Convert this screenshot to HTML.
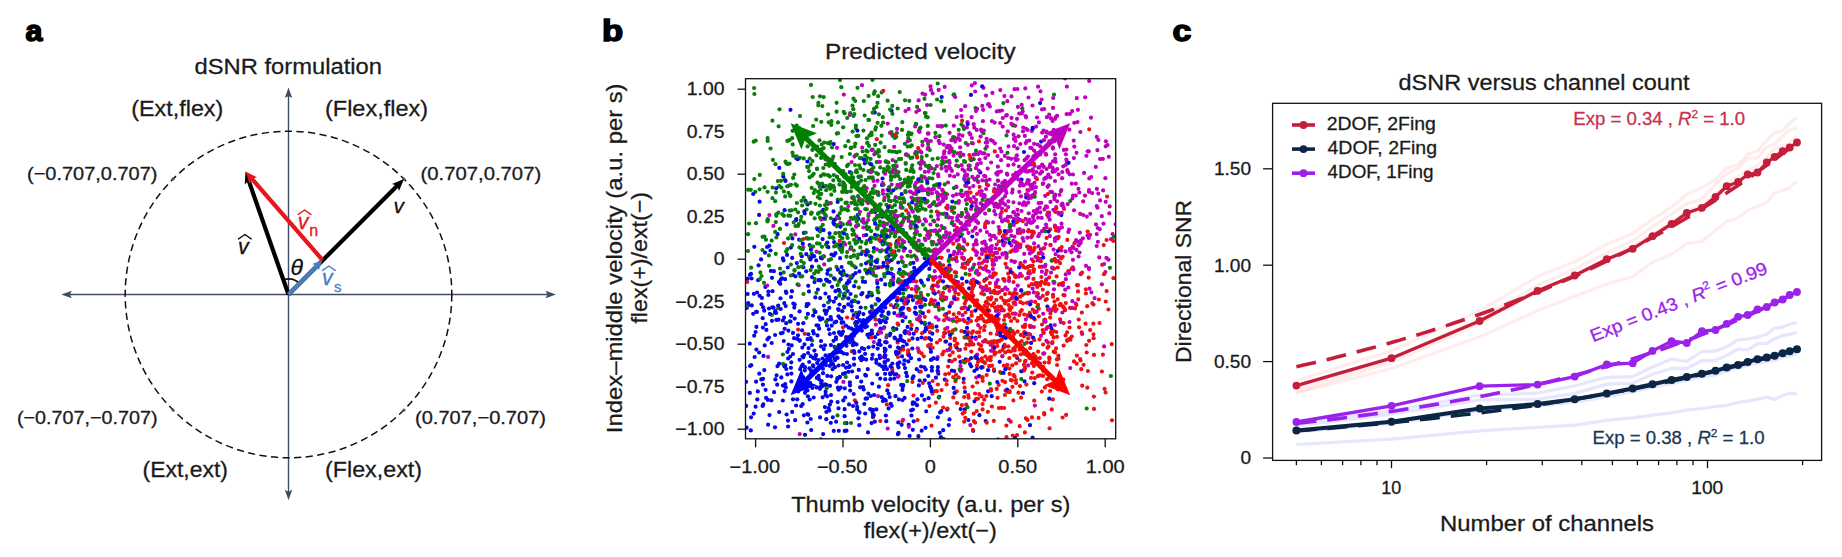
<!DOCTYPE html>
<html lang="en"><head><meta charset="utf-8"><title>dSNR figure</title>
<style>html,body{margin:0;padding:0;background:#fff}body{width:1842px;height:557px;overflow:hidden}svg{display:block}text[color]{fill:currentColor;stroke:currentColor;stroke-width:.28px}</style>
</head><body>
<svg width="1842" height="557" viewBox="0 0 1842 557" font-family='"Liberation Sans", sans-serif'>
<rect width="1842" height="557" fill="#fff"/>
<g id="panel-a">
<text x="25.6" y="41.0" font-size="29.3" fill="#000" textLength="16.9" lengthAdjust="spacingAndGlyphs" font-weight="bold" stroke="#000" stroke-width="1.5">a</text>
<text x="288.3" y="73.8" font-size="22.5" text-anchor="middle" color="#1a1a1a" textLength="187.5" lengthAdjust="spacingAndGlyphs">dSNR formulation</text>
<g stroke="#3f4e63" stroke-width="1.4" fill="#3f4e63">
<line x1="66" y1="294.5" x2="551" y2="294.5"/>
<line x1="288.5" y1="92" x2="288.5" y2="496"/>
</g>
<polygon fill="#3f4e63" points="61.30,294.50 71.80,290.80 69.90,294.50 71.80,298.20"/>
<polygon fill="#3f4e63" points="556.00,294.50 545.50,298.20 547.40,294.50 545.50,290.80"/>
<polygon fill="#3f4e63" points="288.50,87.50 292.20,98.00 288.50,96.10 284.80,98.00"/>
<polygon fill="#3f4e63" points="288.50,500.30 284.80,489.80 288.50,491.70 292.20,489.80"/>
<circle cx="288.5" cy="294.5" r="163.3" fill="none" stroke="#111" stroke-width="1.5" stroke-dasharray="7.2 4.4"/>
<circle cx="173.0" cy="179.0" r="1.6" fill="#555"/>
<circle cx="173.0" cy="410.0" r="1.6" fill="#555"/>
<circle cx="404.0" cy="179.0" r="1.6" fill="#555"/>
<circle cx="404.0" cy="410.0" r="1.6" fill="#555"/>
<path d="M283.3,279.9 A15.5,15.5 0 0 1 299.5,283.5" fill="none" stroke="#111" stroke-width="1.8"/>
<line x1="288.5" y1="294.5" x2="397.92" y2="185.08" stroke="#000" stroke-width="4.2"/>
<polygon fill="#000" points="403.97,179.03 399.02,191.05 397.25,185.75 391.95,183.98"/>
<line x1="288.5" y1="294.5" x2="248.32" y2="179.57" stroke="#000" stroke-width="4.2"/>
<polygon fill="#000" points="245.50,171.50 254.18,181.18 248.64,180.47 244.74,184.48"/>
<line x1="322.5" y1="260.0" x2="251.11" y2="177.95" stroke="#e8141e" stroke-width="4.2"/>
<polygon fill="#e8141e" points="245.50,171.50 257.15,177.27 251.74,178.67 249.60,183.84"/>
<line x1="288.5" y1="294.5" x2="317.45" y2="265.13" stroke="#4a7ebb" stroke-width="4.2"/>
<polygon fill="#4a7ebb" points="322.50,260.00 318.76,270.35 316.88,265.70 312.20,263.89"/>
<text x="131.3" y="115.5" font-size="22.5" color="#1a1a1a" textLength="92" lengthAdjust="spacingAndGlyphs">(Ext,flex)</text>
<text x="325" y="115.5" font-size="22.5" color="#1a1a1a" textLength="103" lengthAdjust="spacingAndGlyphs">(Flex,flex)</text>
<text x="142.5" y="477" font-size="22.5" color="#1a1a1a" textLength="85.5" lengthAdjust="spacingAndGlyphs">(Ext,ext)</text>
<text x="325" y="477" font-size="22.5" color="#1a1a1a" textLength="97" lengthAdjust="spacingAndGlyphs">(Flex,ext)</text>
<text x="27" y="179.5" font-size="18.5" color="#1a1a1a" textLength="130.5" lengthAdjust="spacingAndGlyphs">(−0.707,0.707)</text>
<text x="420.5" y="179.5" font-size="18.5" color="#1a1a1a" textLength="120.7" lengthAdjust="spacingAndGlyphs">(0.707,0.707)</text>
<text x="17" y="424.3" font-size="18.5" color="#1a1a1a" textLength="140.5" lengthAdjust="spacingAndGlyphs">(−0.707,−0.707)</text>
<text x="415" y="424.3" font-size="18.5" color="#1a1a1a" textLength="131" lengthAdjust="spacingAndGlyphs">(0.707,−0.707)</text>
<text x="238" y="253.5" font-size="21.5" font-style="italic" color="#111">v</text>
<path d="M238.6,238.9 Q243.0,235.9 244.9,234.5 Q246.8,235.9 251.2,238.9" fill="none" stroke="#111" stroke-width="1.5" stroke-linejoin="round" stroke-linecap="round"/>
<text x="393.5" y="212.8" font-size="21" font-style="italic" color="#111">v</text>
<text x="297.7" y="229" font-size="21.5" font-style="italic" color="#e8141e">v</text>
<path d="M298.3,214.4 Q302.7,211.4 304.6,210.0 Q306.5,211.4 310.9,214.4" fill="none" stroke="#e8141e" stroke-width="1.5" stroke-linejoin="round" stroke-linecap="round"/>
<text x="309.3" y="236.2" font-size="16" color="#e8141e">n</text>
<text x="322" y="285" font-size="21.5" font-style="italic" color="#4a7ebb">v</text>
<path d="M322.6,270.4 Q327.0,267.4 328.9,266.0 Q330.8,267.4 335.2,270.4" fill="none" stroke="#4a7ebb" stroke-width="1.5" stroke-linejoin="round" stroke-linecap="round"/>
<text x="334.0" y="292.2" font-size="15" color="#4a7ebb">s</text>
<text x="290.5" y="275.3" font-size="23" font-style="italic" color="#111">θ</text>
</g>
<g id="panel-b">
<text x="602.0" y="41.0" font-size="29.3" fill="#000" textLength="21.2" lengthAdjust="spacingAndGlyphs" font-weight="bold" stroke="#000" stroke-width="1.5">b</text>
<text x="920.3" y="58.8" font-size="22.5" text-anchor="middle" color="#1a1a1a" textLength="190.5" lengthAdjust="spacingAndGlyphs">Predicted velocity</text>
<clipPath id="cb"><rect x="745.5" y="78.7" width="370.20000000000005" height="360.1"/></clipPath>
<g clip-path="url(#cb)">
<g fill="none" stroke-width="4.2" stroke-linecap="round">
<path stroke="#bf00bf" d="M1085.0 195.6h0"/>
<path stroke="#ee1111" d="M954.9 338.5h0"/>
<path stroke="#bf00bf" d="M919.9 299.6h0"/>
<path stroke="#ee1111" d="M1019.3 247.4h0"/>
<path stroke="#0a7d0a" d="M925.9 116.7h0"/>
<path stroke="#bf00bf" d="M933.3 242.1h0"/>
<path stroke="#0a7d0a" d="M907.8 186.6h0M939.3 236.1h0"/>
<path stroke="#0808e6" d="M890.0 346.4h0"/>
<path stroke="#0a7d0a" d="M828.0 204.1h0"/>
<path stroke="#0808e6" d="M843.2 322.3h0"/>
<path stroke="#0a7d0a" d="M969.8 306.5h0"/>
<path stroke="#bf00bf" d="M832.2 159.3h0"/>
<path stroke="#ee1111" d="M1016.7 242.6h0"/>
<path stroke="#0a7d0a" d="M867.3 142.9h0"/>
<path stroke="#bf00bf" d="M931.3 168.1h0"/>
<path stroke="#0a7d0a" d="M867.5 151.6h0"/>
<path stroke="#bf00bf" d="M1043.2 313.8h0"/>
<path stroke="#0a7d0a" d="M891.4 132.0h0M882.8 117.2h0"/>
<path stroke="#ee1111" d="M1040.1 283.1h0"/>
<path stroke="#0a7d0a" d="M849.9 154.0h0"/>
<path stroke="#bf00bf" d="M912.9 281.1h0"/>
<path stroke="#0a7d0a" d="M848.2 164.6h0"/>
<path stroke="#bf00bf" d="M960.1 147.3h0"/>
<path stroke="#0a7d0a" d="M870.4 177.5h0M927.8 125.9h0"/>
<path stroke="#0808e6" d="M750.8 430.4h0"/>
<path stroke="#0a7d0a" d="M877.7 235.6h0"/>
<path stroke="#ee1111" d="M962.1 257.7h0"/>
<path stroke="#bf00bf" d="M1006.9 173.7h0"/>
<path stroke="#0a7d0a" d="M1016.0 222.3h0"/>
<path stroke="#bf00bf" d="M982.1 131.4h0"/>
<path stroke="#0808e6" d="M826.3 419.2h0"/>
<path stroke="#0a7d0a" d="M819.2 212.6h0"/>
<path stroke="#0808e6" d="M841.0 351.8h0M857.4 322.7h0"/>
<path stroke="#ee1111" d="M1038.7 253.4h0"/>
<path stroke="#0a7d0a" d="M1024.9 293.5h0M876.6 162.1h0"/>
<path stroke="#ee1111" d="M1063.8 307.7h0"/>
<path stroke="#bf00bf" d="M873.9 342.1h0M1012.6 189.7h0"/>
<path stroke="#0a7d0a" d="M830.8 203.1h0"/>
<path stroke="#bf00bf" d="M973.3 279.7h0"/>
<path stroke="#0a7d0a" d="M867.1 273.5h0M910.7 263.2h0M932.4 327.5h0"/>
<path stroke="#0808e6" d="M769.4 245.7h0"/>
<path stroke="#bf00bf" d="M921.5 186.3h0"/>
<path stroke="#0a7d0a" d="M878.4 292.5h0"/>
<path stroke="#bf00bf" d="M939.0 240.3h0"/>
<path stroke="#0a7d0a" d="M843.7 173.6h0"/>
<path stroke="#bf00bf" d="M988.1 155.0h0"/>
<path stroke="#0808e6" d="M818.7 360.0h0"/>
<path stroke="#ee1111" d="M1032.6 265.8h0"/>
<path stroke="#bf00bf" d="M1014.0 146.2h0M1067.9 172.2h0"/>
<path stroke="#0a7d0a" d="M874.3 220.3h0"/>
<path stroke="#bf00bf" d="M1055.2 154.3h0"/>
<path stroke="#ee1111" d="M937.0 342.5h0"/>
<path stroke="#bf00bf" d="M976.1 240.4h0"/>
<path stroke="#0808e6" d="M884.8 351.6h0"/>
<path stroke="#0a7d0a" d="M838.0 133.2h0"/>
<path stroke="#0808e6" d="M782.9 385.6h0"/>
<path stroke="#bf00bf" d="M922.2 190.5h0"/>
<path stroke="#ee1111" d="M1065.6 335.4h0"/>
<path stroke="#0808e6" d="M765.7 324.2h0M919.6 316.9h0M873.1 414.5h0"/>
<path stroke="#ee1111" d="M979.3 332.0h0"/>
<path stroke="#bf00bf" d="M1014.8 302.4h0"/>
<path stroke="#ee1111" d="M943.0 191.1h0"/>
<path stroke="#0a7d0a" d="M775.8 253.8h0M803.7 158.4h0M964.0 129.1h0"/>
<path stroke="#0808e6" d="M892.4 363.5h0M949.5 239.1h0"/>
<path stroke="#ee1111" d="M938.7 292.1h0"/>
<path stroke="#bf00bf" d="M1082.2 334.0h0"/>
<path stroke="#ee1111" d="M1044.1 413.0h0"/>
<path stroke="#0a7d0a" d="M847.0 178.1h0"/>
<path stroke="#bf00bf" d="M895.7 197.2h0"/>
<path stroke="#0a7d0a" d="M939.3 136.3h0"/>
<path stroke="#ee1111" d="M1011.9 380.4h0"/>
<path stroke="#0a7d0a" d="M830.1 269.1h0"/>
<path stroke="#bf00bf" d="M939.7 230.3h0"/>
<path stroke="#0808e6" d="M867.1 398.4h0M888.6 393.5h0M865.2 374.9h0"/>
<path stroke="#ee1111" d="M1006.4 258.0h0"/>
<path stroke="#0808e6" d="M846.8 283.7h0"/>
<path stroke="#ee1111" d="M954.7 340.4h0"/>
<path stroke="#0a7d0a" d="M899.0 159.0h0"/>
<path stroke="#ee1111" d="M941.6 390.1h0"/>
<path stroke="#0a7d0a" d="M869.7 256.1h0"/>
<path stroke="#ee1111" d="M1003.2 279.0h0"/>
<path stroke="#bf00bf" d="M969.4 133.0h0"/>
<path stroke="#0a7d0a" d="M916.6 249.2h0"/>
<path stroke="#ee1111" d="M977.2 382.5h0"/>
<path stroke="#0808e6" d="M938.3 373.7h0"/>
<path stroke="#bf00bf" d="M803.2 247.3h0"/>
<path stroke="#0808e6" d="M834.4 224.5h0"/>
<path stroke="#bf00bf" d="M949.4 290.8h0"/>
<path stroke="#0808e6" d="M966.1 336.7h0"/>
<path stroke="#0a7d0a" d="M778.1 308.2h0"/>
<path stroke="#0808e6" d="M829.8 365.8h0"/>
<path stroke="#bf00bf" d="M1070.3 368.1h0M1046.7 177.6h0"/>
<path stroke="#0a7d0a" d="M845.1 229.7h0"/>
<path stroke="#0808e6" d="M824.9 407.1h0"/>
<path stroke="#0a7d0a" d="M868.9 177.7h0"/>
<path stroke="#bf00bf" d="M1015.8 160.2h0M1105.7 146.3h0"/>
<path stroke="#0808e6" d="M775.4 379.4h0"/>
<path stroke="#0a7d0a" d="M908.9 204.4h0"/>
<path stroke="#bf00bf" d="M1057.8 238.5h0"/>
<path stroke="#0808e6" d="M885.3 307.6h0"/>
<path stroke="#0a7d0a" d="M840.3 246.5h0"/>
<path stroke="#bf00bf" d="M1066.9 161.8h0M941.1 295.5h0"/>
<path stroke="#0808e6" d="M887.3 390.4h0"/>
<path stroke="#ee1111" d="M1050.2 317.6h0"/>
<path stroke="#bf00bf" d="M952.8 208.5h0"/>
<path stroke="#ee1111" d="M898.6 376.0h0"/>
<path stroke="#bf00bf" d="M1025.2 171.2h0"/>
<path stroke="#0a7d0a" d="M927.4 183.4h0M887.0 244.0h0"/>
<path stroke="#bf00bf" d="M1052.1 343.2h0"/>
<path stroke="#ee1111" d="M1067.3 239.9h0"/>
<path stroke="#0a7d0a" d="M965.6 263.3h0"/>
<path stroke="#0808e6" d="M805.0 434.8h0M775.3 311.0h0"/>
<path stroke="#0a7d0a" d="M896.0 232.1h0"/>
<path stroke="#ee1111" d="M1044.2 320.1h0"/>
<path stroke="#bf00bf" d="M941.5 241.3h0"/>
<path stroke="#0a7d0a" d="M840.0 292.2h0"/>
<path stroke="#0808e6" d="M857.7 215.1h0"/>
<path stroke="#ee1111" d="M1014.6 376.5h0"/>
<path stroke="#0808e6" d="M765.0 252.7h0"/>
<path stroke="#0a7d0a" d="M919.6 128.9h0M775.9 192.6h0"/>
<path stroke="#0808e6" d="M906.8 284.3h0"/>
<path stroke="#ee1111" d="M1086.3 345.0h0"/>
<path stroke="#0808e6" d="M1024.5 381.3h0M919.4 371.5h0"/>
<path stroke="#0a7d0a" d="M898.7 250.6h0"/>
<path stroke="#0808e6" d="M884.5 306.4h0"/>
<path stroke="#0a7d0a" d="M764.4 236.6h0"/>
<path stroke="#bf00bf" d="M1069.1 229.5h0"/>
<path stroke="#ee1111" d="M1038.0 304.9h0"/>
<path stroke="#bf00bf" d="M830.4 203.0h0M1058.8 256.3h0"/>
<path stroke="#0808e6" d="M837.7 216.3h0"/>
<path stroke="#bf00bf" d="M1046.1 154.7h0M958.9 245.1h0"/>
<path stroke="#0808e6" d="M905.0 368.1h0"/>
<path stroke="#0a7d0a" d="M809.1 238.6h0M901.6 281.3h0"/>
<path stroke="#ee1111" d="M1031.3 251.1h0M1010.1 328.8h0"/>
<path stroke="#0a7d0a" d="M866.8 209.3h0"/>
<path stroke="#0808e6" d="M867.0 270.8h0"/>
<path stroke="#bf00bf" d="M1038.8 297.8h0M1038.0 294.1h0"/>
<path stroke="#ee1111" d="M975.8 357.6h0M969.4 155.0h0"/>
<path stroke="#0808e6" d="M1034.2 383.2h0"/>
<path stroke="#0a7d0a" d="M871.1 192.4h0"/>
<path stroke="#ee1111" d="M1103.7 245.1h0"/>
<path stroke="#bf00bf" d="M938.7 89.9h0"/>
<path stroke="#0808e6" d="M813.0 365.3h0"/>
<path stroke="#0a7d0a" d="M859.0 214.2h0M910.8 227.9h0"/>
<path stroke="#ee1111" d="M1065.1 309.9h0"/>
<path stroke="#0a7d0a" d="M825.7 164.5h0"/>
<path stroke="#ee1111" d="M989.6 366.1h0"/>
<path stroke="#bf00bf" d="M995.5 214.5h0"/>
<path stroke="#ee1111" d="M997.6 397.8h0"/>
<path stroke="#bf00bf" d="M1083.3 215.0h0"/>
<path stroke="#0808e6" d="M888.5 272.6h0M884.5 362.2h0M908.0 301.2h0"/>
<path stroke="#ee1111" d="M957.3 343.5h0"/>
<path stroke="#bf00bf" d="M878.7 161.8h0"/>
<path stroke="#ee1111" d="M1056.6 276.4h0"/>
<path stroke="#0808e6" d="M878.9 386.7h0"/>
<path stroke="#0a7d0a" d="M942.2 126.2h0"/>
<path stroke="#ee1111" d="M1021.8 310.0h0"/>
<path stroke="#bf00bf" d="M1054.5 141.1h0"/>
<path stroke="#0a7d0a" d="M816.1 271.1h0"/>
<path stroke="#bf00bf" d="M1038.6 167.7h0"/>
<path stroke="#0a7d0a" d="M770.5 148.5h0"/>
<path stroke="#ee1111" d="M1035.3 363.0h0"/>
<path stroke="#bf00bf" d="M877.2 215.8h0"/>
<path stroke="#0a7d0a" d="M852.3 229.7h0"/>
<path stroke="#0808e6" d="M831.0 395.0h0"/>
<path stroke="#0a7d0a" d="M755.3 191.8h0"/>
<path stroke="#bf00bf" d="M1038.6 203.1h0"/>
<path stroke="#0a7d0a" d="M915.6 234.2h0"/>
<path stroke="#bf00bf" d="M944.4 151.3h0"/>
<path stroke="#0808e6" d="M885.8 322.2h0"/>
<path stroke="#ee1111" d="M1090.2 330.1h0"/>
<path stroke="#0a7d0a" d="M872.6 178.1h0"/>
<path stroke="#ee1111" d="M950.3 338.0h0"/>
<path stroke="#bf00bf" d="M932.7 277.4h0"/>
<path stroke="#0a7d0a" d="M855.0 165.0h0"/>
<path stroke="#bf00bf" d="M1045.5 244.1h0"/>
<path stroke="#ee1111" d="M957.4 233.6h0"/>
<path stroke="#bf00bf" d="M1085.2 97.3h0"/>
<path stroke="#ee1111" d="M1025.5 360.8h0"/>
<path stroke="#bf00bf" d="M949.9 319.6h0"/>
<path stroke="#0a7d0a" d="M856.7 221.8h0M846.6 256.7h0"/>
<path stroke="#0808e6" d="M802.1 330.3h0"/>
<path stroke="#bf00bf" d="M1068.4 231.9h0"/>
<path stroke="#0808e6" d="M831.1 319.5h0"/>
<path stroke="#0a7d0a" d="M861.5 241.8h0"/>
<path stroke="#0808e6" d="M857.2 406.9h0"/>
<path stroke="#ee1111" d="M965.4 348.7h0M1049.2 277.4h0"/>
<path stroke="#bf00bf" d="M939.7 143.2h0"/>
<path stroke="#ee1111" d="M951.9 210.8h0"/>
<path stroke="#bf00bf" d="M1032.7 171.0h0M928.3 194.4h0"/>
<path stroke="#0808e6" d="M785.9 291.5h0"/>
<path stroke="#bf00bf" d="M1025.6 218.9h0"/>
<path stroke="#0a7d0a" d="M821.1 157.9h0M1008.5 239.2h0"/>
<path stroke="#0808e6" d="M792.9 275.1h0"/>
<path stroke="#ee1111" d="M913.5 395.5h0"/>
<path stroke="#0808e6" d="M849.9 342.3h0"/>
<path stroke="#bf00bf" d="M1002.4 253.7h0"/>
<path stroke="#0808e6" d="M865.9 254.8h0"/>
<path stroke="#ee1111" d="M1027.6 419.9h0M1052.2 260.3h0M964.2 397.0h0"/>
<path stroke="#0a7d0a" d="M827.2 281.2h0"/>
<path stroke="#ee1111" d="M949.8 355.3h0"/>
<path stroke="#0808e6" d="M869.1 337.3h0"/>
<path stroke="#ee1111" d="M920.1 320.5h0"/>
<path stroke="#0808e6" d="M946.2 314.0h0"/>
<path stroke="#0a7d0a" d="M850.9 247.1h0"/>
<path stroke="#0808e6" d="M780.7 273.7h0"/>
<path stroke="#bf00bf" d="M1041.2 202.8h0"/>
<path stroke="#0808e6" d="M861.4 253.9h0"/>
<path stroke="#0a7d0a" d="M853.5 98.7h0"/>
<path stroke="#ee1111" d="M1064.0 209.0h0"/>
<path stroke="#0808e6" d="M841.4 318.8h0"/>
<path stroke="#bf00bf" d="M958.3 239.7h0"/>
<path stroke="#ee1111" d="M1010.9 332.0h0"/>
<path stroke="#0a7d0a" d="M920.6 205.5h0M912.3 157.6h0"/>
<path stroke="#ee1111" d="M1000.8 331.4h0"/>
<path stroke="#bf00bf" d="M885.1 223.6h0M1011.3 235.8h0M1035.9 187.2h0"/>
<path stroke="#0808e6" d="M823.8 349.1h0"/>
<path stroke="#0a7d0a" d="M886.9 170.3h0"/>
<path stroke="#0808e6" d="M896.9 241.3h0"/>
<path stroke="#0a7d0a" d="M932.5 159.0h0M969.7 165.7h0"/>
<path stroke="#bf00bf" d="M1016.9 155.3h0"/>
<path stroke="#0a7d0a" d="M790.9 275.5h0"/>
<path stroke="#bf00bf" d="M1002.6 236.8h0M974.2 264.5h0"/>
<path stroke="#ee1111" d="M994.2 290.6h0"/>
<path stroke="#bf00bf" d="M1054.8 325.0h0"/>
<path stroke="#ee1111" d="M985.4 356.6h0"/>
<path stroke="#0808e6" d="M968.5 318.8h0"/>
<path stroke="#bf00bf" d="M935.5 277.1h0"/>
<path stroke="#ee1111" d="M1002.8 289.8h0"/>
<path stroke="#0808e6" d="M924.8 380.3h0M888.6 408.4h0"/>
<path stroke="#bf00bf" d="M1070.2 250.5h0"/>
<path stroke="#0a7d0a" d="M950.5 168.5h0"/>
<path stroke="#0808e6" d="M827.0 325.4h0M946.5 214.1h0"/>
<path stroke="#bf00bf" d="M944.6 276.2h0M1105.4 272.0h0"/>
<path stroke="#0808e6" d="M887.1 273.2h0"/>
<path stroke="#bf00bf" d="M1105.9 141.3h0"/>
<path stroke="#0a7d0a" d="M901.0 215.5h0"/>
<path stroke="#0808e6" d="M841.6 322.7h0"/>
<path stroke="#bf00bf" d="M938.7 140.9h0"/>
<path stroke="#0808e6" d="M822.3 318.7h0"/>
<path stroke="#ee1111" d="M1059.5 248.9h0"/>
<path stroke="#0a7d0a" d="M829.6 237.2h0"/>
<path stroke="#bf00bf" d="M930.5 264.8h0M1068.3 287.5h0"/>
<path stroke="#ee1111" d="M936.9 211.7h0"/>
<path stroke="#0a7d0a" d="M776.3 214.3h0"/>
<path stroke="#0808e6" d="M831.7 325.7h0"/>
<path stroke="#0a7d0a" d="M997.5 204.8h0M983.7 362.0h0"/>
<path stroke="#bf00bf" d="M883.2 240.5h0"/>
<path stroke="#0808e6" d="M1053.3 268.6h0"/>
<path stroke="#bf00bf" d="M953.6 280.4h0M941.4 226.0h0"/>
<path stroke="#0808e6" d="M898.5 367.3h0"/>
<path stroke="#0a7d0a" d="M789.1 185.5h0M916.7 155.5h0"/>
<path stroke="#0808e6" d="M822.9 368.7h0"/>
<path stroke="#ee1111" d="M1105.6 392.5h0M1051.6 310.3h0M1080.6 360.5h0"/>
<path stroke="#bf00bf" d="M1086.4 155.8h0"/>
<path stroke="#0a7d0a" d="M920.3 311.8h0"/>
<path stroke="#bf00bf" d="M1046.3 279.4h0"/>
<path stroke="#ee1111" d="M962.7 413.6h0"/>
<path stroke="#0a7d0a" d="M868.3 261.6h0"/>
<path stroke="#ee1111" d="M999.1 325.5h0"/>
<path stroke="#0808e6" d="M831.2 363.6h0M925.9 264.8h0"/>
<path stroke="#0a7d0a" d="M874.7 91.3h0"/>
<path stroke="#ee1111" d="M1055.0 305.7h0"/>
<path stroke="#0a7d0a" d="M837.6 285.1h0"/>
<path stroke="#bf00bf" d="M949.1 166.4h0"/>
<path stroke="#ee1111" d="M1027.4 190.1h0"/>
<path stroke="#0808e6" d="M797.2 338.8h0M877.8 334.0h0"/>
<path stroke="#0a7d0a" d="M954.0 225.2h0"/>
<path stroke="#bf00bf" d="M994.2 204.4h0"/>
<path stroke="#ee1111" d="M915.4 242.8h0"/>
<path stroke="#0808e6" d="M859.4 312.4h0"/>
<path stroke="#0a7d0a" d="M910.2 182.9h0"/>
<path stroke="#bf00bf" d="M918.7 350.9h0"/>
<path stroke="#0a7d0a" d="M785.2 196.4h0M831.3 194.7h0"/>
<path stroke="#bf00bf" d="M1032.9 233.6h0"/>
<path stroke="#ee1111" d="M1020.5 311.7h0"/>
<path stroke="#0808e6" d="M871.2 273.1h0"/>
<path stroke="#0a7d0a" d="M790.3 196.1h0"/>
<path stroke="#0808e6" d="M887.1 369.1h0"/>
<path stroke="#bf00bf" d="M1001.1 160.2h0"/>
<path stroke="#ee1111" d="M975.1 301.5h0"/>
<path stroke="#0808e6" d="M950.1 344.5h0"/>
<path stroke="#0a7d0a" d="M899.6 237.8h0"/>
<path stroke="#bf00bf" d="M1015.2 125.8h0"/>
<path stroke="#0808e6" d="M878.5 300.6h0M883.5 262.9h0"/>
<path stroke="#bf00bf" d="M1055.0 241.0h0"/>
<path stroke="#ee1111" d="M1007.3 391.8h0"/>
<path stroke="#0808e6" d="M786.2 323.2h0"/>
<path stroke="#0a7d0a" d="M784.6 179.6h0"/>
<path stroke="#0808e6" d="M781.3 377.4h0"/>
<path stroke="#bf00bf" d="M980.6 136.6h0"/>
<path stroke="#0a7d0a" d="M843.2 242.7h0M796.8 125.7h0M874.0 108.9h0"/>
<path stroke="#bf00bf" d="M966.3 185.6h0M997.5 156.1h0"/>
<path stroke="#0808e6" d="M838.8 430.8h0"/>
<path stroke="#bf00bf" d="M1015.4 248.6h0M1050.6 245.1h0M955.7 284.5h0"/>
<path stroke="#ee1111" d="M1015.9 380.1h0"/>
<path stroke="#0a7d0a" d="M833.3 156.7h0"/>
<path stroke="#ee1111" d="M1087.7 231.5h0"/>
<path stroke="#0808e6" d="M833.8 255.4h0"/>
<path stroke="#ee1111" d="M1033.4 269.8h0"/>
<path stroke="#bf00bf" d="M944.7 287.7h0M1045.8 177.7h0"/>
<path stroke="#0a7d0a" d="M850.9 262.5h0"/>
<path stroke="#bf00bf" d="M1049.1 212.5h0M1057.5 228.0h0"/>
<path stroke="#0808e6" d="M871.9 358.7h0"/>
<path stroke="#ee1111" d="M1005.5 390.6h0M987.9 256.5h0"/>
<path stroke="#bf00bf" d="M1001.5 151.5h0"/>
<path stroke="#0808e6" d="M857.2 409.6h0"/>
<path stroke="#ee1111" d="M982.6 409.4h0"/>
<path stroke="#0808e6" d="M901.1 349.4h0"/>
<path stroke="#0a7d0a" d="M916.2 257.4h0"/>
<path stroke="#0808e6" d="M875.1 337.2h0"/>
<path stroke="#0a7d0a" d="M884.6 147.1h0"/>
<path stroke="#bf00bf" d="M952.4 221.6h0"/>
<path stroke="#ee1111" d="M1047.5 347.8h0"/>
<path stroke="#0a7d0a" d="M970.4 169.7h0"/>
<path stroke="#0808e6" d="M846.5 345.8h0"/>
<path stroke="#ee1111" d="M1034.7 312.2h0"/>
<path stroke="#0808e6" d="M834.6 322.4h0"/>
<path stroke="#bf00bf" d="M989.5 179.5h0"/>
<path stroke="#0a7d0a" d="M905.3 191.1h0"/>
<path stroke="#ee1111" d="M997.8 331.0h0"/>
<path stroke="#bf00bf" d="M946.4 234.6h0M966.0 217.3h0"/>
<path stroke="#ee1111" d="M1017.4 321.0h0M1060.1 319.3h0"/>
<path stroke="#bf00bf" d="M1048.7 185.3h0M1047.9 186.3h0"/>
<path stroke="#0808e6" d="M817.2 363.1h0"/>
<path stroke="#bf00bf" d="M928.3 188.9h0"/>
<path stroke="#0808e6" d="M798.1 323.8h0"/>
<path stroke="#bf00bf" d="M883.1 193.8h0"/>
<path stroke="#ee1111" d="M1024.9 327.0h0"/>
<path stroke="#0808e6" d="M879.2 320.2h0"/>
<path stroke="#bf00bf" d="M944.7 86.9h0"/>
<path stroke="#0a7d0a" d="M897.7 281.8h0"/>
<path stroke="#bf00bf" d="M996.8 111.4h0"/>
<path stroke="#0a7d0a" d="M921.5 202.0h0"/>
<path stroke="#0808e6" d="M751.8 305.4h0M759.6 201.7h0M746.1 381.8h0"/>
<path stroke="#ee1111" d="M1040.9 366.6h0"/>
<path stroke="#bf00bf" d="M1047.7 292.9h0"/>
<path stroke="#0808e6" d="M814.4 350.6h0"/>
<path stroke="#bf00bf" d="M958.0 138.3h0"/>
<path stroke="#0808e6" d="M929.1 338.1h0"/>
<path stroke="#bf00bf" d="M954.1 138.0h0M956.7 240.7h0M994.8 317.0h0M1044.4 321.5h0"/>
<path stroke="#ee1111" d="M999.3 233.3h0M1047.0 294.0h0"/>
<path stroke="#0808e6" d="M928.8 345.4h0M876.3 362.8h0"/>
<path stroke="#bf00bf" d="M1026.4 158.4h0"/>
<path stroke="#ee1111" d="M944.6 315.0h0"/>
<path stroke="#0808e6" d="M828.9 329.3h0"/>
<path stroke="#bf00bf" d="M936.7 192.4h0"/>
<path stroke="#0808e6" d="M885.9 415.5h0"/>
<path stroke="#0a7d0a" d="M888.2 162.4h0"/>
<path stroke="#0808e6" d="M871.9 295.3h0"/>
<path stroke="#0a7d0a" d="M839.4 184.6h0"/>
<path stroke="#bf00bf" d="M1030.8 186.6h0M1057.2 132.4h0"/>
<path stroke="#ee1111" d="M963.2 308.0h0M1020.4 244.5h0"/>
<path stroke="#0808e6" d="M896.4 329.0h0M795.2 420.2h0M833.8 301.7h0"/>
<path stroke="#bf00bf" d="M1040.8 249.3h0"/>
<path stroke="#0808e6" d="M912.8 429.8h0M931.9 370.7h0"/>
<path stroke="#0a7d0a" d="M854.1 239.9h0M944.0 110.7h0M869.9 255.9h0M853.6 255.7h0"/>
<path stroke="#ee1111" d="M1005.1 382.1h0"/>
<path stroke="#0808e6" d="M1015.7 297.8h0"/>
<path stroke="#bf00bf" d="M873.6 180.9h0"/>
<path stroke="#0a7d0a" d="M887.2 194.7h0"/>
<path stroke="#ee1111" d="M1010.5 251.8h0"/>
<path stroke="#bf00bf" d="M885.2 173.7h0"/>
<path stroke="#0a7d0a" d="M869.4 135.6h0"/>
<path stroke="#0808e6" d="M886.6 342.3h0"/>
<path stroke="#ee1111" d="M924.8 338.7h0"/>
<path stroke="#0a7d0a" d="M803.9 263.1h0M836.9 176.7h0"/>
<path stroke="#ee1111" d="M1014.4 333.4h0"/>
<path stroke="#0808e6" d="M796.8 263.1h0"/>
<path stroke="#bf00bf" d="M1080.6 243.1h0M1045.5 264.9h0"/>
<path stroke="#0a7d0a" d="M868.4 216.1h0"/>
<path stroke="#bf00bf" d="M1031.8 130.9h0"/>
<path stroke="#0a7d0a" d="M840.3 249.7h0"/>
<path stroke="#0808e6" d="M829.8 300.6h0M852.1 310.7h0"/>
<path stroke="#bf00bf" d="M1061.3 250.4h0"/>
<path stroke="#ee1111" d="M886.8 404.4h0"/>
<path stroke="#0808e6" d="M808.6 348.2h0M886.8 318.4h0"/>
<path stroke="#bf00bf" d="M1061.4 190.1h0"/>
<path stroke="#0808e6" d="M845.2 397.5h0"/>
<path stroke="#0a7d0a" d="M889.3 236.6h0"/>
<path stroke="#ee1111" d="M996.3 325.6h0"/>
<path stroke="#0a7d0a" d="M826.6 208.5h0M907.2 381.2h0"/>
<path stroke="#bf00bf" d="M965.2 106.2h0"/>
<path stroke="#0a7d0a" d="M986.1 180.9h0"/>
<path stroke="#bf00bf" d="M1022.7 238.2h0"/>
<path stroke="#0808e6" d="M846.9 275.5h0"/>
<path stroke="#bf00bf" d="M893.8 212.0h0"/>
<path stroke="#ee1111" d="M899.6 352.1h0"/>
<path stroke="#0a7d0a" d="M919.1 200.3h0"/>
<path stroke="#0808e6" d="M855.6 273.1h0"/>
<path stroke="#ee1111" d="M980.0 267.4h0M985.2 312.7h0"/>
<path stroke="#0a7d0a" d="M943.0 308.8h0M931.2 211.3h0"/>
<path stroke="#bf00bf" d="M893.8 226.5h0"/>
<path stroke="#0a7d0a" d="M941.2 101.3h0"/>
<path stroke="#0808e6" d="M884.1 327.3h0"/>
<path stroke="#ee1111" d="M937.7 304.9h0"/>
<path stroke="#0808e6" d="M908.8 354.4h0"/>
<path stroke="#0a7d0a" d="M853.5 115.9h0"/>
<path stroke="#ee1111" d="M971.7 292.2h0"/>
<path stroke="#0808e6" d="M826.9 310.9h0M881.5 315.7h0"/>
<path stroke="#0a7d0a" d="M889.8 254.5h0"/>
<path stroke="#bf00bf" d="M878.0 396.1h0"/>
<path stroke="#0a7d0a" d="M854.2 255.4h0M968.4 179.1h0"/>
<path stroke="#bf00bf" d="M923.8 162.8h0"/>
<path stroke="#0808e6" d="M881.0 241.4h0"/>
<path stroke="#bf00bf" d="M996.3 173.5h0"/>
<path stroke="#ee1111" d="M1034.2 284.5h0"/>
<path stroke="#bf00bf" d="M1000.2 190.7h0"/>
<path stroke="#0808e6" d="M753.7 413.6h0"/>
<path stroke="#bf00bf" d="M1012.7 124.7h0"/>
<path stroke="#0808e6" d="M759.2 352.5h0"/>
<path stroke="#ee1111" d="M992.0 365.7h0"/>
<path stroke="#0808e6" d="M940.9 437.2h0"/>
<path stroke="#bf00bf" d="M1052.1 192.1h0"/>
<path stroke="#ee1111" d="M976.2 398.9h0M948.1 366.6h0M958.7 377.4h0"/>
<path stroke="#bf00bf" d="M991.9 121.1h0M1028.2 273.2h0"/>
<path stroke="#ee1111" d="M1054.5 301.6h0"/>
<path stroke="#0a7d0a" d="M866.0 191.4h0"/>
<path stroke="#0808e6" d="M964.8 409.4h0M885.1 373.8h0"/>
<path stroke="#bf00bf" d="M942.8 197.4h0"/>
<path stroke="#0a7d0a" d="M873.8 193.1h0"/>
<path stroke="#bf00bf" d="M967.7 196.5h0M1023.3 230.5h0"/>
<path stroke="#ee1111" d="M1009.4 308.9h0"/>
<path stroke="#0a7d0a" d="M949.5 276.2h0"/>
<path stroke="#bf00bf" d="M975.5 281.1h0"/>
<path stroke="#ee1111" d="M989.4 255.0h0M982.5 287.5h0"/>
<path stroke="#0a7d0a" d="M878.3 192.3h0"/>
<path stroke="#0808e6" d="M794.7 304.4h0"/>
<path stroke="#0a7d0a" d="M866.8 250.1h0"/>
<path stroke="#0808e6" d="M968.0 262.3h0M886.9 260.1h0"/>
<path stroke="#ee1111" d="M984.7 268.7h0M993.2 346.8h0"/>
<path stroke="#0a7d0a" d="M811.7 253.6h0"/>
<path stroke="#bf00bf" d="M1015.3 289.4h0M881.9 250.4h0M893.4 274.8h0M1105.7 201.8h0"/>
<path stroke="#0808e6" d="M1032.7 128.7h0"/>
<path stroke="#ee1111" d="M1001.2 331.7h0"/>
<path stroke="#0808e6" d="M814.8 311.9h0"/>
<path stroke="#bf00bf" d="M1111.1 239.2h0"/>
<path stroke="#0808e6" d="M773.5 307.7h0"/>
<path stroke="#ee1111" d="M1065.8 303.1h0M871.3 337.4h0"/>
<path stroke="#0a7d0a" d="M898.5 172.1h0"/>
<path stroke="#ee1111" d="M964.8 303.5h0"/>
<path stroke="#bf00bf" d="M1027.1 194.2h0"/>
<path stroke="#0a7d0a" d="M884.5 276.6h0"/>
<path stroke="#ee1111" d="M920.8 371.6h0"/>
<path stroke="#bf00bf" d="M986.5 257.7h0M1032.6 222.2h0M962.5 169.4h0M973.8 244.9h0M972.6 231.0h0M1007.3 101.2h0"/>
<path stroke="#ee1111" d="M847.1 317.5h0"/>
<path stroke="#0808e6" d="M868.3 393.6h0M873.0 409.9h0"/>
<path stroke="#ee1111" d="M953.3 377.2h0"/>
<path stroke="#0a7d0a" d="M895.3 234.8h0M955.6 329.3h0"/>
<path stroke="#bf00bf" d="M982.9 268.4h0"/>
<path stroke="#0a7d0a" d="M909.9 140.3h0M841.5 210.1h0M847.0 166.1h0"/>
<path stroke="#bf00bf" d="M995.5 248.5h0"/>
<path stroke="#0a7d0a" d="M847.1 252.0h0"/>
<path stroke="#bf00bf" d="M991.8 236.2h0"/>
<path stroke="#ee1111" d="M1077.9 285.2h0M908.2 352.2h0"/>
<path stroke="#0808e6" d="M1039.8 363.5h0"/>
<path stroke="#0a7d0a" d="M819.8 186.5h0"/>
<path stroke="#ee1111" d="M1026.2 278.6h0"/>
<path stroke="#0a7d0a" d="M936.4 205.3h0"/>
<path stroke="#ee1111" d="M972.8 285.9h0"/>
<path stroke="#0808e6" d="M757.8 391.4h0"/>
<path stroke="#0a7d0a" d="M905.9 265.9h0"/>
<path stroke="#0808e6" d="M807.6 204.4h0"/>
<path stroke="#bf00bf" d="M1051.0 272.6h0M1065.7 274.4h0"/>
<path stroke="#0a7d0a" d="M916.1 193.9h0"/>
<path stroke="#bf00bf" d="M873.2 273.2h0"/>
<path stroke="#ee1111" d="M1020.6 345.7h0M986.1 266.3h0"/>
<path stroke="#0808e6" d="M790.9 367.8h0"/>
<path stroke="#bf00bf" d="M970.3 134.6h0"/>
<path stroke="#0808e6" d="M873.8 415.1h0"/>
<path stroke="#0a7d0a" d="M890.7 214.6h0"/>
<path stroke="#0808e6" d="M830.7 360.4h0"/>
<path stroke="#ee1111" d="M1017.7 331.6h0"/>
<path stroke="#bf00bf" d="M934.3 221.4h0"/>
<path stroke="#0a7d0a" d="M788.4 215.7h0"/>
<path stroke="#0808e6" d="M890.1 373.4h0"/>
<path stroke="#0a7d0a" d="M793.1 177.9h0M984.0 294.3h0"/>
<path stroke="#ee1111" d="M1081.3 369.2h0"/>
<path stroke="#bf00bf" d="M980.3 230.7h0"/>
<path stroke="#ee1111" d="M999.3 249.2h0"/>
<path stroke="#0808e6" d="M875.1 212.1h0"/>
<path stroke="#0a7d0a" d="M904.5 182.8h0M969.4 260.9h0M915.3 228.6h0M880.6 142.7h0M767.5 220.3h0"/>
<path stroke="#0808e6" d="M802.5 356.5h0"/>
<path stroke="#0a7d0a" d="M987.7 200.1h0"/>
<path stroke="#0808e6" d="M794.1 338.2h0"/>
<path stroke="#bf00bf" d="M1037.6 260.5h0"/>
<path stroke="#ee1111" d="M945.2 374.3h0M1006.2 368.2h0"/>
<path stroke="#0808e6" d="M780.7 279.8h0M769.5 415.1h0"/>
<path stroke="#ee1111" d="M949.4 287.1h0"/>
<path stroke="#0808e6" d="M748.3 305.2h0"/>
<path stroke="#bf00bf" d="M997.1 252.9h0M994.6 253.2h0M985.8 314.5h0M1038.4 246.3h0M915.5 216.5h0M1025.9 319.4h0"/>
<path stroke="#ee1111" d="M967.7 199.0h0"/>
<path stroke="#0808e6" d="M858.2 302.3h0"/>
<path stroke="#ee1111" d="M890.9 305.0h0"/>
<path stroke="#bf00bf" d="M798.7 285.2h0"/>
<path stroke="#0808e6" d="M891.6 110.7h0"/>
<path stroke="#ee1111" d="M843.0 327.3h0"/>
<path stroke="#0808e6" d="M767.1 247.0h0"/>
<path stroke="#0a7d0a" d="M913.6 171.9h0M851.0 423.0h0"/>
<path stroke="#bf00bf" d="M1014.9 261.5h0"/>
<path stroke="#0a7d0a" d="M939.0 309.8h0"/>
<path stroke="#bf00bf" d="M1008.8 419.8h0"/>
<path stroke="#0808e6" d="M837.2 352.4h0M860.0 358.1h0M839.8 377.3h0M782.9 320.5h0M764.3 370.1h0M812.0 266.7h0"/>
<path stroke="#bf00bf" d="M1029.5 302.4h0"/>
<path stroke="#0808e6" d="M790.9 247.6h0"/>
<path stroke="#bf00bf" d="M975.2 91.5h0M1037.3 227.0h0"/>
<path stroke="#0a7d0a" d="M910.9 134.1h0"/>
<path stroke="#0808e6" d="M813.2 366.6h0M793.0 332.9h0M972.3 236.5h0M754.2 335.7h0"/>
<path stroke="#0a7d0a" d="M799.4 247.3h0M841.7 157.1h0M844.0 242.9h0"/>
<path stroke="#ee1111" d="M1034.9 311.6h0"/>
<path stroke="#bf00bf" d="M1017.5 209.8h0"/>
<path stroke="#ee1111" d="M937.9 384.5h0"/>
<path stroke="#0a7d0a" d="M830.5 163.5h0"/>
<path stroke="#bf00bf" d="M947.3 271.1h0"/>
<path stroke="#0a7d0a" d="M900.0 187.5h0"/>
<path stroke="#bf00bf" d="M937.2 232.3h0"/>
<path stroke="#0808e6" d="M793.3 303.6h0"/>
<path stroke="#0a7d0a" d="M779.2 186.2h0"/>
<path stroke="#bf00bf" d="M985.8 142.5h0M1076.8 98.2h0"/>
<path stroke="#0a7d0a" d="M920.5 127.5h0"/>
<path stroke="#ee1111" d="M1065.0 310.1h0"/>
<path stroke="#bf00bf" d="M927.9 133.7h0"/>
<path stroke="#ee1111" d="M1050.1 391.0h0"/>
<path stroke="#0a7d0a" d="M906.2 169.9h0"/>
<path stroke="#ee1111" d="M957.0 403.0h0"/>
<path stroke="#0a7d0a" d="M817.0 243.4h0"/>
<path stroke="#0808e6" d="M879.5 340.7h0"/>
<path stroke="#bf00bf" d="M1003.1 203.2h0"/>
<path stroke="#0808e6" d="M751.0 273.9h0"/>
<path stroke="#0a7d0a" d="M985.5 148.7h0"/>
<path stroke="#0808e6" d="M801.8 256.2h0"/>
<path stroke="#bf00bf" d="M1027.4 237.7h0"/>
<path stroke="#0808e6" d="M880.3 322.5h0"/>
<path stroke="#bf00bf" d="M930.8 141.0h0M986.9 232.0h0"/>
<path stroke="#0a7d0a" d="M962.4 248.2h0"/>
<path stroke="#bf00bf" d="M990.7 292.4h0"/>
<path stroke="#0a7d0a" d="M876.0 276.0h0"/>
<path stroke="#0808e6" d="M777.5 366.2h0M859.0 412.6h0"/>
<path stroke="#0a7d0a" d="M887.6 210.3h0"/>
<path stroke="#0808e6" d="M894.5 251.6h0M827.0 280.1h0M756.9 311.9h0"/>
<path stroke="#bf00bf" d="M946.3 170.8h0"/>
<path stroke="#0808e6" d="M911.2 329.0h0M973.2 430.8h0"/>
<path stroke="#ee1111" d="M1004.6 344.8h0"/>
<path stroke="#bf00bf" d="M998.2 180.8h0"/>
<path stroke="#0808e6" d="M772.2 307.3h0"/>
<path stroke="#ee1111" d="M998.7 384.9h0"/>
<path stroke="#0808e6" d="M937.8 417.3h0"/>
<path stroke="#bf00bf" d="M978.0 176.3h0"/>
<path stroke="#ee1111" d="M921.6 353.4h0"/>
<path stroke="#0a7d0a" d="M965.8 143.1h0"/>
<path stroke="#ee1111" d="M945.1 329.0h0"/>
<path stroke="#0808e6" d="M778.2 305.5h0"/>
<path stroke="#0a7d0a" d="M930.8 230.9h0"/>
<path stroke="#bf00bf" d="M1062.3 172.0h0M986.2 201.3h0M1041.6 171.4h0M994.2 211.1h0"/>
<path stroke="#0808e6" d="M834.0 333.0h0"/>
<path stroke="#bf00bf" d="M990.6 247.0h0"/>
<path stroke="#ee1111" d="M1021.1 397.6h0"/>
<path stroke="#bf00bf" d="M1019.7 229.1h0"/>
<path stroke="#0808e6" d="M843.1 365.0h0"/>
<path stroke="#ee1111" d="M1019.7 342.7h0"/>
<path stroke="#0a7d0a" d="M828.1 114.3h0"/>
<path stroke="#0808e6" d="M930.1 262.7h0M975.6 337.6h0"/>
<path stroke="#0a7d0a" d="M815.5 203.8h0"/>
<path stroke="#0808e6" d="M865.2 413.5h0"/>
<path stroke="#ee1111" d="M996.7 388.9h0"/>
<path stroke="#0808e6" d="M921.8 282.6h0"/>
<path stroke="#bf00bf" d="M999.5 257.5h0"/>
<path stroke="#0a7d0a" d="M952.1 151.6h0"/>
<path stroke="#bf00bf" d="M921.8 160.4h0"/>
<path stroke="#0a7d0a" d="M872.1 197.7h0"/>
<path stroke="#bf00bf" d="M947.0 194.3h0"/>
<path stroke="#0a7d0a" d="M915.4 225.5h0"/>
<path stroke="#bf00bf" d="M1029.9 273.6h0"/>
<path stroke="#0a7d0a" d="M854.9 323.3h0M798.7 224.1h0M818.0 191.8h0M860.9 176.4h0"/>
<path stroke="#bf00bf" d="M1021.2 290.2h0M1078.5 188.8h0"/>
<path stroke="#ee1111" d="M988.2 304.0h0M922.9 250.2h0"/>
<path stroke="#0a7d0a" d="M845.5 174.4h0"/>
<path stroke="#0808e6" d="M1015.0 275.7h0"/>
<path stroke="#0a7d0a" d="M885.7 161.7h0M1086.7 408.5h0"/>
<path stroke="#bf00bf" d="M1000.2 123.1h0"/>
<path stroke="#0808e6" d="M1008.8 331.1h0"/>
<path stroke="#bf00bf" d="M1033.5 156.3h0"/>
<path stroke="#0a7d0a" d="M879.8 204.5h0"/>
<path stroke="#0808e6" d="M987.2 289.8h0M757.1 292.5h0"/>
<path stroke="#0a7d0a" d="M895.0 231.6h0"/>
<path stroke="#ee1111" d="M993.8 420.9h0"/>
<path stroke="#0808e6" d="M770.5 250.5h0"/>
<path stroke="#0a7d0a" d="M914.3 237.8h0M937.8 196.6h0M847.4 209.7h0M954.2 207.7h0M867.6 318.8h0M858.2 254.6h0"/>
<path stroke="#bf00bf" d="M916.1 313.8h0"/>
<path stroke="#0808e6" d="M776.1 312.9h0"/>
<path stroke="#bf00bf" d="M917.1 198.5h0"/>
<path stroke="#0a7d0a" d="M963.0 229.6h0M884.1 169.1h0"/>
<path stroke="#bf00bf" d="M916.2 286.7h0"/>
<path stroke="#0808e6" d="M801.5 366.4h0"/>
<path stroke="#bf00bf" d="M975.9 221.2h0"/>
<path stroke="#0808e6" d="M899.7 269.7h0M897.9 241.2h0"/>
<path stroke="#bf00bf" d="M939.4 203.4h0"/>
<path stroke="#ee1111" d="M1035.4 356.4h0"/>
<path stroke="#0a7d0a" d="M1004.8 324.4h0"/>
<path stroke="#bf00bf" d="M1075.7 303.7h0M1061.9 227.3h0"/>
<path stroke="#0a7d0a" d="M944.8 271.4h0"/>
<path stroke="#0808e6" d="M805.5 389.1h0M783.3 176.4h0"/>
<path stroke="#ee1111" d="M1038.8 316.3h0M945.3 341.7h0M968.6 260.4h0"/>
<path stroke="#0808e6" d="M898.1 347.5h0"/>
<path stroke="#0a7d0a" d="M905.0 100.3h0"/>
<path stroke="#0808e6" d="M861.2 381.6h0"/>
<path stroke="#0a7d0a" d="M835.4 219.4h0"/>
<path stroke="#bf00bf" d="M1000.5 217.3h0"/>
<path stroke="#ee1111" d="M987.5 359.7h0"/>
<path stroke="#0808e6" d="M930.5 348.5h0"/>
<path stroke="#0a7d0a" d="M837.5 415.4h0"/>
<path stroke="#bf00bf" d="M1089.5 288.7h0"/>
<path stroke="#0a7d0a" d="M767.6 191.8h0"/>
<path stroke="#bf00bf" d="M936.5 285.3h0"/>
<path stroke="#ee1111" d="M1020.4 302.2h0"/>
<path stroke="#0a7d0a" d="M835.7 246.0h0M816.5 155.3h0"/>
<path stroke="#ee1111" d="M964.2 421.7h0M986.8 278.7h0"/>
<path stroke="#0a7d0a" d="M887.2 269.0h0M881.6 92.4h0"/>
<path stroke="#bf00bf" d="M1028.0 156.5h0"/>
<path stroke="#0808e6" d="M866.8 272.0h0"/>
<path stroke="#ee1111" d="M870.3 268.5h0"/>
<path stroke="#0a7d0a" d="M842.8 298.5h0"/>
<path stroke="#0808e6" d="M872.6 354.8h0"/>
<path stroke="#0a7d0a" d="M910.2 264.0h0M937.1 99.5h0"/>
<path stroke="#0808e6" d="M855.6 267.5h0"/>
<path stroke="#bf00bf" d="M887.7 428.6h0"/>
<path stroke="#ee1111" d="M897.6 342.4h0"/>
<path stroke="#bf00bf" d="M880.8 310.6h0M1013.5 202.3h0M971.6 117.2h0M1025.3 88.4h0"/>
<path stroke="#0a7d0a" d="M1012.8 125.5h0"/>
<path stroke="#ee1111" d="M1006.0 210.4h0"/>
<path stroke="#bf00bf" d="M1029.1 292.9h0"/>
<path stroke="#0a7d0a" d="M771.7 240.6h0"/>
<path stroke="#ee1111" d="M978.7 344.0h0"/>
<path stroke="#0808e6" d="M882.5 178.5h0M912.9 300.1h0"/>
<path stroke="#ee1111" d="M1038.6 417.9h0M1047.1 379.2h0"/>
<path stroke="#0808e6" d="M844.3 293.8h0"/>
<path stroke="#bf00bf" d="M1013.7 241.0h0"/>
<path stroke="#0a7d0a" d="M820.0 96.3h0"/>
<path stroke="#bf00bf" d="M1020.0 185.7h0M1022.7 204.8h0M848.3 206.1h0"/>
<path stroke="#0a7d0a" d="M839.1 281.7h0"/>
<path stroke="#0808e6" d="M753.9 293.8h0M882.4 216.8h0"/>
<path stroke="#0a7d0a" d="M932.4 244.4h0"/>
<path stroke="#0808e6" d="M822.6 397.3h0M829.6 233.3h0"/>
<path stroke="#ee1111" d="M1038.7 308.7h0M989.2 366.2h0"/>
<path stroke="#0a7d0a" d="M854.8 217.3h0"/>
<path stroke="#0808e6" d="M769.0 337.6h0"/>
<path stroke="#0a7d0a" d="M875.5 152.4h0"/>
<path stroke="#0808e6" d="M933.5 292.5h0"/>
<path stroke="#bf00bf" d="M1015.2 275.7h0"/>
<path stroke="#0808e6" d="M780.9 333.3h0"/>
<path stroke="#ee1111" d="M1007.3 364.9h0"/>
<path stroke="#bf00bf" d="M1025.4 169.9h0M1069.9 248.9h0"/>
<path stroke="#0808e6" d="M1032.6 437.7h0"/>
<path stroke="#bf00bf" d="M934.7 271.2h0"/>
<path stroke="#0a7d0a" d="M937.7 83.5h0"/>
<path stroke="#bf00bf" d="M953.5 95.0h0"/>
<path stroke="#ee1111" d="M1016.4 246.6h0M1030.4 266.1h0"/>
<path stroke="#bf00bf" d="M984.1 175.8h0M935.6 277.7h0M975.7 227.7h0"/>
<path stroke="#0a7d0a" d="M872.1 238.0h0M887.4 230.4h0"/>
<path stroke="#bf00bf" d="M1040.0 173.7h0"/>
<path stroke="#0a7d0a" d="M1054.3 196.2h0"/>
<path stroke="#bf00bf" d="M1019.1 171.9h0"/>
<path stroke="#0a7d0a" d="M917.7 210.9h0"/>
<path stroke="#bf00bf" d="M949.6 233.3h0"/>
<path stroke="#0a7d0a" d="M1051.7 260.7h0"/>
<path stroke="#0808e6" d="M1057.8 251.0h0"/>
<path stroke="#0a7d0a" d="M862.6 151.5h0"/>
<path stroke="#bf00bf" d="M995.9 203.5h0"/>
<path stroke="#0a7d0a" d="M894.5 165.5h0"/>
<path stroke="#bf00bf" d="M976.2 220.5h0"/>
<path stroke="#0808e6" d="M791.1 297.0h0"/>
<path stroke="#0a7d0a" d="M848.3 141.2h0"/>
<path stroke="#bf00bf" d="M897.9 216.1h0M938.0 286.3h0"/>
<path stroke="#0a7d0a" d="M872.8 189.1h0"/>
<path stroke="#bf00bf" d="M961.1 216.2h0"/>
<path stroke="#0808e6" d="M983.0 205.3h0"/>
<path stroke="#ee1111" d="M1024.2 314.5h0"/>
<path stroke="#0a7d0a" d="M943.2 162.3h0M759.8 174.9h0M795.5 226.0h0"/>
<path stroke="#bf00bf" d="M938.1 219.1h0"/>
<path stroke="#ee1111" d="M951.1 303.4h0"/>
<path stroke="#bf00bf" d="M912.9 211.7h0M840.6 222.8h0"/>
<path stroke="#ee1111" d="M970.6 282.9h0"/>
<path stroke="#bf00bf" d="M1082.9 238.3h0M799.7 434.1h0"/>
<path stroke="#0808e6" d="M955.4 392.3h0"/>
<path stroke="#bf00bf" d="M1029.9 170.8h0"/>
<path stroke="#0a7d0a" d="M854.2 266.3h0"/>
<path stroke="#bf00bf" d="M1028.1 365.4h0M1060.9 191.2h0M1094.6 298.2h0"/>
<path stroke="#0808e6" d="M848.8 280.6h0"/>
<path stroke="#bf00bf" d="M1038.1 217.7h0"/>
<path stroke="#0808e6" d="M825.9 313.8h0"/>
<path stroke="#ee1111" d="M921.3 295.7h0"/>
<path stroke="#0808e6" d="M886.3 421.2h0"/>
<path stroke="#0a7d0a" d="M969.0 217.1h0"/>
<path stroke="#ee1111" d="M1032.2 372.6h0"/>
<path stroke="#0a7d0a" d="M896.2 188.2h0"/>
<path stroke="#bf00bf" d="M975.8 338.9h0M887.5 189.8h0"/>
<path stroke="#0a7d0a" d="M909.8 321.9h0"/>
<path stroke="#0808e6" d="M892.9 284.4h0"/>
<path stroke="#0a7d0a" d="M897.7 108.5h0"/>
<path stroke="#0808e6" d="M877.3 374.3h0M960.5 361.9h0M887.9 360.0h0"/>
<path stroke="#ee1111" d="M956.7 230.5h0"/>
<path stroke="#0808e6" d="M803.3 377.4h0M865.1 353.8h0"/>
<path stroke="#ee1111" d="M1086.7 352.5h0"/>
<path stroke="#bf00bf" d="M1015.0 137.8h0"/>
<path stroke="#ee1111" d="M1049.3 357.6h0"/>
<path stroke="#0a7d0a" d="M853.4 230.5h0"/>
<path stroke="#ee1111" d="M982.8 318.9h0"/>
<path stroke="#0808e6" d="M861.8 330.7h0"/>
<path stroke="#ee1111" d="M990.6 333.5h0"/>
<path stroke="#0a7d0a" d="M890.9 176.1h0"/>
<path stroke="#ee1111" d="M1046.7 299.2h0"/>
<path stroke="#bf00bf" d="M1037.0 117.5h0"/>
<path stroke="#ee1111" d="M976.6 320.6h0"/>
<path stroke="#bf00bf" d="M997.5 293.2h0"/>
<path stroke="#0a7d0a" d="M821.0 269.3h0"/>
<path stroke="#ee1111" d="M1004.0 320.0h0"/>
<path stroke="#0808e6" d="M985.7 421.0h0"/>
<path stroke="#bf00bf" d="M944.5 161.9h0M1034.6 166.0h0M1042.0 171.8h0M892.4 170.5h0"/>
<path stroke="#0a7d0a" d="M835.4 233.2h0M783.7 272.4h0"/>
<path stroke="#0808e6" d="M780.5 298.3h0"/>
<path stroke="#0a7d0a" d="M831.2 160.3h0"/>
<path stroke="#ee1111" d="M1032.7 309.5h0M1053.1 296.8h0"/>
<path stroke="#bf00bf" d="M1002.1 220.5h0"/>
<path stroke="#0a7d0a" d="M837.7 199.6h0M865.2 269.8h0M921.1 178.4h0"/>
<path stroke="#0808e6" d="M755.6 406.7h0M900.5 309.5h0"/>
<path stroke="#0a7d0a" d="M902.2 243.7h0"/>
<path stroke="#bf00bf" d="M938.3 204.7h0"/>
<path stroke="#0808e6" d="M873.5 314.0h0"/>
<path stroke="#ee1111" d="M969.0 344.8h0"/>
<path stroke="#0a7d0a" d="M810.4 202.9h0"/>
<path stroke="#0808e6" d="M849.1 404.4h0"/>
<path stroke="#bf00bf" d="M949.9 150.2h0M956.2 272.6h0"/>
<path stroke="#0808e6" d="M890.8 226.4h0M926.2 411.3h0"/>
<path stroke="#0a7d0a" d="M900.3 312.9h0"/>
<path stroke="#0808e6" d="M809.7 245.1h0"/>
<path stroke="#ee1111" d="M972.8 287.3h0"/>
<path stroke="#0808e6" d="M912.6 338.3h0M812.5 256.0h0"/>
<path stroke="#0a7d0a" d="M876.6 217.8h0M837.6 244.3h0"/>
<path stroke="#0808e6" d="M893.7 252.3h0"/>
<path stroke="#bf00bf" d="M964.3 241.6h0M892.9 172.4h0"/>
<path stroke="#0a7d0a" d="M843.1 182.3h0"/>
<path stroke="#0808e6" d="M754.3 246.8h0"/>
<path stroke="#0a7d0a" d="M922.5 245.1h0"/>
<path stroke="#ee1111" d="M1024.9 432.4h0M961.5 369.5h0M1017.2 299.0h0M919.5 320.5h0"/>
<path stroke="#0a7d0a" d="M831.0 259.2h0"/>
<path stroke="#ee1111" d="M940.0 280.6h0"/>
<path stroke="#0808e6" d="M807.5 390.4h0M934.9 293.6h0"/>
<path stroke="#bf00bf" d="M958.4 220.6h0"/>
<path stroke="#0808e6" d="M841.1 335.0h0"/>
<path stroke="#bf00bf" d="M937.8 193.7h0M1044.3 178.9h0"/>
<path stroke="#0808e6" d="M829.5 281.8h0"/>
<path stroke="#0a7d0a" d="M859.2 165.3h0"/>
<path stroke="#0808e6" d="M944.8 333.2h0"/>
<path stroke="#bf00bf" d="M1065.9 279.2h0"/>
<path stroke="#ee1111" d="M1040.4 285.1h0"/>
<path stroke="#bf00bf" d="M836.9 217.8h0"/>
<path stroke="#0808e6" d="M931.0 351.8h0"/>
<path stroke="#ee1111" d="M1070.1 307.9h0"/>
<path stroke="#0a7d0a" d="M862.4 204.1h0"/>
<path stroke="#bf00bf" d="M967.5 122.1h0"/>
<path stroke="#0a7d0a" d="M811.0 84.9h0M899.6 151.5h0M778.6 126.3h0M875.9 127.3h0"/>
<path stroke="#0808e6" d="M947.0 286.5h0"/>
<path stroke="#bf00bf" d="M1040.3 212.3h0M1064.6 295.3h0"/>
<path stroke="#0808e6" d="M924.9 324.1h0"/>
<path stroke="#ee1111" d="M1016.1 363.4h0"/>
<path stroke="#bf00bf" d="M975.0 228.5h0M962.5 135.7h0"/>
<path stroke="#0808e6" d="M825.6 355.4h0"/>
<path stroke="#bf00bf" d="M975.5 154.1h0"/>
<path stroke="#0808e6" d="M882.9 320.6h0"/>
<path stroke="#ee1111" d="M933.1 285.4h0M917.6 420.1h0"/>
<path stroke="#0808e6" d="M944.8 379.6h0"/>
<path stroke="#0a7d0a" d="M934.1 185.6h0M946.3 217.0h0"/>
<path stroke="#ee1111" d="M976.7 411.2h0M922.8 382.9h0"/>
<path stroke="#0a7d0a" d="M838.5 170.4h0"/>
<path stroke="#bf00bf" d="M845.2 244.4h0M875.0 208.2h0"/>
<path stroke="#0a7d0a" d="M1006.8 253.5h0M751.1 267.7h0"/>
<path stroke="#0808e6" d="M858.3 218.7h0"/>
<path stroke="#ee1111" d="M1013.0 337.3h0M982.7 367.2h0"/>
<path stroke="#bf00bf" d="M998.0 191.4h0"/>
<path stroke="#ee1111" d="M964.5 412.2h0"/>
<path stroke="#0a7d0a" d="M847.9 210.5h0"/>
<path stroke="#bf00bf" d="M980.9 163.0h0"/>
<path stroke="#0a7d0a" d="M798.0 226.0h0"/>
<path stroke="#ee1111" d="M1055.0 260.3h0"/>
<path stroke="#0a7d0a" d="M861.2 180.5h0"/>
<path stroke="#0808e6" d="M807.9 396.3h0"/>
<path stroke="#bf00bf" d="M1036.2 172.0h0"/>
<path stroke="#ee1111" d="M925.8 338.2h0"/>
<path stroke="#0808e6" d="M799.6 359.8h0"/>
<path stroke="#bf00bf" d="M983.5 87.9h0M1055.6 254.2h0"/>
<path stroke="#0a7d0a" d="M864.6 115.5h0M927.3 201.4h0"/>
<path stroke="#bf00bf" d="M1041.1 252.9h0"/>
<path stroke="#0808e6" d="M949.5 419.4h0"/>
<path stroke="#0a7d0a" d="M882.4 231.2h0M924.8 238.7h0"/>
<path stroke="#0808e6" d="M974.4 371.0h0M830.8 422.8h0"/>
<path stroke="#0a7d0a" d="M841.0 199.5h0"/>
<path stroke="#0808e6" d="M846.5 423.2h0M866.2 359.6h0"/>
<path stroke="#ee1111" d="M970.9 321.2h0"/>
<path stroke="#bf00bf" d="M925.4 240.1h0"/>
<path stroke="#ee1111" d="M1033.9 327.0h0"/>
<path stroke="#bf00bf" d="M970.3 425.1h0"/>
<path stroke="#ee1111" d="M1054.8 258.8h0"/>
<path stroke="#0808e6" d="M885.2 379.2h0"/>
<path stroke="#0a7d0a" d="M789.7 210.6h0"/>
<path stroke="#ee1111" d="M962.9 361.0h0"/>
<path stroke="#0a7d0a" d="M806.3 317.8h0"/>
<path stroke="#0808e6" d="M955.5 259.0h0"/>
<path stroke="#0a7d0a" d="M928.7 249.3h0"/>
<path stroke="#ee1111" d="M1013.8 334.0h0"/>
<path stroke="#bf00bf" d="M930.2 189.8h0M1038.9 122.4h0"/>
<path stroke="#0808e6" d="M914.6 402.9h0M808.1 353.0h0M884.8 357.5h0"/>
<path stroke="#bf00bf" d="M1054.7 196.5h0"/>
<path stroke="#0808e6" d="M802.8 243.7h0"/>
<path stroke="#bf00bf" d="M1011.3 123.8h0"/>
<path stroke="#0808e6" d="M951.9 370.6h0M836.3 321.7h0"/>
<path stroke="#bf00bf" d="M1001.9 110.5h0"/>
<path stroke="#ee1111" d="M982.5 242.5h0"/>
<path stroke="#bf00bf" d="M960.9 223.2h0"/>
<path stroke="#ee1111" d="M1093.6 338.2h0"/>
<path stroke="#bf00bf" d="M977.0 164.9h0"/>
<path stroke="#0808e6" d="M893.3 277.7h0"/>
<path stroke="#ee1111" d="M942.4 354.3h0"/>
<path stroke="#0a7d0a" d="M853.1 300.6h0"/>
<path stroke="#bf00bf" d="M920.7 179.1h0"/>
<path stroke="#ee1111" d="M986.3 396.0h0"/>
<path stroke="#bf00bf" d="M1002.8 118.0h0"/>
<path stroke="#0a7d0a" d="M892.6 135.8h0"/>
<path stroke="#bf00bf" d="M1025.8 205.0h0"/>
<path stroke="#0a7d0a" d="M834.7 163.8h0M884.4 225.5h0M788.5 192.8h0"/>
<path stroke="#0808e6" d="M838.8 289.9h0"/>
<path stroke="#ee1111" d="M977.0 365.4h0"/>
<path stroke="#0808e6" d="M899.5 362.4h0"/>
<path stroke="#0a7d0a" d="M767.7 140.9h0"/>
<path stroke="#0808e6" d="M879.6 355.5h0"/>
<path stroke="#bf00bf" d="M1008.2 207.1h0"/>
<path stroke="#0a7d0a" d="M905.0 281.2h0"/>
<path stroke="#bf00bf" d="M989.7 234.9h0"/>
<path stroke="#0a7d0a" d="M853.3 109.2h0"/>
<path stroke="#bf00bf" d="M1002.0 186.9h0M1011.5 245.5h0"/>
<path stroke="#0808e6" d="M765.4 286.9h0"/>
<path stroke="#bf00bf" d="M1046.0 224.5h0"/>
<path stroke="#0808e6" d="M905.3 331.0h0"/>
<path stroke="#0a7d0a" d="M891.4 177.4h0"/>
<path stroke="#ee1111" d="M924.8 316.8h0"/>
<path stroke="#0808e6" d="M814.5 282.1h0M1005.8 337.9h0M873.9 248.1h0"/>
<path stroke="#ee1111" d="M927.5 327.4h0"/>
<path stroke="#bf00bf" d="M1041.6 151.1h0M995.1 184.5h0"/>
<path stroke="#0808e6" d="M834.6 358.5h0"/>
<path stroke="#0a7d0a" d="M809.8 158.5h0"/>
<path stroke="#0808e6" d="M980.3 172.4h0"/>
<path stroke="#bf00bf" d="M816.5 251.7h0M1008.5 146.3h0"/>
<path stroke="#0a7d0a" d="M973.7 159.2h0"/>
<path stroke="#0808e6" d="M974.4 300.5h0"/>
<path stroke="#ee1111" d="M1025.8 350.4h0"/>
<path stroke="#bf00bf" d="M986.6 180.3h0"/>
<path stroke="#0a7d0a" d="M830.8 218.3h0M875.5 304.3h0"/>
<path stroke="#bf00bf" d="M1015.3 304.3h0"/>
<path stroke="#0a7d0a" d="M933.3 220.5h0"/>
<path stroke="#0808e6" d="M907.6 326.9h0"/>
<path stroke="#0a7d0a" d="M975.8 209.9h0M895.9 243.8h0"/>
<path stroke="#ee1111" d="M1018.5 392.7h0"/>
<path stroke="#0808e6" d="M1007.1 389.5h0"/>
<path stroke="#0a7d0a" d="M857.3 188.8h0"/>
<path stroke="#ee1111" d="M1017.1 435.0h0"/>
<path stroke="#0808e6" d="M898.2 262.5h0M833.5 340.8h0M868.0 432.4h0"/>
<path stroke="#0a7d0a" d="M861.6 202.9h0"/>
<path stroke="#0808e6" d="M957.3 283.8h0M853.9 342.9h0"/>
<path stroke="#0a7d0a" d="M877.6 228.8h0"/>
<path stroke="#0808e6" d="M1005.4 369.2h0"/>
<path stroke="#0a7d0a" d="M1054.3 282.2h0"/>
<path stroke="#ee1111" d="M975.1 422.6h0"/>
<path stroke="#bf00bf" d="M1039.9 298.2h0"/>
<path stroke="#0808e6" d="M864.8 163.3h0"/>
<path stroke="#bf00bf" d="M1045.9 136.7h0"/>
<path stroke="#0a7d0a" d="M836.5 266.9h0"/>
<path stroke="#0808e6" d="M863.5 358.9h0"/>
<path stroke="#bf00bf" d="M898.1 243.6h0M1007.4 289.5h0"/>
<path stroke="#0a7d0a" d="M927.9 192.9h0M837.7 225.2h0"/>
<path stroke="#bf00bf" d="M997.4 174.7h0"/>
<path stroke="#ee1111" d="M1034.8 319.5h0M1078.0 291.4h0M1045.6 300.0h0"/>
<path stroke="#0a7d0a" d="M999.1 186.4h0"/>
<path stroke="#0808e6" d="M847.6 291.0h0"/>
<path stroke="#0a7d0a" d="M855.8 128.1h0"/>
<path stroke="#bf00bf" d="M995.8 238.1h0M1034.5 182.8h0M1002.2 221.5h0"/>
<path stroke="#0a7d0a" d="M853.9 181.7h0"/>
<path stroke="#ee1111" d="M1027.5 292.8h0"/>
<path stroke="#0a7d0a" d="M876.1 210.9h0"/>
<path stroke="#bf00bf" d="M917.0 231.9h0"/>
<path stroke="#ee1111" d="M975.5 281.6h0"/>
<path stroke="#0808e6" d="M867.4 334.8h0M905.5 317.3h0"/>
<path stroke="#bf00bf" d="M979.5 159.6h0"/>
<path stroke="#0808e6" d="M803.3 323.2h0"/>
<path stroke="#bf00bf" d="M1102.8 158.9h0"/>
<path stroke="#0a7d0a" d="M888.5 196.9h0M886.4 204.8h0"/>
<path stroke="#0808e6" d="M924.4 367.3h0"/>
<path stroke="#0a7d0a" d="M892.4 134.3h0"/>
<path stroke="#ee1111" d="M923.8 356.3h0"/>
<path stroke="#0a7d0a" d="M792.5 152.7h0M844.9 423.2h0"/>
<path stroke="#0808e6" d="M937.9 367.2h0M872.2 333.4h0"/>
<path stroke="#0a7d0a" d="M960.1 248.0h0"/>
<path stroke="#bf00bf" d="M1035.9 213.6h0M1054.9 238.5h0M941.6 168.4h0"/>
<path stroke="#0a7d0a" d="M787.3 186.3h0"/>
<path stroke="#0808e6" d="M791.4 373.6h0"/>
<path stroke="#0a7d0a" d="M840.0 80.1h0"/>
<path stroke="#ee1111" d="M1088.7 277.7h0M1054.3 307.1h0"/>
<path stroke="#bf00bf" d="M868.7 214.1h0"/>
<path stroke="#ee1111" d="M1034.0 269.3h0"/>
<path stroke="#bf00bf" d="M958.7 202.8h0M1029.0 180.5h0"/>
<path stroke="#0808e6" d="M920.2 306.5h0"/>
<path stroke="#ee1111" d="M1028.6 248.9h0"/>
<path stroke="#0808e6" d="M854.4 352.9h0M902.8 387.1h0M785.3 365.3h0M783.8 341.0h0M843.0 373.9h0M791.3 362.3h0"/>
<path stroke="#ee1111" d="M1013.6 302.5h0M1019.7 426.2h0"/>
<path stroke="#0a7d0a" d="M828.7 164.0h0"/>
<path stroke="#0808e6" d="M921.1 366.5h0"/>
<path stroke="#bf00bf" d="M908.3 274.4h0"/>
<path stroke="#0a7d0a" d="M806.6 209.5h0"/>
<path stroke="#0808e6" d="M889.5 335.5h0"/>
<path stroke="#bf00bf" d="M887.3 223.8h0"/>
<path stroke="#0808e6" d="M930.1 386.4h0M787.8 267.5h0"/>
<path stroke="#0a7d0a" d="M890.1 109.6h0M868.4 171.2h0M1024.5 343.9h0"/>
<path stroke="#ee1111" d="M798.1 329.6h0"/>
<path stroke="#bf00bf" d="M1052.9 147.4h0"/>
<path stroke="#ee1111" d="M990.5 299.4h0"/>
<path stroke="#bf00bf" d="M910.6 181.9h0"/>
<path stroke="#ee1111" d="M982.6 404.1h0"/>
<path stroke="#bf00bf" d="M942.2 273.2h0M1049.3 141.3h0"/>
<path stroke="#ee1111" d="M953.7 314.3h0M1009.1 277.9h0"/>
<path stroke="#0a7d0a" d="M865.2 209.1h0"/>
<path stroke="#0808e6" d="M994.1 370.8h0M899.7 293.3h0"/>
<path stroke="#ee1111" d="M1011.5 307.3h0"/>
<path stroke="#0808e6" d="M991.7 396.2h0"/>
<path stroke="#bf00bf" d="M918.6 100.4h0"/>
<path stroke="#0a7d0a" d="M898.1 229.3h0"/>
<path stroke="#bf00bf" d="M963.1 319.8h0"/>
<path stroke="#0808e6" d="M758.2 280.2h0"/>
<path stroke="#0a7d0a" d="M885.6 238.2h0"/>
<path stroke="#0808e6" d="M896.1 351.9h0M819.1 328.7h0"/>
<path stroke="#0a7d0a" d="M883.2 222.5h0"/>
<path stroke="#bf00bf" d="M1014.4 236.7h0"/>
<path stroke="#0808e6" d="M793.0 399.3h0"/>
<path stroke="#0a7d0a" d="M907.9 180.6h0"/>
<path stroke="#ee1111" d="M983.4 288.2h0"/>
<path stroke="#bf00bf" d="M977.0 252.6h0"/>
<path stroke="#ee1111" d="M1047.9 342.3h0"/>
<path stroke="#0808e6" d="M1043.2 257.6h0"/>
<path stroke="#0a7d0a" d="M828.7 122.3h0M887.6 166.5h0"/>
<path stroke="#bf00bf" d="M969.1 225.0h0"/>
<path stroke="#0a7d0a" d="M945.8 125.6h0"/>
<path stroke="#ee1111" d="M934.0 304.4h0"/>
<path stroke="#bf00bf" d="M999.0 186.1h0M976.7 129.9h0"/>
<path stroke="#ee1111" d="M968.3 192.4h0"/>
<path stroke="#0808e6" d="M905.2 333.1h0"/>
<path stroke="#0a7d0a" d="M929.2 178.2h0"/>
<path stroke="#ee1111" d="M965.1 267.9h0"/>
<path stroke="#bf00bf" d="M1031.1 197.7h0"/>
<path stroke="#0808e6" d="M947.2 409.6h0"/>
<path stroke="#0a7d0a" d="M838.0 122.4h0M875.0 266.8h0"/>
<path stroke="#bf00bf" d="M960.1 194.0h0"/>
<path stroke="#0808e6" d="M844.9 288.5h0"/>
<path stroke="#ee1111" d="M965.8 301.0h0M1060.3 283.9h0M1093.5 334.3h0"/>
<path stroke="#bf00bf" d="M944.5 213.6h0"/>
<path stroke="#ee1111" d="M918.8 351.9h0"/>
<path stroke="#bf00bf" d="M909.9 191.5h0"/>
<path stroke="#0808e6" d="M1061.3 215.1h0"/>
<path stroke="#bf00bf" d="M949.6 132.8h0"/>
<path stroke="#0808e6" d="M792.4 238.4h0M843.5 353.4h0"/>
<path stroke="#ee1111" d="M1044.3 353.3h0"/>
<path stroke="#bf00bf" d="M1047.6 186.8h0"/>
<path stroke="#ee1111" d="M1089.2 129.3h0M1050.4 244.9h0"/>
<path stroke="#0a7d0a" d="M828.0 175.2h0M873.4 167.4h0M953.8 138.6h0"/>
<path stroke="#bf00bf" d="M1046.4 340.8h0M945.6 166.9h0"/>
<path stroke="#0a7d0a" d="M762.6 236.8h0"/>
<path stroke="#0808e6" d="M831.5 254.5h0M776.4 319.9h0"/>
<path stroke="#bf00bf" d="M990.4 239.8h0"/>
<path stroke="#0a7d0a" d="M898.3 176.0h0"/>
<path stroke="#bf00bf" d="M1030.2 249.5h0"/>
<path stroke="#ee1111" d="M971.7 283.8h0"/>
<path stroke="#0808e6" d="M882.0 366.3h0"/>
<path stroke="#0a7d0a" d="M845.3 146.2h0"/>
<path stroke="#bf00bf" d="M947.4 208.7h0M956.7 117.0h0M859.4 198.6h0M1054.9 171.3h0"/>
<path stroke="#0a7d0a" d="M840.3 272.3h0"/>
<path stroke="#bf00bf" d="M970.0 269.9h0M1032.2 251.8h0"/>
<path stroke="#0a7d0a" d="M762.5 250.0h0M937.1 225.4h0"/>
<path stroke="#ee1111" d="M991.3 315.8h0"/>
<path stroke="#0a7d0a" d="M890.1 172.2h0"/>
<path stroke="#ee1111" d="M1053.7 337.4h0"/>
<path stroke="#0808e6" d="M912.6 378.4h0"/>
<path stroke="#bf00bf" d="M1021.0 196.3h0"/>
<path stroke="#0808e6" d="M1041.1 141.6h0M796.3 219.1h0"/>
<path stroke="#ee1111" d="M1029.8 325.8h0"/>
<path stroke="#bf00bf" d="M865.9 251.6h0M1056.2 207.2h0"/>
<path stroke="#ee1111" d="M981.4 293.4h0"/>
<path stroke="#bf00bf" d="M1100.0 159.0h0"/>
<path stroke="#0808e6" d="M852.9 345.2h0"/>
<path stroke="#bf00bf" d="M986.6 138.8h0M919.0 110.2h0"/>
<path stroke="#0808e6" d="M807.4 161.5h0"/>
<path stroke="#bf00bf" d="M1055.0 225.6h0"/>
<path stroke="#ee1111" d="M1042.0 324.5h0M899.2 340.5h0"/>
<path stroke="#bf00bf" d="M877.7 226.2h0"/>
<path stroke="#ee1111" d="M964.4 361.4h0"/>
<path stroke="#bf00bf" d="M959.0 250.8h0M966.1 192.7h0"/>
<path stroke="#ee1111" d="M1012.7 331.0h0"/>
<path stroke="#0808e6" d="M816.0 355.4h0"/>
<path stroke="#0a7d0a" d="M964.0 161.1h0"/>
<path stroke="#0808e6" d="M901.6 424.8h0M834.6 346.9h0"/>
<path stroke="#bf00bf" d="M985.3 176.3h0"/>
<path stroke="#ee1111" d="M931.4 299.7h0"/>
<path stroke="#bf00bf" d="M1000.9 171.5h0"/>
<path stroke="#0808e6" d="M803.3 357.3h0"/>
<path stroke="#0a7d0a" d="M918.0 202.7h0"/>
<path stroke="#ee1111" d="M872.9 417.3h0M1028.6 266.5h0"/>
<path stroke="#0a7d0a" d="M886.0 250.3h0M845.4 202.9h0M857.5 209.0h0M754.3 179.1h0"/>
<path stroke="#0808e6" d="M886.7 252.0h0M802.3 347.6h0M832.6 369.2h0"/>
<path stroke="#bf00bf" d="M1047.2 214.8h0"/>
<path stroke="#ee1111" d="M994.0 369.3h0M1017.0 298.9h0"/>
<path stroke="#0808e6" d="M820.2 298.1h0M782.8 400.5h0"/>
<path stroke="#0a7d0a" d="M790.9 264.6h0"/>
<path stroke="#bf00bf" d="M963.7 239.4h0"/>
<path stroke="#ee1111" d="M1027.2 267.5h0"/>
<path stroke="#0a7d0a" d="M872.4 309.4h0"/>
<path stroke="#bf00bf" d="M1021.7 183.2h0"/>
<path stroke="#0a7d0a" d="M826.2 190.2h0"/>
<path stroke="#0808e6" d="M820.0 280.2h0M900.0 339.9h0"/>
<path stroke="#ee1111" d="M1014.3 355.5h0"/>
<path stroke="#0808e6" d="M811.3 374.4h0M912.7 223.1h0"/>
<path stroke="#ee1111" d="M881.7 267.1h0"/>
<path stroke="#0a7d0a" d="M1109.9 267.8h0"/>
<path stroke="#bf00bf" d="M1031.8 259.3h0M877.6 194.2h0M856.2 226.7h0M1017.4 89.0h0"/>
<path stroke="#0808e6" d="M762.7 318.2h0"/>
<path stroke="#0a7d0a" d="M891.0 180.0h0"/>
<path stroke="#ee1111" d="M1050.9 332.5h0"/>
<path stroke="#0808e6" d="M891.9 368.0h0"/>
<path stroke="#bf00bf" d="M1060.8 322.1h0"/>
<path stroke="#0808e6" d="M838.6 346.9h0M836.7 357.3h0"/>
<path stroke="#bf00bf" d="M1091.4 292.3h0M1100.1 200.4h0"/>
<path stroke="#0808e6" d="M746.6 427.7h0M782.9 258.3h0M859.4 271.4h0"/>
<path stroke="#0a7d0a" d="M845.8 191.8h0M809.6 177.3h0"/>
<path stroke="#bf00bf" d="M1019.3 113.6h0"/>
<path stroke="#0a7d0a" d="M855.8 296.3h0"/>
<path stroke="#ee1111" d="M1013.8 375.2h0"/>
<path stroke="#0808e6" d="M798.0 335.3h0M892.8 282.5h0M1017.2 358.0h0"/>
<path stroke="#0a7d0a" d="M781.4 187.6h0"/>
<path stroke="#bf00bf" d="M914.8 185.2h0M860.0 211.8h0"/>
<path stroke="#0808e6" d="M836.3 381.8h0"/>
<path stroke="#ee1111" d="M1087.9 371.0h0"/>
<path stroke="#bf00bf" d="M937.7 357.2h0M1006.5 315.4h0"/>
<path stroke="#0a7d0a" d="M839.4 180.7h0M893.2 166.1h0"/>
<path stroke="#ee1111" d="M990.5 360.3h0"/>
<path stroke="#bf00bf" d="M1039.9 258.9h0"/>
<path stroke="#0a7d0a" d="M944.7 184.4h0"/>
<path stroke="#ee1111" d="M975.1 393.5h0"/>
<path stroke="#bf00bf" d="M927.1 105.0h0"/>
<path stroke="#0808e6" d="M859.5 412.4h0"/>
<path stroke="#0a7d0a" d="M807.2 166.9h0"/>
<path stroke="#ee1111" d="M1048.9 362.4h0"/>
<path stroke="#bf00bf" d="M824.2 264.4h0"/>
<path stroke="#0808e6" d="M966.4 182.4h0M796.0 220.2h0"/>
<path stroke="#bf00bf" d="M990.8 344.9h0"/>
<path stroke="#ee1111" d="M928.1 345.9h0"/>
<path stroke="#0808e6" d="M988.1 370.2h0"/>
<path stroke="#bf00bf" d="M994.7 206.7h0"/>
<path stroke="#0808e6" d="M815.5 358.8h0"/>
<path stroke="#0a7d0a" d="M1022.3 108.3h0"/>
<path stroke="#bf00bf" d="M977.6 164.0h0"/>
<path stroke="#ee1111" d="M1053.7 331.0h0"/>
<path stroke="#0a7d0a" d="M847.3 191.8h0M927.4 201.1h0M891.0 193.0h0"/>
<path stroke="#bf00bf" d="M1075.8 195.6h0"/>
<path stroke="#0808e6" d="M801.2 406.1h0"/>
<path stroke="#ee1111" d="M1020.9 334.9h0"/>
<path stroke="#bf00bf" d="M1010.2 226.4h0M915.9 204.7h0M925.9 263.1h0M889.2 188.7h0M991.9 246.0h0"/>
<path stroke="#ee1111" d="M979.3 273.8h0"/>
<path stroke="#0a7d0a" d="M829.8 176.4h0"/>
<path stroke="#0808e6" d="M858.6 176.8h0M1047.4 306.5h0M812.4 388.0h0M937.1 359.0h0M965.7 359.4h0"/>
<path stroke="#bf00bf" d="M1035.8 177.7h0"/>
<path stroke="#ee1111" d="M1038.0 362.3h0"/>
<path stroke="#0a7d0a" d="M853.1 177.4h0"/>
<path stroke="#bf00bf" d="M924.8 113.0h0"/>
<path stroke="#ee1111" d="M1048.1 309.2h0"/>
<path stroke="#0808e6" d="M894.5 337.6h0M988.1 391.3h0M825.6 391.7h0"/>
<path stroke="#bf00bf" d="M928.6 167.8h0"/>
<path stroke="#ee1111" d="M875.4 319.5h0"/>
<path stroke="#0808e6" d="M871.0 312.7h0"/>
<path stroke="#bf00bf" d="M1002.5 199.1h0"/>
<path stroke="#0808e6" d="M826.4 411.9h0"/>
<path stroke="#ee1111" d="M964.4 337.6h0M947.1 268.2h0"/>
<path stroke="#bf00bf" d="M1031.1 237.3h0"/>
<path stroke="#0a7d0a" d="M869.9 171.7h0"/>
<path stroke="#ee1111" d="M1058.9 284.7h0"/>
<path stroke="#0a7d0a" d="M880.6 251.4h0"/>
<path stroke="#0808e6" d="M929.4 323.6h0M824.6 310.7h0"/>
<path stroke="#ee1111" d="M1027.8 316.0h0"/>
<path stroke="#0a7d0a" d="M850.2 113.1h0"/>
<path stroke="#ee1111" d="M944.5 332.9h0"/>
<path stroke="#bf00bf" d="M1015.2 158.3h0"/>
<path stroke="#ee1111" d="M991.9 406.5h0"/>
<path stroke="#0808e6" d="M827.2 396.3h0"/>
<path stroke="#bf00bf" d="M1096.7 206.1h0"/>
<path stroke="#0808e6" d="M780.7 309.0h0"/>
<path stroke="#bf00bf" d="M1008.2 165.3h0"/>
<path stroke="#0808e6" d="M896.4 374.3h0"/>
<path stroke="#0a7d0a" d="M876.2 191.6h0"/>
<path stroke="#ee1111" d="M1024.3 332.2h0"/>
<path stroke="#0a7d0a" d="M796.5 157.8h0"/>
<path stroke="#0808e6" d="M902.5 400.1h0"/>
<path stroke="#0a7d0a" d="M866.7 201.2h0"/>
<path stroke="#0808e6" d="M744.5 367.2h0"/>
<path stroke="#0a7d0a" d="M825.1 218.8h0M848.0 341.8h0"/>
<path stroke="#ee1111" d="M989.9 283.1h0"/>
<path stroke="#bf00bf" d="M1045.2 195.8h0M1052.5 120.9h0"/>
<path stroke="#0808e6" d="M873.1 416.5h0"/>
<path stroke="#0a7d0a" d="M965.6 273.9h0M819.6 243.7h0"/>
<path stroke="#ee1111" d="M954.9 272.2h0"/>
<path stroke="#bf00bf" d="M956.3 186.5h0"/>
<path stroke="#0808e6" d="M909.4 333.6h0"/>
<path stroke="#0a7d0a" d="M875.2 144.9h0M790.3 195.3h0"/>
<path stroke="#0808e6" d="M838.8 345.0h0"/>
<path stroke="#ee1111" d="M1078.7 319.5h0"/>
<path stroke="#0a7d0a" d="M861.2 264.8h0"/>
<path stroke="#bf00bf" d="M1086.8 216.6h0M983.3 194.8h0"/>
<path stroke="#0808e6" d="M945.0 269.4h0M900.6 335.9h0"/>
<path stroke="#ee1111" d="M970.5 192.6h0"/>
<path stroke="#0808e6" d="M981.2 367.6h0M799.6 340.7h0"/>
<path stroke="#bf00bf" d="M951.3 140.2h0M868.2 220.0h0"/>
<path stroke="#0808e6" d="M840.6 279.2h0"/>
<path stroke="#0a7d0a" d="M755.7 140.7h0"/>
<path stroke="#ee1111" d="M1020.2 296.7h0"/>
<path stroke="#bf00bf" d="M1033.9 232.7h0M886.3 337.4h0"/>
<path stroke="#ee1111" d="M1076.9 355.6h0"/>
<path stroke="#bf00bf" d="M1043.8 166.9h0M922.5 145.3h0"/>
<path stroke="#0808e6" d="M780.3 283.8h0"/>
<path stroke="#bf00bf" d="M1030.3 147.8h0M1097.9 241.8h0"/>
<path stroke="#0a7d0a" d="M878.4 150.1h0"/>
<path stroke="#0808e6" d="M885.6 349.8h0"/>
<path stroke="#0a7d0a" d="M999.4 204.7h0"/>
<path stroke="#0808e6" d="M787.4 374.4h0"/>
<path stroke="#bf00bf" d="M1006.1 115.7h0"/>
<path stroke="#ee1111" d="M943.7 351.6h0"/>
<path stroke="#0a7d0a" d="M851.5 173.2h0M912.9 177.6h0"/>
<path stroke="#ee1111" d="M933.4 279.9h0"/>
<path stroke="#0808e6" d="M838.7 389.7h0"/>
<path stroke="#bf00bf" d="M986.0 95.6h0"/>
<path stroke="#ee1111" d="M784.0 243.0h0"/>
<path stroke="#bf00bf" d="M966.4 174.5h0"/>
<path stroke="#ee1111" d="M1052.5 342.0h0"/>
<path stroke="#bf00bf" d="M1004.9 180.8h0M1066.9 86.6h0"/>
<path stroke="#0a7d0a" d="M884.8 241.9h0"/>
<path stroke="#bf00bf" d="M953.8 125.7h0"/>
<path stroke="#0a7d0a" d="M839.7 213.3h0"/>
<path stroke="#ee1111" d="M1059.8 305.2h0"/>
<path stroke="#0a7d0a" d="M819.5 140.4h0"/>
<path stroke="#0808e6" d="M888.5 312.7h0M850.2 390.6h0"/>
<path stroke="#ee1111" d="M1023.3 266.9h0"/>
<path stroke="#0808e6" d="M916.2 270.5h0"/>
<path stroke="#ee1111" d="M965.5 361.7h0"/>
<path stroke="#bf00bf" d="M1025.5 116.0h0"/>
<path stroke="#ee1111" d="M898.5 240.0h0"/>
<path stroke="#bf00bf" d="M1041.9 271.7h0M1028.5 97.5h0M939.3 243.3h0"/>
<path stroke="#ee1111" d="M988.7 342.5h0M975.3 357.7h0"/>
<path stroke="#0808e6" d="M921.5 337.5h0M954.2 371.0h0M863.0 387.2h0"/>
<path stroke="#0a7d0a" d="M869.5 163.3h0"/>
<path stroke="#bf00bf" d="M904.3 241.9h0"/>
<path stroke="#ee1111" d="M1048.3 309.9h0M1000.1 372.1h0"/>
<path stroke="#bf00bf" d="M1101.9 284.3h0"/>
<path stroke="#0808e6" d="M917.0 405.2h0"/>
<path stroke="#bf00bf" d="M926.0 221.2h0M894.4 231.8h0"/>
<path stroke="#0808e6" d="M885.4 355.5h0"/>
<path stroke="#0a7d0a" d="M872.7 149.5h0"/>
<path stroke="#bf00bf" d="M842.0 249.5h0"/>
<path stroke="#0a7d0a" d="M843.2 171.4h0"/>
<path stroke="#0808e6" d="M916.5 207.9h0"/>
<path stroke="#0a7d0a" d="M812.1 340.6h0"/>
<path stroke="#0808e6" d="M862.0 348.2h0M969.1 288.4h0M817.5 335.4h0"/>
<path stroke="#bf00bf" d="M947.8 145.9h0"/>
<path stroke="#ee1111" d="M1037.4 257.4h0"/>
<path stroke="#0a7d0a" d="M939.5 257.5h0"/>
<path stroke="#bf00bf" d="M1086.0 265.8h0"/>
<path stroke="#0808e6" d="M867.2 296.8h0"/>
<path stroke="#ee1111" d="M984.5 321.3h0"/>
<path stroke="#bf00bf" d="M1053.5 170.1h0M988.1 185.3h0M955.1 141.6h0"/>
<path stroke="#0808e6" d="M916.9 328.9h0"/>
<path stroke="#bf00bf" d="M951.6 148.7h0"/>
<path stroke="#0808e6" d="M943.6 439.0h0"/>
<path stroke="#0a7d0a" d="M872.5 171.3h0"/>
<path stroke="#bf00bf" d="M1034.1 243.4h0M904.2 202.2h0M928.7 171.6h0"/>
<path stroke="#0a7d0a" d="M844.7 296.8h0"/>
<path stroke="#0808e6" d="M821.1 386.8h0"/>
<path stroke="#0a7d0a" d="M842.9 224.3h0"/>
<path stroke="#0808e6" d="M913.8 333.7h0"/>
<path stroke="#ee1111" d="M1028.1 293.6h0"/>
<path stroke="#0a7d0a" d="M842.1 191.8h0M783.2 173.8h0"/>
<path stroke="#bf00bf" d="M1040.5 91.3h0M965.4 175.1h0"/>
<path stroke="#ee1111" d="M986.4 255.4h0"/>
<path stroke="#0a7d0a" d="M814.1 310.1h0"/>
<path stroke="#bf00bf" d="M960.7 223.3h0M896.8 166.2h0"/>
<path stroke="#0a7d0a" d="M900.1 226.3h0"/>
<path stroke="#0808e6" d="M904.5 360.3h0"/>
<path stroke="#bf00bf" d="M1067.7 204.2h0"/>
<path stroke="#0a7d0a" d="M817.8 236.0h0M925.6 113.1h0"/>
<path stroke="#bf00bf" d="M910.9 222.4h0M1039.8 207.5h0"/>
<path stroke="#0808e6" d="M818.6 280.2h0"/>
<path stroke="#bf00bf" d="M926.5 179.2h0"/>
<path stroke="#0808e6" d="M883.8 369.1h0"/>
<path stroke="#0a7d0a" d="M822.0 246.8h0"/>
<path stroke="#0808e6" d="M839.7 376.8h0"/>
<path stroke="#ee1111" d="M1069.5 338.8h0"/>
<path stroke="#0a7d0a" d="M869.0 145.9h0M959.6 369.3h0"/>
<path stroke="#ee1111" d="M1028.2 338.4h0"/>
<path stroke="#bf00bf" d="M994.6 122.6h0"/>
<path stroke="#ee1111" d="M977.8 307.8h0"/>
<path stroke="#bf00bf" d="M911.5 197.5h0"/>
<path stroke="#0a7d0a" d="M813.1 246.6h0M889.8 283.7h0"/>
<path stroke="#bf00bf" d="M1066.6 114.1h0"/>
<path stroke="#ee1111" d="M1055.1 352.4h0"/>
<path stroke="#bf00bf" d="M997.9 166.7h0"/>
<path stroke="#0a7d0a" d="M852.6 131.6h0"/>
<path stroke="#bf00bf" d="M1096.8 136.9h0"/>
<path stroke="#0a7d0a" d="M821.3 121.8h0"/>
<path stroke="#ee1111" d="M957.1 227.9h0"/>
<path stroke="#bf00bf" d="M940.1 276.9h0"/>
<path stroke="#0a7d0a" d="M807.3 238.6h0"/>
<path stroke="#bf00bf" d="M1007.8 216.8h0M1075.8 183.7h0"/>
<path stroke="#0808e6" d="M821.1 383.1h0"/>
<path stroke="#0a7d0a" d="M989.8 383.7h0M810.7 270.1h0M903.4 198.4h0"/>
<path stroke="#bf00bf" d="M1058.0 261.1h0M1089.0 190.0h0"/>
<path stroke="#ee1111" d="M1063.1 282.8h0"/>
<path stroke="#bf00bf" d="M1048.3 174.7h0"/>
<path stroke="#0808e6" d="M1068.5 162.8h0"/>
<path stroke="#ee1111" d="M1012.7 250.4h0M1022.6 265.6h0"/>
<path stroke="#bf00bf" d="M992.8 141.1h0M969.6 188.0h0"/>
<path stroke="#0a7d0a" d="M863.4 170.0h0M904.0 218.3h0"/>
<path stroke="#0808e6" d="M749.9 274.9h0"/>
<path stroke="#bf00bf" d="M991.2 251.8h0M983.9 207.8h0"/>
<path stroke="#0a7d0a" d="M764.0 282.8h0"/>
<path stroke="#bf00bf" d="M955.2 97.1h0"/>
<path stroke="#0a7d0a" d="M821.2 193.9h0M836.6 102.8h0"/>
<path stroke="#0808e6" d="M746.7 307.9h0M870.0 312.1h0"/>
<path stroke="#ee1111" d="M1025.2 324.6h0"/>
<path stroke="#bf00bf" d="M977.2 354.6h0"/>
<path stroke="#ee1111" d="M1024.6 353.9h0M1031.9 363.2h0"/>
<path stroke="#0a7d0a" d="M827.2 246.6h0"/>
<path stroke="#bf00bf" d="M903.4 316.2h0"/>
<path stroke="#ee1111" d="M985.3 340.1h0"/>
<path stroke="#0808e6" d="M831.1 376.3h0"/>
<path stroke="#0a7d0a" d="M871.7 269.5h0M899.0 197.9h0"/>
<path stroke="#bf00bf" d="M1033.8 211.0h0M1017.8 230.1h0M965.1 297.0h0M976.2 214.1h0"/>
<path stroke="#0808e6" d="M859.3 351.4h0"/>
<path stroke="#0a7d0a" d="M812.7 97.0h0"/>
<path stroke="#0808e6" d="M865.0 327.3h0"/>
<path stroke="#0a7d0a" d="M1006.5 135.4h0"/>
<path stroke="#bf00bf" d="M1002.8 254.4h0M1092.1 193.1h0"/>
<path stroke="#0a7d0a" d="M878.0 174.1h0"/>
<path stroke="#bf00bf" d="M953.0 195.8h0"/>
<path stroke="#ee1111" d="M916.6 288.8h0"/>
<path stroke="#0808e6" d="M913.5 376.3h0"/>
<path stroke="#bf00bf" d="M1003.6 245.4h0"/>
<path stroke="#ee1111" d="M979.0 283.2h0"/>
<path stroke="#bf00bf" d="M1062.5 204.0h0"/>
<path stroke="#0808e6" d="M778.9 282.1h0M939.3 396.8h0"/>
<path stroke="#0a7d0a" d="M842.4 232.4h0"/>
<path stroke="#ee1111" d="M1058.5 358.7h0M978.0 398.7h0"/>
<path stroke="#0808e6" d="M753.2 194.0h0"/>
<path stroke="#ee1111" d="M955.4 381.2h0"/>
<path stroke="#0808e6" d="M881.8 397.2h0"/>
<path stroke="#bf00bf" d="M1057.1 115.9h0"/>
<path stroke="#ee1111" d="M1093.5 304.6h0"/>
<path stroke="#0a7d0a" d="M954.1 94.3h0"/>
<path stroke="#ee1111" d="M1066.1 414.9h0"/>
<path stroke="#0a7d0a" d="M892.2 151.6h0"/>
<path stroke="#0808e6" d="M916.0 313.7h0"/>
<path stroke="#bf00bf" d="M1107.5 145.0h0"/>
<path stroke="#0808e6" d="M997.3 382.0h0"/>
<path stroke="#bf00bf" d="M1115.6 224.3h0M978.1 154.1h0"/>
<path stroke="#0a7d0a" d="M898.3 324.8h0"/>
<path stroke="#0808e6" d="M805.4 200.9h0"/>
<path stroke="#bf00bf" d="M935.7 249.3h0"/>
<path stroke="#0a7d0a" d="M886.9 335.4h0"/>
<path stroke="#bf00bf" d="M1029.4 219.7h0"/>
<path stroke="#ee1111" d="M1004.9 316.1h0"/>
<path stroke="#0808e6" d="M904.2 341.5h0"/>
<path stroke="#ee1111" d="M1016.1 383.0h0"/>
<path stroke="#bf00bf" d="M1101.8 216.2h0M922.5 93.6h0M1009.0 280.9h0M1027.6 171.6h0"/>
<path stroke="#0a7d0a" d="M907.7 146.6h0M852.5 105.6h0"/>
<path stroke="#bf00bf" d="M963.2 126.4h0"/>
<path stroke="#ee1111" d="M1015.6 313.8h0M1005.3 352.4h0"/>
<path stroke="#bf00bf" d="M938.3 176.3h0M1049.7 219.7h0M980.8 286.8h0"/>
<path stroke="#ee1111" d="M998.9 241.4h0"/>
<path stroke="#bf00bf" d="M917.1 302.9h0"/>
<path stroke="#ee1111" d="M1039.9 358.1h0"/>
<path stroke="#0808e6" d="M917.5 297.0h0"/>
<path stroke="#ee1111" d="M958.6 294.1h0M1033.5 354.0h0"/>
<path stroke="#bf00bf" d="M876.9 249.3h0"/>
<path stroke="#0a7d0a" d="M913.0 199.6h0"/>
<path stroke="#0808e6" d="M877.7 348.6h0M925.5 427.8h0M888.6 190.3h0M921.9 395.4h0"/>
<path stroke="#bf00bf" d="M1031.3 197.4h0"/>
<path stroke="#0a7d0a" d="M895.8 161.7h0"/>
<path stroke="#0808e6" d="M838.2 290.1h0M817.9 289.5h0"/>
<path stroke="#0a7d0a" d="M922.9 224.7h0"/>
<path stroke="#ee1111" d="M1010.3 269.4h0"/>
<path stroke="#0a7d0a" d="M975.8 272.8h0"/>
<path stroke="#ee1111" d="M1063.6 345.6h0"/>
<path stroke="#0808e6" d="M890.6 366.2h0"/>
<path stroke="#bf00bf" d="M1035.5 256.8h0M939.6 263.0h0"/>
<path stroke="#0a7d0a" d="M835.1 279.4h0"/>
<path stroke="#ee1111" d="M1004.9 395.0h0"/>
<path stroke="#0808e6" d="M808.5 304.1h0"/>
<path stroke="#ee1111" d="M908.2 350.3h0"/>
<path stroke="#0a7d0a" d="M858.3 135.8h0"/>
<path stroke="#ee1111" d="M1020.4 275.4h0"/>
<path stroke="#0a7d0a" d="M964.0 297.4h0"/>
<path stroke="#0808e6" d="M912.3 348.5h0"/>
<path stroke="#0a7d0a" d="M846.7 234.8h0"/>
<path stroke="#bf00bf" d="M992.7 261.2h0"/>
<path stroke="#ee1111" d="M997.0 334.2h0"/>
<path stroke="#bf00bf" d="M1044.4 209.4h0M978.3 208.9h0"/>
<path stroke="#0808e6" d="M846.9 354.0h0"/>
<path stroke="#0a7d0a" d="M900.4 246.5h0"/>
<path stroke="#ee1111" d="M929.1 233.1h0"/>
<path stroke="#bf00bf" d="M1034.1 150.6h0"/>
<path stroke="#ee1111" d="M1008.2 273.7h0"/>
<path stroke="#0808e6" d="M844.6 416.2h0"/>
<path stroke="#bf00bf" d="M941.5 298.6h0"/>
<path stroke="#0a7d0a" d="M894.8 205.2h0"/>
<path stroke="#bf00bf" d="M962.1 247.5h0M856.5 236.4h0"/>
<path stroke="#0808e6" d="M903.0 346.5h0"/>
<path stroke="#ee1111" d="M993.1 347.8h0M961.9 405.1h0"/>
<path stroke="#bf00bf" d="M1010.7 216.8h0"/>
<path stroke="#ee1111" d="M1042.7 330.0h0"/>
<path stroke="#0a7d0a" d="M800.0 157.8h0M871.6 134.9h0"/>
<path stroke="#bf00bf" d="M1062.8 285.2h0"/>
<path stroke="#ee1111" d="M916.2 331.0h0"/>
<path stroke="#bf00bf" d="M1049.3 309.3h0"/>
<path stroke="#0a7d0a" d="M853.8 250.5h0M771.9 315.0h0"/>
<path stroke="#bf00bf" d="M961.9 214.8h0"/>
<path stroke="#ee1111" d="M1029.2 271.1h0"/>
<path stroke="#bf00bf" d="M1005.2 204.7h0"/>
<path stroke="#0808e6" d="M763.1 378.8h0M766.1 397.9h0M791.1 315.9h0"/>
<path stroke="#0a7d0a" d="M823.8 213.0h0M949.5 258.4h0"/>
<path stroke="#bf00bf" d="M1028.5 183.6h0"/>
<path stroke="#0808e6" d="M898.0 353.2h0"/>
<path stroke="#ee1111" d="M1055.2 211.8h0M967.4 244.3h0"/>
<path stroke="#0808e6" d="M854.3 301.0h0"/>
<path stroke="#bf00bf" d="M850.3 278.0h0"/>
<path stroke="#ee1111" d="M1008.3 351.2h0"/>
<path stroke="#0a7d0a" d="M812.5 161.0h0M879.9 225.0h0"/>
<path stroke="#0808e6" d="M935.8 258.4h0M799.1 239.7h0"/>
<path stroke="#ee1111" d="M908.1 354.3h0"/>
<path stroke="#bf00bf" d="M881.1 332.7h0"/>
<path stroke="#0808e6" d="M821.1 346.4h0"/>
<path stroke="#ee1111" d="M1030.2 326.9h0"/>
<path stroke="#bf00bf" d="M1004.4 96.0h0"/>
<path stroke="#0808e6" d="M844.3 306.8h0"/>
<path stroke="#0a7d0a" d="M887.7 256.8h0M903.2 293.6h0"/>
<path stroke="#bf00bf" d="M1037.6 144.5h0"/>
<path stroke="#0a7d0a" d="M879.4 206.2h0"/>
<path stroke="#0808e6" d="M924.6 331.4h0"/>
<path stroke="#bf00bf" d="M961.5 116.1h0"/>
<path stroke="#ee1111" d="M1041.7 281.9h0"/>
<path stroke="#0a7d0a" d="M865.6 180.0h0"/>
<path stroke="#ee1111" d="M989.6 357.5h0M1026.2 333.3h0"/>
<path stroke="#0a7d0a" d="M816.2 119.6h0M889.3 151.2h0"/>
<path stroke="#ee1111" d="M1008.0 221.1h0"/>
<path stroke="#0808e6" d="M1003.6 346.9h0M888.5 313.8h0M844.8 388.3h0M902.6 298.6h0M833.8 430.9h0"/>
<path stroke="#bf00bf" d="M1045.7 274.1h0"/>
<path stroke="#0808e6" d="M895.5 396.2h0"/>
<path stroke="#bf00bf" d="M914.6 244.5h0"/>
<path stroke="#ee1111" d="M968.0 332.1h0"/>
<path stroke="#0808e6" d="M825.6 394.9h0"/>
<path stroke="#bf00bf" d="M1031.2 301.7h0"/>
<path stroke="#0808e6" d="M943.2 430.2h0M880.2 378.6h0M853.8 335.8h0"/>
<path stroke="#bf00bf" d="M915.9 124.3h0"/>
<path stroke="#0a7d0a" d="M823.9 284.9h0M891.3 254.4h0"/>
<path stroke="#0808e6" d="M925.8 328.1h0"/>
<path stroke="#bf00bf" d="M1004.6 280.8h0"/>
<path stroke="#0a7d0a" d="M929.4 165.9h0M830.5 142.2h0M921.6 176.1h0"/>
<path stroke="#bf00bf" d="M1074.3 146.6h0"/>
<path stroke="#0a7d0a" d="M896.1 218.9h0M922.7 189.4h0"/>
<path stroke="#bf00bf" d="M999.5 110.9h0"/>
<path stroke="#0808e6" d="M797.7 159.2h0M836.1 421.7h0M853.7 315.2h0"/>
<path stroke="#bf00bf" d="M1043.4 248.5h0"/>
<path stroke="#0808e6" d="M754.6 357.0h0"/>
<path stroke="#0a7d0a" d="M900.1 179.0h0"/>
<path stroke="#0808e6" d="M1000.4 332.5h0"/>
<path stroke="#0a7d0a" d="M903.2 247.4h0M855.7 219.0h0"/>
<path stroke="#bf00bf" d="M1046.6 169.0h0M1032.8 169.3h0"/>
<path stroke="#ee1111" d="M897.3 297.8h0"/>
<path stroke="#bf00bf" d="M1017.8 232.9h0M905.7 163.0h0"/>
<path stroke="#0808e6" d="M828.9 297.2h0M813.7 397.5h0"/>
<path stroke="#0a7d0a" d="M783.9 191.4h0"/>
<path stroke="#ee1111" d="M1040.8 261.2h0"/>
<path stroke="#0a7d0a" d="M818.9 266.7h0M871.6 149.8h0"/>
<path stroke="#0808e6" d="M849.4 281.7h0"/>
<path stroke="#bf00bf" d="M988.0 104.4h0"/>
<path stroke="#0a7d0a" d="M894.0 257.7h0M885.1 224.0h0M854.2 234.1h0M923.9 285.6h0"/>
<path stroke="#ee1111" d="M1048.5 346.4h0"/>
<path stroke="#0a7d0a" d="M885.4 215.1h0M859.9 158.2h0M760.4 272.4h0"/>
<path stroke="#0808e6" d="M964.3 178.7h0"/>
<path stroke="#bf00bf" d="M907.9 287.1h0"/>
<path stroke="#0808e6" d="M813.1 331.2h0M859.2 238.8h0"/>
<path stroke="#ee1111" d="M994.5 354.4h0"/>
<path stroke="#0808e6" d="M877.8 287.6h0"/>
<path stroke="#0a7d0a" d="M862.8 221.6h0"/>
<path stroke="#0808e6" d="M786.3 293.0h0"/>
<path stroke="#0a7d0a" d="M794.3 174.5h0"/>
<path stroke="#ee1111" d="M1043.5 333.0h0"/>
<path stroke="#0808e6" d="M850.0 385.3h0"/>
<path stroke="#0a7d0a" d="M844.9 209.2h0"/>
<path stroke="#0808e6" d="M759.1 214.9h0"/>
<path stroke="#0a7d0a" d="M925.1 248.9h0"/>
<path stroke="#0808e6" d="M823.5 218.5h0"/>
<path stroke="#bf00bf" d="M968.5 165.7h0"/>
<path stroke="#0a7d0a" d="M904.4 217.9h0"/>
<path stroke="#ee1111" d="M1094.0 408.9h0"/>
<path stroke="#bf00bf" d="M874.5 185.8h0"/>
<path stroke="#ee1111" d="M962.1 120.7h0"/>
<path stroke="#0a7d0a" d="M862.6 188.4h0"/>
<path stroke="#0808e6" d="M970.0 364.0h0"/>
<path stroke="#bf00bf" d="M956.2 165.5h0"/>
<path stroke="#0808e6" d="M861.2 357.5h0"/>
<path stroke="#ee1111" d="M972.6 386.5h0"/>
<path stroke="#bf00bf" d="M1112.6 234.0h0M949.7 162.8h0M1019.4 203.3h0M877.5 180.7h0"/>
<path stroke="#0a7d0a" d="M836.6 111.7h0"/>
<path stroke="#ee1111" d="M1034.7 378.1h0"/>
<path stroke="#0808e6" d="M864.0 222.7h0M879.0 299.9h0"/>
<path stroke="#0a7d0a" d="M1113.9 236.8h0"/>
<path stroke="#0808e6" d="M799.6 311.4h0"/>
<path stroke="#bf00bf" d="M982.9 121.2h0"/>
<path stroke="#0a7d0a" d="M1037.4 306.8h0"/>
<path stroke="#ee1111" d="M967.9 360.0h0"/>
<path stroke="#0a7d0a" d="M922.6 208.6h0"/>
<path stroke="#0808e6" d="M906.6 303.5h0"/>
<path stroke="#ee1111" d="M978.0 362.0h0"/>
<path stroke="#bf00bf" d="M967.8 144.8h0"/>
<path stroke="#ee1111" d="M1010.7 421.7h0"/>
<path stroke="#bf00bf" d="M918.6 198.7h0"/>
<path stroke="#ee1111" d="M1013.5 282.1h0M1009.2 336.8h0M971.7 315.7h0"/>
<path stroke="#0808e6" d="M878.1 344.2h0"/>
<path stroke="#ee1111" d="M1052.8 399.4h0"/>
<path stroke="#bf00bf" d="M990.9 140.0h0M902.9 262.3h0"/>
<path stroke="#0a7d0a" d="M810.7 164.4h0M826.7 201.6h0"/>
<path stroke="#bf00bf" d="M889.7 206.1h0M974.0 215.3h0M873.2 311.2h0"/>
<path stroke="#ee1111" d="M804.7 333.8h0"/>
<path stroke="#bf00bf" d="M1046.6 227.5h0M971.8 269.4h0M863.8 235.5h0M918.3 181.4h0"/>
<path stroke="#0a7d0a" d="M801.5 200.8h0M783.9 215.8h0"/>
<path stroke="#bf00bf" d="M978.1 222.9h0"/>
<path stroke="#ee1111" d="M1026.0 334.5h0"/>
<path stroke="#bf00bf" d="M1026.2 171.4h0"/>
<path stroke="#0a7d0a" d="M899.7 92.1h0"/>
<path stroke="#bf00bf" d="M1103.5 223.7h0M937.7 126.1h0"/>
<path stroke="#0a7d0a" d="M1070.2 201.1h0"/>
<path stroke="#bf00bf" d="M939.1 187.1h0M960.5 152.9h0"/>
<path stroke="#0808e6" d="M929.3 268.9h0M784.7 391.1h0M954.6 289.7h0"/>
<path stroke="#0a7d0a" d="M823.3 168.0h0M908.2 180.5h0"/>
<path stroke="#bf00bf" d="M944.6 228.2h0"/>
<path stroke="#ee1111" d="M1034.2 400.7h0M1060.1 263.2h0"/>
<path stroke="#0a7d0a" d="M942.8 163.3h0"/>
<path stroke="#ee1111" d="M1085.8 289.3h0M930.7 303.3h0"/>
<path stroke="#0808e6" d="M903.1 307.5h0"/>
<path stroke="#0a7d0a" d="M818.4 102.8h0M894.8 236.4h0"/>
<path stroke="#bf00bf" d="M863.2 219.1h0"/>
<path stroke="#0808e6" d="M879.3 344.2h0M750.1 366.0h0"/>
<path stroke="#bf00bf" d="M875.8 324.7h0"/>
<path stroke="#0808e6" d="M756.4 349.6h0"/>
<path stroke="#0a7d0a" d="M900.7 198.6h0"/>
<path stroke="#bf00bf" d="M795.3 234.4h0"/>
<path stroke="#ee1111" d="M990.9 389.0h0"/>
<path stroke="#bf00bf" d="M843.8 94.6h0M950.8 269.7h0M1014.0 138.9h0M983.3 196.8h0M1017.6 159.6h0M998.8 313.9h0"/>
<path stroke="#ee1111" d="M970.9 344.5h0"/>
<path stroke="#bf00bf" d="M997.6 172.3h0"/>
<path stroke="#ee1111" d="M954.3 296.4h0"/>
<path stroke="#bf00bf" d="M1005.8 238.4h0"/>
<path stroke="#ee1111" d="M906.2 210.4h0"/>
<path stroke="#0808e6" d="M933.4 260.0h0"/>
<path stroke="#bf00bf" d="M892.6 160.1h0"/>
<path stroke="#0a7d0a" d="M831.4 121.2h0"/>
<path stroke="#bf00bf" d="M987.1 261.2h0M1012.1 192.6h0"/>
<path stroke="#0a7d0a" d="M871.5 169.6h0M863.4 130.6h0M896.3 136.8h0"/>
<path stroke="#bf00bf" d="M879.3 239.3h0"/>
<path stroke="#0808e6" d="M851.4 328.6h0M837.6 402.1h0"/>
<path stroke="#bf00bf" d="M963.0 247.4h0"/>
<path stroke="#0a7d0a" d="M930.0 304.3h0"/>
<path stroke="#ee1111" d="M1006.4 425.6h0"/>
<path stroke="#0808e6" d="M860.1 387.3h0M810.6 338.2h0"/>
<path stroke="#bf00bf" d="M897.4 184.8h0"/>
<path stroke="#0808e6" d="M911.0 358.2h0"/>
<path stroke="#bf00bf" d="M866.6 188.2h0"/>
<path stroke="#0a7d0a" d="M890.2 248.1h0"/>
<path stroke="#bf00bf" d="M890.2 230.4h0"/>
<path stroke="#0a7d0a" d="M841.3 87.2h0"/>
<path stroke="#bf00bf" d="M944.7 196.3h0M977.0 233.9h0M991.1 162.5h0"/>
<path stroke="#ee1111" d="M984.6 326.2h0"/>
<path stroke="#0808e6" d="M786.3 369.0h0"/>
<path stroke="#0a7d0a" d="M791.0 235.2h0M922.3 141.8h0"/>
<path stroke="#bf00bf" d="M1014.2 175.2h0M1073.0 174.5h0M1073.7 140.6h0"/>
<path stroke="#ee1111" d="M971.2 258.7h0"/>
<path stroke="#bf00bf" d="M942.0 241.0h0"/>
<path stroke="#ee1111" d="M1039.5 375.4h0"/>
<path stroke="#0a7d0a" d="M887.5 262.7h0"/>
<path stroke="#0808e6" d="M852.1 371.5h0"/>
<path stroke="#bf00bf" d="M1077.5 122.1h0"/>
<path stroke="#ee1111" d="M1081.7 332.4h0M993.8 351.4h0"/>
<path stroke="#0808e6" d="M788.1 358.5h0"/>
<path stroke="#bf00bf" d="M1002.6 183.3h0"/>
<path stroke="#0808e6" d="M775.1 335.0h0M866.0 375.7h0"/>
<path stroke="#ee1111" d="M1062.8 306.3h0"/>
<path stroke="#0a7d0a" d="M855.9 171.8h0"/>
<path stroke="#bf00bf" d="M898.2 231.5h0"/>
<path stroke="#0808e6" d="M867.8 369.2h0M861.5 192.0h0"/>
<path stroke="#0a7d0a" d="M858.2 225.2h0"/>
<path stroke="#bf00bf" d="M980.7 203.3h0M1065.9 164.8h0M940.3 195.1h0"/>
<path stroke="#0a7d0a" d="M942.7 157.7h0M896.9 133.0h0"/>
<path stroke="#bf00bf" d="M841.3 247.8h0"/>
<path stroke="#0a7d0a" d="M879.4 216.4h0"/>
<path stroke="#0808e6" d="M997.8 292.7h0"/>
<path stroke="#0a7d0a" d="M871.3 259.1h0"/>
<path stroke="#ee1111" d="M1092.3 303.2h0M1033.6 271.7h0M1014.2 292.9h0"/>
<path stroke="#0808e6" d="M890.4 374.4h0"/>
<path stroke="#0a7d0a" d="M854.8 301.1h0M769.0 265.8h0M819.8 198.5h0"/>
<path stroke="#bf00bf" d="M930.4 224.5h0"/>
<path stroke="#0a7d0a" d="M829.2 165.8h0"/>
<path stroke="#0808e6" d="M859.3 425.2h0"/>
<path stroke="#ee1111" d="M1067.1 340.8h0"/>
<path stroke="#0a7d0a" d="M907.5 183.0h0"/>
<path stroke="#bf00bf" d="M1003.2 244.2h0"/>
<path stroke="#0808e6" d="M966.7 281.7h0"/>
<path stroke="#bf00bf" d="M981.1 129.7h0"/>
<path stroke="#0a7d0a" d="M833.3 180.3h0M801.4 248.6h0"/>
<path stroke="#0808e6" d="M821.0 341.0h0"/>
<path stroke="#0a7d0a" d="M884.1 200.5h0"/>
<path stroke="#ee1111" d="M943.2 407.5h0"/>
<path stroke="#0808e6" d="M977.1 282.2h0"/>
<path stroke="#bf00bf" d="M985.3 158.0h0"/>
<path stroke="#0a7d0a" d="M855.4 155.4h0"/>
<path stroke="#0808e6" d="M840.1 258.2h0M874.8 112.6h0"/>
<path stroke="#ee1111" d="M973.9 285.2h0"/>
<path stroke="#0a7d0a" d="M911.2 256.4h0"/>
<path stroke="#0808e6" d="M833.6 164.1h0"/>
<path stroke="#0a7d0a" d="M975.5 108.0h0M923.3 249.8h0"/>
<path stroke="#ee1111" d="M984.2 399.7h0"/>
<path stroke="#0a7d0a" d="M753.7 141.7h0M872.6 112.7h0M821.8 211.6h0"/>
<path stroke="#bf00bf" d="M966.5 222.2h0M1006.4 186.7h0"/>
<path stroke="#0808e6" d="M896.7 354.4h0M822.5 358.5h0"/>
<path stroke="#0a7d0a" d="M911.5 133.7h0"/>
<path stroke="#0808e6" d="M809.4 368.3h0"/>
<path stroke="#ee1111" d="M993.5 273.7h0"/>
<path stroke="#0808e6" d="M882.0 184.9h0M835.4 291.2h0"/>
<path stroke="#bf00bf" d="M985.1 227.4h0"/>
<path stroke="#0808e6" d="M852.4 339.8h0"/>
<path stroke="#bf00bf" d="M1105.4 178.2h0"/>
<path stroke="#ee1111" d="M1058.3 355.6h0"/>
<path stroke="#0808e6" d="M782.0 278.3h0M949.4 349.6h0"/>
<path stroke="#bf00bf" d="M928.5 133.4h0M1053.8 129.8h0M993.1 222.3h0"/>
<path stroke="#0a7d0a" d="M776.4 237.5h0"/>
<path stroke="#bf00bf" d="M958.9 201.0h0M1066.4 149.6h0"/>
<path stroke="#0808e6" d="M891.7 405.8h0"/>
<path stroke="#bf00bf" d="M917.2 297.1h0"/>
<path stroke="#0a7d0a" d="M775.4 164.2h0"/>
<path stroke="#bf00bf" d="M890.0 132.9h0"/>
<path stroke="#0808e6" d="M882.9 401.1h0M837.7 202.0h0"/>
<path stroke="#bf00bf" d="M918.0 247.4h0M978.2 182.0h0"/>
<path stroke="#0808e6" d="M898.6 432.9h0"/>
<path stroke="#bf00bf" d="M962.7 264.2h0M928.8 238.0h0"/>
<path stroke="#ee1111" d="M918.2 148.2h0"/>
<path stroke="#0808e6" d="M913.5 271.9h0"/>
<path stroke="#0a7d0a" d="M965.1 161.9h0M894.4 200.3h0"/>
<path stroke="#bf00bf" d="M976.1 199.9h0"/>
<path stroke="#0a7d0a" d="M743.6 260.8h0M915.1 153.7h0"/>
<path stroke="#ee1111" d="M963.6 382.5h0"/>
<path stroke="#bf00bf" d="M927.6 231.5h0"/>
<path stroke="#0a7d0a" d="M910.7 158.0h0"/>
<path stroke="#bf00bf" d="M1039.3 167.2h0M1014.5 89.2h0M917.1 319.2h0M924.9 171.9h0"/>
<path stroke="#0a7d0a" d="M908.9 132.7h0"/>
<path stroke="#0808e6" d="M756.2 311.8h0"/>
<path stroke="#0a7d0a" d="M816.9 228.3h0"/>
<path stroke="#ee1111" d="M996.3 299.8h0"/>
<path stroke="#bf00bf" d="M1014.4 262.1h0M951.4 207.7h0"/>
<path stroke="#ee1111" d="M908.5 332.8h0"/>
<path stroke="#0a7d0a" d="M819.6 252.7h0"/>
<path stroke="#0808e6" d="M919.1 359.5h0M791.7 345.4h0"/>
<path stroke="#bf00bf" d="M1034.1 143.8h0M882.9 190.4h0M1091.2 177.0h0"/>
<path stroke="#ee1111" d="M846.1 337.7h0M946.6 380.7h0M947.5 408.7h0"/>
<path stroke="#bf00bf" d="M1089.3 178.4h0M903.1 419.8h0M1042.9 183.9h0"/>
<path stroke="#0a7d0a" d="M833.8 175.0h0"/>
<path stroke="#bf00bf" d="M996.7 244.5h0M1042.0 109.4h0"/>
<path stroke="#0a7d0a" d="M988.9 257.5h0"/>
<path stroke="#bf00bf" d="M1084.1 172.9h0"/>
<path stroke="#0a7d0a" d="M817.0 168.5h0M852.4 218.8h0"/>
<path stroke="#ee1111" d="M986.3 286.1h0"/>
<path stroke="#0a7d0a" d="M813.1 126.0h0M962.1 214.1h0"/>
<path stroke="#0808e6" d="M808.3 334.3h0"/>
<path stroke="#0a7d0a" d="M928.5 166.8h0"/>
<path stroke="#ee1111" d="M938.5 307.2h0"/>
<path stroke="#bf00bf" d="M1050.2 164.4h0M931.0 89.9h0"/>
<path stroke="#0a7d0a" d="M891.1 211.9h0"/>
<path stroke="#0808e6" d="M785.5 180.9h0"/>
<path stroke="#0a7d0a" d="M865.2 155.7h0"/>
<path stroke="#ee1111" d="M959.2 356.6h0"/>
<path stroke="#0808e6" d="M964.6 331.9h0M828.4 247.2h0"/>
<path stroke="#bf00bf" d="M986.9 270.6h0"/>
<path stroke="#0a7d0a" d="M852.5 234.6h0M965.2 185.6h0"/>
<path stroke="#0808e6" d="M851.7 277.6h0"/>
<path stroke="#bf00bf" d="M1029.8 253.4h0"/>
<path stroke="#0808e6" d="M1051.4 328.5h0"/>
<path stroke="#ee1111" d="M956.8 391.3h0"/>
<path stroke="#0808e6" d="M888.3 256.4h0"/>
<path stroke="#bf00bf" d="M1026.2 224.3h0M971.1 208.9h0M1017.9 106.8h0"/>
<path stroke="#0a7d0a" d="M857.2 136.0h0"/>
<path stroke="#0808e6" d="M939.8 432.8h0"/>
<path stroke="#bf00bf" d="M1027.8 180.2h0"/>
<path stroke="#0808e6" d="M871.6 423.1h0"/>
<path stroke="#bf00bf" d="M1005.4 231.8h0"/>
<path stroke="#ee1111" d="M988.1 298.0h0"/>
<path stroke="#0808e6" d="M798.2 391.4h0"/>
<path stroke="#bf00bf" d="M954.1 289.0h0"/>
<path stroke="#ee1111" d="M993.8 273.3h0"/>
<path stroke="#bf00bf" d="M958.3 215.5h0"/>
<path stroke="#0808e6" d="M872.4 412.1h0M821.7 381.0h0"/>
<path stroke="#bf00bf" d="M1005.1 219.4h0"/>
<path stroke="#0a7d0a" d="M858.0 184.0h0M888.9 200.6h0"/>
<path stroke="#0808e6" d="M971.0 94.9h0"/>
<path stroke="#0a7d0a" d="M854.3 114.1h0"/>
<path stroke="#ee1111" d="M989.8 316.8h0"/>
<path stroke="#bf00bf" d="M995.9 283.9h0M945.2 237.6h0"/>
<path stroke="#0808e6" d="M772.0 320.8h0"/>
<path stroke="#0a7d0a" d="M895.6 255.2h0"/>
<path stroke="#0808e6" d="M893.6 297.2h0M767.4 339.3h0"/>
<path stroke="#ee1111" d="M1016.6 293.7h0"/>
<path stroke="#0808e6" d="M751.5 278.5h0"/>
<path stroke="#ee1111" d="M943.8 299.4h0M1013.6 179.6h0"/>
<path stroke="#0a7d0a" d="M823.3 230.0h0M906.2 233.3h0M855.6 281.7h0"/>
<path stroke="#0808e6" d="M771.7 343.0h0M929.1 383.3h0M829.4 355.0h0"/>
<path stroke="#0a7d0a" d="M793.2 155.8h0M919.1 163.0h0"/>
<path stroke="#0808e6" d="M829.3 307.8h0"/>
<path stroke="#bf00bf" d="M958.8 313.0h0"/>
<path stroke="#0808e6" d="M791.4 381.4h0"/>
<path stroke="#bf00bf" d="M981.0 195.1h0"/>
<path stroke="#0a7d0a" d="M850.7 148.2h0M818.9 184.0h0"/>
<path stroke="#bf00bf" d="M1062.1 178.2h0"/>
<path stroke="#0808e6" d="M834.1 242.1h0"/>
<path stroke="#bf00bf" d="M945.9 298.9h0"/>
<path stroke="#0808e6" d="M811.0 370.6h0"/>
<path stroke="#bf00bf" d="M948.0 182.5h0"/>
<path stroke="#ee1111" d="M989.8 321.2h0"/>
<path stroke="#0808e6" d="M921.7 430.7h0"/>
<path stroke="#bf00bf" d="M925.1 94.7h0"/>
<path stroke="#ee1111" d="M910.2 207.0h0"/>
<path stroke="#0a7d0a" d="M934.7 169.1h0M811.0 213.8h0M902.0 185.4h0"/>
<path stroke="#ee1111" d="M1003.4 329.4h0"/>
<path stroke="#0a7d0a" d="M861.9 220.9h0"/>
<path stroke="#0808e6" d="M923.2 298.7h0"/>
<path stroke="#0a7d0a" d="M880.3 167.4h0"/>
<path stroke="#ee1111" d="M972.3 289.0h0M1009.6 317.0h0"/>
<path stroke="#0a7d0a" d="M814.9 190.0h0M913.1 198.5h0"/>
<path stroke="#ee1111" d="M997.9 341.0h0"/>
<path stroke="#0a7d0a" d="M867.1 157.8h0"/>
<path stroke="#bf00bf" d="M1029.3 140.6h0"/>
<path stroke="#0a7d0a" d="M926.7 155.6h0M1001.1 373.1h0"/>
<path stroke="#0808e6" d="M762.9 384.7h0"/>
<path stroke="#0a7d0a" d="M905.3 273.4h0"/>
<path stroke="#bf00bf" d="M1028.6 195.9h0"/>
<path stroke="#0808e6" d="M1021.5 179.5h0"/>
<path stroke="#ee1111" d="M936.8 391.2h0"/>
<path stroke="#0a7d0a" d="M1110.9 376.0h0"/>
<path stroke="#bf00bf" d="M1054.0 289.3h0"/>
<path stroke="#0a7d0a" d="M833.5 238.0h0"/>
<path stroke="#ee1111" d="M967.6 323.0h0"/>
<path stroke="#0808e6" d="M745.1 306.8h0"/>
<path stroke="#0a7d0a" d="M820.8 176.1h0"/>
<path stroke="#ee1111" d="M930.8 326.7h0"/>
<path stroke="#0a7d0a" d="M866.3 160.9h0"/>
<path stroke="#bf00bf" d="M1049.8 236.1h0"/>
<path stroke="#0a7d0a" d="M796.8 185.7h0"/>
<path stroke="#0808e6" d="M847.3 283.2h0"/>
<path stroke="#0a7d0a" d="M855.6 243.6h0"/>
<path stroke="#0808e6" d="M810.9 249.7h0"/>
<path stroke="#bf00bf" d="M1005.3 252.9h0M908.5 332.1h0"/>
<path stroke="#0a7d0a" d="M897.0 152.3h0"/>
<path stroke="#bf00bf" d="M996.0 257.9h0M954.3 251.9h0"/>
<path stroke="#0808e6" d="M909.6 435.9h0"/>
<path stroke="#bf00bf" d="M837.0 147.8h0"/>
<path stroke="#ee1111" d="M1063.4 295.1h0"/>
<path stroke="#0a7d0a" d="M789.4 140.2h0"/>
<path stroke="#ee1111" d="M1024.6 333.0h0M1011.1 321.0h0"/>
<path stroke="#0a7d0a" d="M910.3 171.2h0M924.4 299.4h0"/>
<path stroke="#bf00bf" d="M998.0 207.3h0"/>
<path stroke="#0a7d0a" d="M852.4 179.2h0"/>
<path stroke="#ee1111" d="M943.0 292.9h0"/>
<path stroke="#bf00bf" d="M1072.4 301.2h0"/>
<path stroke="#ee1111" d="M911.7 325.0h0M907.7 298.2h0"/>
<path stroke="#bf00bf" d="M1089.0 268.1h0"/>
<path stroke="#ee1111" d="M1033.9 366.1h0"/>
<path stroke="#0808e6" d="M821.9 258.5h0"/>
<path stroke="#bf00bf" d="M972.5 202.6h0"/>
<path stroke="#0a7d0a" d="M860.3 247.4h0M958.3 166.3h0"/>
<path stroke="#bf00bf" d="M1080.7 274.2h0"/>
<path stroke="#0a7d0a" d="M913.7 247.1h0M901.1 223.4h0"/>
<path stroke="#bf00bf" d="M1032.0 184.6h0M947.4 327.8h0"/>
<path stroke="#ee1111" d="M912.4 382.0h0"/>
<path stroke="#0808e6" d="M982.2 249.3h0"/>
<path stroke="#0a7d0a" d="M806.2 202.7h0"/>
<path stroke="#bf00bf" d="M1011.5 117.9h0"/>
<path stroke="#0808e6" d="M850.5 294.0h0M746.2 405.9h0"/>
<path stroke="#0a7d0a" d="M856.5 136.1h0"/>
<path stroke="#ee1111" d="M1033.1 231.5h0"/>
<path stroke="#0808e6" d="M763.2 307.3h0"/>
<path stroke="#0a7d0a" d="M863.8 101.1h0"/>
<path stroke="#bf00bf" d="M1013.6 134.7h0"/>
<path stroke="#0a7d0a" d="M902.0 129.9h0M851.8 187.0h0"/>
<path stroke="#bf00bf" d="M1046.9 117.2h0"/>
<path stroke="#0808e6" d="M827.6 320.0h0"/>
<path stroke="#0a7d0a" d="M794.5 270.0h0"/>
<path stroke="#0808e6" d="M941.4 411.1h0"/>
<path stroke="#0a7d0a" d="M911.7 145.4h0"/>
<path stroke="#ee1111" d="M888.4 262.3h0"/>
<path stroke="#0808e6" d="M1014.9 437.6h0M810.1 382.8h0"/>
<path stroke="#ee1111" d="M1101.9 371.5h0"/>
<path stroke="#0a7d0a" d="M890.1 285.6h0M820.6 189.2h0"/>
<path stroke="#bf00bf" d="M1074.0 210.3h0"/>
<path stroke="#ee1111" d="M997.1 317.9h0"/>
<path stroke="#bf00bf" d="M951.9 170.9h0"/>
<path stroke="#0808e6" d="M916.7 369.2h0"/>
<path stroke="#ee1111" d="M922.1 333.2h0"/>
<path stroke="#0a7d0a" d="M942.6 245.6h0"/>
<path stroke="#0808e6" d="M841.6 267.0h0"/>
<path stroke="#0a7d0a" d="M905.1 217.7h0"/>
<path stroke="#bf00bf" d="M1072.9 259.8h0"/>
<path stroke="#0808e6" d="M846.3 337.0h0M796.4 158.3h0"/>
<path stroke="#0a7d0a" d="M851.3 202.8h0"/>
<path stroke="#0808e6" d="M788.9 348.9h0M768.3 295.0h0"/>
<path stroke="#0a7d0a" d="M936.6 244.5h0"/>
<path stroke="#0808e6" d="M770.9 270.9h0"/>
<path stroke="#bf00bf" d="M900.6 184.0h0"/>
<path stroke="#ee1111" d="M971.4 295.6h0"/>
<path stroke="#bf00bf" d="M1042.5 254.2h0"/>
<path stroke="#0a7d0a" d="M891.6 268.8h0"/>
<path stroke="#bf00bf" d="M993.1 263.8h0"/>
<path stroke="#0a7d0a" d="M1007.5 152.8h0M1010.2 330.1h0"/>
<path stroke="#bf00bf" d="M1080.4 132.0h0"/>
<path stroke="#0a7d0a" d="M930.2 235.1h0"/>
<path stroke="#bf00bf" d="M1083.2 201.4h0"/>
<path stroke="#0808e6" d="M1025.3 333.8h0"/>
<path stroke="#bf00bf" d="M1049.6 166.8h0M983.1 341.6h0"/>
<path stroke="#ee1111" d="M857.3 329.2h0"/>
<path stroke="#0a7d0a" d="M960.3 156.5h0M845.1 188.6h0"/>
<path stroke="#0808e6" d="M815.3 297.4h0"/>
<path stroke="#0a7d0a" d="M837.1 177.0h0"/>
<path stroke="#0808e6" d="M840.1 318.3h0"/>
<path stroke="#ee1111" d="M1024.3 369.4h0"/>
<path stroke="#0a7d0a" d="M855.2 101.0h0"/>
<path stroke="#bf00bf" d="M1053.6 249.6h0"/>
<path stroke="#0808e6" d="M965.0 392.0h0"/>
<path stroke="#bf00bf" d="M984.1 269.1h0"/>
<path stroke="#0a7d0a" d="M844.6 185.5h0"/>
<path stroke="#bf00bf" d="M1089.0 191.8h0"/>
<path stroke="#ee1111" d="M970.8 201.3h0"/>
<path stroke="#0808e6" d="M834.0 278.3h0"/>
<path stroke="#ee1111" d="M1032.2 235.7h0"/>
<path stroke="#bf00bf" d="M1042.0 231.2h0M990.0 276.3h0M947.6 205.5h0"/>
<path stroke="#0808e6" d="M827.9 270.3h0"/>
<path stroke="#0a7d0a" d="M780.0 228.9h0"/>
<path stroke="#ee1111" d="M932.6 381.0h0"/>
<path stroke="#0808e6" d="M866.9 326.4h0"/>
<path stroke="#bf00bf" d="M1072.4 198.5h0M971.8 85.4h0"/>
<path stroke="#0a7d0a" d="M931.7 241.9h0"/>
<path stroke="#0808e6" d="M769.9 313.8h0"/>
<path stroke="#bf00bf" d="M1076.1 240.2h0M1050.4 191.9h0"/>
<path stroke="#0a7d0a" d="M991.5 341.5h0"/>
<path stroke="#bf00bf" d="M1028.8 221.8h0"/>
<path stroke="#ee1111" d="M1005.5 263.8h0"/>
<path stroke="#bf00bf" d="M1044.2 228.7h0"/>
<path stroke="#ee1111" d="M1008.6 305.0h0"/>
<path stroke="#bf00bf" d="M953.6 155.6h0"/>
<path stroke="#0808e6" d="M816.6 387.4h0"/>
<path stroke="#bf00bf" d="M1087.7 151.3h0"/>
<path stroke="#0a7d0a" d="M910.3 146.3h0M780.0 268.5h0"/>
<path stroke="#bf00bf" d="M942.2 201.4h0"/>
<path stroke="#ee1111" d="M903.2 349.6h0"/>
<path stroke="#bf00bf" d="M1079.5 252.5h0"/>
<path stroke="#0a7d0a" d="M877.4 259.7h0M866.5 222.8h0"/>
<path stroke="#bf00bf" d="M1077.9 109.8h0M1007.4 183.0h0"/>
<path stroke="#0a7d0a" d="M856.0 183.7h0"/>
<path stroke="#0808e6" d="M761.5 304.3h0M882.8 311.3h0M856.5 344.4h0"/>
<path stroke="#bf00bf" d="M1008.3 201.3h0M917.0 286.9h0M1021.8 113.4h0M898.0 225.6h0M1040.2 154.5h0M997.8 180.6h0"/>
<path stroke="#ee1111" d="M1019.3 315.1h0"/>
<path stroke="#0808e6" d="M1026.2 197.4h0"/>
<path stroke="#0a7d0a" d="M951.9 207.3h0"/>
<path stroke="#0808e6" d="M953.7 387.9h0"/>
<path stroke="#bf00bf" d="M1020.5 263.0h0"/>
<path stroke="#ee1111" d="M962.3 284.2h0M1019.3 244.6h0"/>
<path stroke="#0a7d0a" d="M776.4 215.8h0"/>
<path stroke="#bf00bf" d="M1043.3 353.7h0M1017.0 245.6h0"/>
<path stroke="#0a7d0a" d="M748.0 251.0h0"/>
<path stroke="#ee1111" d="M1067.4 340.1h0"/>
<path stroke="#0a7d0a" d="M836.8 226.3h0M939.2 213.3h0"/>
<path stroke="#ee1111" d="M973.0 331.3h0"/>
<path stroke="#bf00bf" d="M957.9 153.4h0"/>
<path stroke="#0808e6" d="M775.0 427.3h0"/>
<path stroke="#bf00bf" d="M998.7 187.8h0"/>
<path stroke="#0808e6" d="M784.6 210.2h0"/>
<path stroke="#0a7d0a" d="M833.2 185.8h0"/>
<path stroke="#bf00bf" d="M978.8 263.7h0"/>
<path stroke="#0808e6" d="M897.9 434.2h0M913.4 262.8h0M1021.3 290.7h0M888.4 245.0h0"/>
<path stroke="#bf00bf" d="M1076.5 152.8h0M1043.6 130.7h0"/>
<path stroke="#ee1111" d="M1085.6 323.7h0M1038.1 351.6h0M1029.4 357.9h0"/>
<path stroke="#0808e6" d="M876.2 359.8h0M863.3 320.1h0M790.3 356.5h0M853.6 329.9h0"/>
<path stroke="#0a7d0a" d="M828.8 260.2h0M1053.4 281.8h0"/>
<path stroke="#ee1111" d="M973.3 344.4h0"/>
<path stroke="#bf00bf" d="M1026.6 183.4h0M967.3 175.1h0"/>
<path stroke="#0a7d0a" d="M775.8 222.1h0M905.7 289.6h0M861.0 321.5h0"/>
<path stroke="#0808e6" d="M999.6 230.5h0"/>
<path stroke="#bf00bf" d="M1065.2 289.7h0"/>
<path stroke="#0808e6" d="M838.5 316.3h0"/>
<path stroke="#bf00bf" d="M953.0 319.4h0"/>
<path stroke="#ee1111" d="M1021.9 276.0h0"/>
<path stroke="#0a7d0a" d="M914.7 233.5h0M888.4 244.0h0M858.0 196.2h0"/>
<path stroke="#0808e6" d="M915.3 307.7h0"/>
<path stroke="#bf00bf" d="M1041.6 99.5h0"/>
<path stroke="#ee1111" d="M987.2 307.9h0M879.5 240.2h0"/>
<path stroke="#bf00bf" d="M852.3 197.3h0"/>
<path stroke="#0a7d0a" d="M931.0 216.4h0"/>
<path stroke="#bf00bf" d="M849.7 115.0h0"/>
<path stroke="#ee1111" d="M1043.1 375.8h0"/>
<path stroke="#0808e6" d="M802.8 364.7h0"/>
<path stroke="#bf00bf" d="M938.1 174.3h0"/>
<path stroke="#0a7d0a" d="M862.5 277.8h0"/>
<path stroke="#0808e6" d="M885.0 399.9h0"/>
<path stroke="#0a7d0a" d="M791.6 210.3h0"/>
<path stroke="#bf00bf" d="M927.7 149.0h0M941.4 126.6h0"/>
<path stroke="#ee1111" d="M916.1 281.5h0"/>
<path stroke="#0808e6" d="M813.2 357.9h0M755.6 332.0h0"/>
<path stroke="#bf00bf" d="M1033.5 195.2h0"/>
<path stroke="#0808e6" d="M876.9 262.1h0"/>
<path stroke="#bf00bf" d="M998.9 172.1h0"/>
<path stroke="#0a7d0a" d="M948.7 260.9h0"/>
<path stroke="#0808e6" d="M912.9 409.6h0"/>
<path stroke="#ee1111" d="M997.1 293.0h0"/>
<path stroke="#bf00bf" d="M768.1 356.9h0"/>
<path stroke="#ee1111" d="M1031.2 317.2h0M1010.9 351.5h0"/>
<path stroke="#0808e6" d="M881.3 235.9h0M902.8 230.1h0"/>
<path stroke="#bf00bf" d="M1006.8 267.4h0"/>
<path stroke="#0808e6" d="M849.6 366.2h0"/>
<path stroke="#bf00bf" d="M887.7 123.6h0M948.5 217.2h0M1095.8 166.9h0M918.2 250.6h0"/>
<path stroke="#0a7d0a" d="M820.8 227.5h0"/>
<path stroke="#bf00bf" d="M959.5 236.8h0M1035.7 283.2h0"/>
<path stroke="#ee1111" d="M1053.7 351.7h0M1010.0 310.1h0"/>
<path stroke="#0a7d0a" d="M925.3 229.2h0M766.0 239.7h0M850.9 257.1h0"/>
<path stroke="#bf00bf" d="M988.8 104.2h0"/>
<path stroke="#ee1111" d="M1045.0 283.7h0"/>
<path stroke="#0808e6" d="M835.9 298.1h0M825.4 293.5h0M765.6 389.8h0"/>
<path stroke="#ee1111" d="M994.8 151.4h0M939.9 251.1h0"/>
<path stroke="#0808e6" d="M840.6 351.7h0"/>
<path stroke="#0a7d0a" d="M947.7 161.7h0"/>
<path stroke="#0808e6" d="M822.6 239.1h0"/>
<path stroke="#bf00bf" d="M856.0 226.0h0M1042.5 165.4h0M964.8 176.4h0M920.6 302.7h0M981.7 191.1h0"/>
<path stroke="#ee1111" d="M964.5 250.1h0"/>
<path stroke="#0a7d0a" d="M884.1 274.0h0"/>
<path stroke="#0808e6" d="M758.6 265.3h0"/>
<path stroke="#0a7d0a" d="M966.0 337.4h0"/>
<path stroke="#bf00bf" d="M1069.7 174.3h0M769.4 215.1h0"/>
<path stroke="#0a7d0a" d="M767.8 219.2h0"/>
<path stroke="#bf00bf" d="M946.7 147.5h0"/>
<path stroke="#0808e6" d="M909.9 281.4h0"/>
<path stroke="#ee1111" d="M1020.9 354.3h0"/>
<path stroke="#bf00bf" d="M1069.4 129.7h0M1046.5 131.7h0"/>
<path stroke="#ee1111" d="M995.8 273.6h0"/>
<path stroke="#0a7d0a" d="M806.6 238.2h0M933.6 173.0h0"/>
<path stroke="#ee1111" d="M995.9 286.7h0"/>
<path stroke="#0a7d0a" d="M800.5 276.4h0"/>
<path stroke="#0808e6" d="M845.2 373.1h0M960.9 236.0h0"/>
<path stroke="#0a7d0a" d="M935.3 306.2h0"/>
<path stroke="#0808e6" d="M968.4 420.0h0"/>
<path stroke="#0a7d0a" d="M847.4 224.0h0M921.7 157.1h0"/>
<path stroke="#ee1111" d="M1030.5 247.7h0"/>
<path stroke="#bf00bf" d="M1024.8 135.9h0"/>
<path stroke="#ee1111" d="M971.1 341.5h0"/>
<path stroke="#0a7d0a" d="M768.9 255.4h0"/>
<path stroke="#ee1111" d="M1002.4 380.8h0"/>
<path stroke="#0808e6" d="M751.2 365.2h0"/>
<path stroke="#0a7d0a" d="M856.7 241.3h0"/>
<path stroke="#bf00bf" d="M877.1 280.6h0"/>
<path stroke="#ee1111" d="M946.3 207.5h0"/>
<path stroke="#0808e6" d="M931.1 388.4h0"/>
<path stroke="#0a7d0a" d="M809.0 256.8h0M781.0 180.8h0M868.4 119.8h0"/>
<path stroke="#ee1111" d="M968.3 395.0h0"/>
<path stroke="#bf00bf" d="M901.0 299.4h0"/>
<path stroke="#0808e6" d="M880.7 345.0h0"/>
<path stroke="#0a7d0a" d="M928.1 143.9h0M812.2 238.5h0"/>
<path stroke="#ee1111" d="M1034.3 340.2h0"/>
<path stroke="#0808e6" d="M820.8 257.7h0"/>
<path stroke="#0a7d0a" d="M862.7 200.9h0"/>
<path stroke="#bf00bf" d="M899.3 282.8h0"/>
<path stroke="#ee1111" d="M979.2 318.7h0"/>
<path stroke="#0a7d0a" d="M836.1 347.7h0M877.5 290.1h0M870.1 171.3h0"/>
<path stroke="#bf00bf" d="M968.5 338.3h0"/>
<path stroke="#0808e6" d="M864.3 349.1h0M756.1 381.7h0M901.6 308.3h0"/>
<path stroke="#0a7d0a" d="M937.3 234.3h0M794.5 270.7h0"/>
<path stroke="#bf00bf" d="M1037.3 211.9h0"/>
<path stroke="#0808e6" d="M1032.7 127.8h0"/>
<path stroke="#0a7d0a" d="M831.1 187.1h0M880.6 215.4h0M955.9 202.7h0M909.3 100.8h0"/>
<path stroke="#0808e6" d="M920.8 280.6h0"/>
<path stroke="#ee1111" d="M982.0 349.9h0M949.0 373.6h0M911.8 289.0h0"/>
<path stroke="#bf00bf" d="M1008.1 158.0h0"/>
<path stroke="#ee1111" d="M986.6 301.5h0"/>
<path stroke="#0a7d0a" d="M939.4 136.0h0"/>
<path stroke="#bf00bf" d="M930.1 206.2h0"/>
<path stroke="#0a7d0a" d="M949.2 237.0h0"/>
<path stroke="#bf00bf" d="M874.4 154.3h0"/>
<path stroke="#0a7d0a" d="M842.1 250.5h0"/>
<path stroke="#ee1111" d="M1020.0 386.1h0"/>
<path stroke="#0a7d0a" d="M808.1 167.2h0"/>
<path stroke="#0808e6" d="M904.9 248.6h0"/>
<path stroke="#ee1111" d="M985.8 302.3h0"/>
<path stroke="#bf00bf" d="M1013.8 212.2h0"/>
<path stroke="#0a7d0a" d="M830.2 188.8h0"/>
<path stroke="#ee1111" d="M995.8 316.8h0"/>
<path stroke="#bf00bf" d="M962.3 196.2h0"/>
<path stroke="#0808e6" d="M979.4 415.2h0"/>
<path stroke="#bf00bf" d="M965.8 200.1h0"/>
<path stroke="#0808e6" d="M834.1 220.0h0"/>
<path stroke="#bf00bf" d="M936.9 166.1h0M1028.1 246.6h0M976.0 111.1h0"/>
<path stroke="#0808e6" d="M928.3 376.0h0M807.5 339.2h0"/>
<path stroke="#ee1111" d="M965.5 312.5h0M900.0 230.2h0"/>
<path stroke="#0808e6" d="M908.4 308.8h0"/>
<path stroke="#bf00bf" d="M1052.1 267.7h0"/>
<path stroke="#0a7d0a" d="M839.3 247.6h0"/>
<path stroke="#bf00bf" d="M986.6 221.5h0M960.5 366.1h0"/>
<path stroke="#ee1111" d="M902.7 276.2h0"/>
<path stroke="#bf00bf" d="M1031.5 186.6h0M911.7 209.8h0M1024.6 160.2h0"/>
<path stroke="#ee1111" d="M998.0 310.2h0"/>
<path stroke="#0a7d0a" d="M860.4 168.4h0"/>
<path stroke="#ee1111" d="M1011.6 298.3h0"/>
<path stroke="#bf00bf" d="M883.6 328.5h0M907.6 141.3h0M961.8 253.5h0M967.4 194.9h0"/>
<path stroke="#0a7d0a" d="M854.8 203.8h0"/>
<path stroke="#bf00bf" d="M949.3 152.7h0M1003.4 243.1h0M1000.4 201.1h0M883.4 225.9h0"/>
<path stroke="#0808e6" d="M829.3 410.6h0"/>
<path stroke="#bf00bf" d="M924.8 199.4h0M1089.0 269.1h0"/>
<path stroke="#0a7d0a" d="M918.5 188.6h0"/>
<path stroke="#0808e6" d="M828.6 408.2h0"/>
<path stroke="#bf00bf" d="M918.8 131.0h0"/>
<path stroke="#0808e6" d="M854.1 286.2h0"/>
<path stroke="#0a7d0a" d="M802.3 276.3h0M870.6 158.9h0"/>
<path stroke="#bf00bf" d="M1045.7 153.9h0"/>
<path stroke="#ee1111" d="M1004.0 235.0h0M994.0 303.2h0"/>
<path stroke="#0a7d0a" d="M956.0 276.4h0"/>
<path stroke="#ee1111" d="M1077.1 285.2h0"/>
<path stroke="#0808e6" d="M797.2 399.3h0"/>
<path stroke="#0a7d0a" d="M919.0 209.6h0"/>
<path stroke="#bf00bf" d="M991.9 202.5h0"/>
<path stroke="#0808e6" d="M981.6 367.4h0M863.7 389.5h0"/>
<path stroke="#bf00bf" d="M1096.9 188.9h0M986.9 146.4h0"/>
<path stroke="#ee1111" d="M1104.6 388.9h0"/>
<path stroke="#0808e6" d="M848.4 298.3h0"/>
<path stroke="#ee1111" d="M966.4 344.6h0M956.2 257.3h0"/>
<path stroke="#0a7d0a" d="M928.0 294.8h0M872.5 177.4h0"/>
<path stroke="#0808e6" d="M879.1 343.9h0"/>
<path stroke="#ee1111" d="M1027.9 315.2h0"/>
<path stroke="#0a7d0a" d="M824.7 174.6h0"/>
<path stroke="#ee1111" d="M1047.8 194.1h0"/>
<path stroke="#0808e6" d="M914.9 312.6h0"/>
<path stroke="#bf00bf" d="M1028.5 230.2h0M991.4 249.1h0"/>
<path stroke="#ee1111" d="M964.6 387.7h0M951.1 275.8h0"/>
<path stroke="#bf00bf" d="M945.7 298.4h0"/>
<path stroke="#0a7d0a" d="M756.0 223.2h0"/>
<path stroke="#ee1111" d="M992.7 264.8h0"/>
<path stroke="#0a7d0a" d="M958.7 129.8h0"/>
<path stroke="#bf00bf" d="M989.2 271.8h0M915.1 126.5h0M1061.5 223.7h0"/>
<path stroke="#0a7d0a" d="M881.6 135.7h0M884.5 232.9h0"/>
<path stroke="#ee1111" d="M1029.8 312.9h0M1048.5 284.2h0M1061.1 258.4h0M973.3 249.2h0M934.7 391.1h0M1002.5 356.0h0M1001.8 212.0h0"/>
<path stroke="#0a7d0a" d="M871.5 132.6h0M879.1 156.3h0"/>
<path stroke="#bf00bf" d="M1072.1 307.9h0"/>
<path stroke="#0808e6" d="M861.7 356.7h0"/>
<path stroke="#0a7d0a" d="M951.9 333.3h0"/>
<path stroke="#ee1111" d="M747.3 282.0h0"/>
<path stroke="#0808e6" d="M902.6 308.6h0"/>
<path stroke="#ee1111" d="M1068.3 271.2h0"/>
<path stroke="#bf00bf" d="M905.5 111.1h0"/>
<path stroke="#ee1111" d="M977.0 194.0h0"/>
<path stroke="#0808e6" d="M837.6 358.0h0"/>
<path stroke="#ee1111" d="M888.1 385.2h0"/>
<path stroke="#0808e6" d="M982.2 86.4h0"/>
<path stroke="#0a7d0a" d="M845.0 177.2h0"/>
<path stroke="#bf00bf" d="M910.6 225.9h0"/>
<path stroke="#ee1111" d="M1037.2 283.1h0"/>
<path stroke="#bf00bf" d="M988.1 222.6h0"/>
<path stroke="#0808e6" d="M803.9 232.9h0"/>
<path stroke="#0a7d0a" d="M942.2 161.1h0"/>
<path stroke="#bf00bf" d="M1024.9 261.7h0"/>
<path stroke="#ee1111" d="M995.5 320.1h0"/>
<path stroke="#bf00bf" d="M954.5 137.5h0"/>
<path stroke="#ee1111" d="M993.7 343.0h0"/>
<path stroke="#0808e6" d="M825.3 384.3h0M843.4 271.2h0"/>
<path stroke="#0a7d0a" d="M917.2 227.0h0"/>
<path stroke="#0808e6" d="M868.8 271.3h0M853.2 275.1h0"/>
<path stroke="#bf00bf" d="M1089.2 80.9h0"/>
<path stroke="#0a7d0a" d="M746.7 305.7h0"/>
<path stroke="#ee1111" d="M1052.0 334.4h0"/>
<path stroke="#0808e6" d="M861.4 294.3h0"/>
<path stroke="#bf00bf" d="M1057.1 169.1h0"/>
<path stroke="#0a7d0a" d="M933.1 251.0h0"/>
<path stroke="#0808e6" d="M870.8 396.0h0"/>
<path stroke="#bf00bf" d="M1072.6 246.7h0"/>
<path stroke="#0808e6" d="M803.4 267.3h0"/>
<path stroke="#0a7d0a" d="M966.9 204.1h0"/>
<path stroke="#bf00bf" d="M945.7 273.5h0"/>
<path stroke="#ee1111" d="M986.8 184.6h0M1025.0 361.7h0"/>
<path stroke="#bf00bf" d="M982.4 153.3h0"/>
<path stroke="#0a7d0a" d="M850.3 224.3h0M1003.4 103.1h0"/>
<path stroke="#ee1111" d="M982.5 351.4h0"/>
<path stroke="#bf00bf" d="M971.2 160.2h0"/>
<path stroke="#ee1111" d="M1015.6 277.1h0M1067.1 332.3h0"/>
<path stroke="#bf00bf" d="M903.6 220.1h0"/>
<path stroke="#ee1111" d="M1014.0 303.6h0"/>
<path stroke="#bf00bf" d="M920.7 164.8h0"/>
<path stroke="#0a7d0a" d="M787.3 249.2h0"/>
<path stroke="#ee1111" d="M1002.6 349.8h0M994.4 293.0h0M1005.2 346.6h0"/>
<path stroke="#bf00bf" d="M932.6 93.4h0M1020.5 181.9h0"/>
<path stroke="#ee1111" d="M1005.0 303.5h0"/>
<path stroke="#0808e6" d="M853.7 394.0h0"/>
<path stroke="#ee1111" d="M963.9 259.2h0"/>
<path stroke="#0808e6" d="M911.1 410.4h0"/>
<path stroke="#ee1111" d="M993.0 255.5h0"/>
<path stroke="#bf00bf" d="M982.4 180.3h0"/>
<path stroke="#ee1111" d="M1071.5 269.0h0"/>
<path stroke="#bf00bf" d="M1018.0 218.6h0"/>
<path stroke="#ee1111" d="M1012.8 273.1h0M970.2 341.3h0"/>
<path stroke="#0808e6" d="M768.4 291.6h0"/>
<path stroke="#bf00bf" d="M924.5 177.2h0M1081.0 240.4h0"/>
<path stroke="#0808e6" d="M784.3 303.2h0M856.1 326.1h0"/>
<path stroke="#bf00bf" d="M1032.6 288.6h0"/>
<path stroke="#0a7d0a" d="M983.4 133.2h0M844.0 183.8h0M934.2 202.2h0"/>
<path stroke="#0808e6" d="M832.1 286.8h0"/>
<path stroke="#ee1111" d="M952.8 352.3h0M1081.9 312.6h0"/>
<path stroke="#bf00bf" d="M1055.0 119.0h0"/>
<path stroke="#ee1111" d="M1047.8 212.7h0"/>
<path stroke="#0a7d0a" d="M914.0 223.3h0"/>
<path stroke="#0808e6" d="M811.4 257.8h0"/>
<path stroke="#0a7d0a" d="M908.3 138.2h0M919.9 235.2h0"/>
<path stroke="#0808e6" d="M908.7 424.8h0M799.7 340.3h0"/>
<path stroke="#0a7d0a" d="M790.3 215.8h0"/>
<path stroke="#0808e6" d="M810.7 419.0h0"/>
<path stroke="#bf00bf" d="M938.8 214.3h0"/>
<path stroke="#0a7d0a" d="M892.2 259.8h0M868.6 95.9h0"/>
<path stroke="#bf00bf" d="M958.2 282.2h0"/>
<path stroke="#ee1111" d="M1054.4 268.5h0"/>
<path stroke="#bf00bf" d="M943.7 144.6h0"/>
<path stroke="#0808e6" d="M904.4 303.2h0"/>
<path stroke="#bf00bf" d="M1097.5 207.7h0"/>
<path stroke="#0808e6" d="M761.1 259.4h0"/>
<path stroke="#ee1111" d="M1012.8 435.5h0"/>
<path stroke="#bf00bf" d="M957.7 174.4h0"/>
<path stroke="#ee1111" d="M869.2 334.3h0M964.6 321.2h0"/>
<path stroke="#bf00bf" d="M1042.2 164.6h0"/>
<path stroke="#ee1111" d="M916.1 220.2h0"/>
<path stroke="#0808e6" d="M913.7 421.3h0"/>
<path stroke="#ee1111" d="M1015.4 347.2h0"/>
<path stroke="#0a7d0a" d="M772.4 120.7h0"/>
<path stroke="#0808e6" d="M864.3 404.0h0"/>
<path stroke="#bf00bf" d="M901.6 225.1h0"/>
<path stroke="#0808e6" d="M898.2 422.4h0M837.9 387.7h0"/>
<path stroke="#bf00bf" d="M824.1 256.4h0"/>
<path stroke="#0a7d0a" d="M852.6 198.2h0"/>
<path stroke="#0808e6" d="M823.3 209.8h0"/>
<path stroke="#ee1111" d="M1034.7 247.8h0"/>
<path stroke="#0a7d0a" d="M883.1 122.7h0M851.3 177.0h0"/>
<path stroke="#ee1111" d="M1019.7 360.5h0"/>
<path stroke="#0a7d0a" d="M887.6 100.7h0M973.1 267.3h0"/>
<path stroke="#ee1111" d="M1049.6 428.3h0"/>
<path stroke="#0a7d0a" d="M1054.0 94.7h0"/>
<path stroke="#0808e6" d="M778.5 319.7h0"/>
<path stroke="#ee1111" d="M1041.8 391.6h0M1009.7 373.9h0"/>
<path stroke="#bf00bf" d="M950.4 147.8h0M975.8 202.9h0"/>
<path stroke="#ee1111" d="M1082.1 272.6h0"/>
<path stroke="#bf00bf" d="M983.0 290.2h0"/>
<path stroke="#0808e6" d="M1000.4 335.6h0M768.1 424.7h0"/>
<path stroke="#bf00bf" d="M926.1 202.6h0"/>
<path stroke="#0808e6" d="M809.7 399.5h0"/>
<path stroke="#bf00bf" d="M983.1 109.8h0M1079.3 192.5h0"/>
<path stroke="#0808e6" d="M769.0 308.5h0"/>
<path stroke="#0a7d0a" d="M872.7 270.5h0"/>
<path stroke="#0808e6" d="M902.8 313.7h0"/>
<path stroke="#bf00bf" d="M1007.3 174.7h0"/>
<path stroke="#ee1111" d="M1061.7 247.0h0M938.2 371.3h0M1013.4 400.4h0M949.1 312.3h0"/>
<path stroke="#0808e6" d="M814.1 256.2h0"/>
<path stroke="#bf00bf" d="M1058.5 231.0h0"/>
<path stroke="#0a7d0a" d="M936.3 185.1h0"/>
<path stroke="#0808e6" d="M940.0 412.5h0M984.6 280.2h0"/>
<path stroke="#bf00bf" d="M1022.7 111.5h0"/>
<path stroke="#0808e6" d="M831.2 401.5h0M959.8 349.8h0M846.5 430.7h0M971.7 337.4h0"/>
<path stroke="#0a7d0a" d="M885.9 161.4h0"/>
<path stroke="#ee1111" d="M986.7 375.0h0M1012.5 313.6h0"/>
<path stroke="#bf00bf" d="M955.4 299.3h0"/>
<path stroke="#0808e6" d="M747.6 294.0h0"/>
<path stroke="#bf00bf" d="M1058.5 174.4h0"/>
<path stroke="#0a7d0a" d="M908.0 218.0h0"/>
<path stroke="#ee1111" d="M931.5 425.7h0"/>
<path stroke="#bf00bf" d="M980.1 152.1h0"/>
<path stroke="#0808e6" d="M847.1 362.5h0M941.7 97.0h0M838.7 309.9h0"/>
<path stroke="#0a7d0a" d="M830.0 143.8h0M842.6 275.2h0M813.7 173.8h0"/>
<path stroke="#ee1111" d="M1074.0 361.4h0M1026.9 302.8h0"/>
<path stroke="#0a7d0a" d="M870.7 237.5h0M843.0 186.1h0"/>
<path stroke="#bf00bf" d="M1020.4 144.1h0"/>
<path stroke="#0a7d0a" d="M832.0 147.5h0"/>
<path stroke="#0808e6" d="M877.5 298.9h0"/>
<path stroke="#bf00bf" d="M854.5 156.4h0M977.0 270.7h0"/>
<path stroke="#0a7d0a" d="M1052.6 440.9h0"/>
<path stroke="#0808e6" d="M804.1 355.0h0M1023.0 393.0h0"/>
<path stroke="#bf00bf" d="M1042.2 132.6h0"/>
<path stroke="#0808e6" d="M820.2 319.7h0M772.0 277.8h0"/>
<path stroke="#0a7d0a" d="M811.5 213.1h0"/>
<path stroke="#ee1111" d="M1047.4 327.2h0"/>
<path stroke="#0808e6" d="M889.7 397.0h0M925.8 369.5h0"/>
<path stroke="#ee1111" d="M1106.6 240.0h0"/>
<path stroke="#bf00bf" d="M908.5 213.4h0"/>
<path stroke="#0a7d0a" d="M880.6 204.3h0"/>
<path stroke="#bf00bf" d="M1034.9 405.6h0"/>
<path stroke="#ee1111" d="M932.5 393.7h0"/>
<path stroke="#0a7d0a" d="M886.3 257.3h0"/>
<path stroke="#ee1111" d="M1012.4 386.8h0"/>
<path stroke="#bf00bf" d="M893.1 169.9h0"/>
<path stroke="#ee1111" d="M1060.8 304.0h0"/>
<path stroke="#0a7d0a" d="M896.0 174.7h0"/>
<path stroke="#bf00bf" d="M1018.0 214.4h0M915.7 152.1h0"/>
<path stroke="#0808e6" d="M806.3 254.2h0M759.6 295.8h0"/>
<path stroke="#ee1111" d="M904.8 303.7h0"/>
<path stroke="#bf00bf" d="M1017.4 148.4h0"/>
<path stroke="#0808e6" d="M777.2 384.7h0"/>
<path stroke="#bf00bf" d="M773.4 225.9h0"/>
<path stroke="#0808e6" d="M809.0 291.4h0M774.1 392.2h0"/>
<path stroke="#bf00bf" d="M945.9 198.1h0"/>
<path stroke="#0808e6" d="M869.3 292.6h0"/>
<path stroke="#bf00bf" d="M1065.9 154.3h0"/>
<path stroke="#ee1111" d="M973.9 421.2h0"/>
<path stroke="#bf00bf" d="M959.1 134.7h0"/>
<path stroke="#0a7d0a" d="M847.6 237.9h0"/>
<path stroke="#bf00bf" d="M977.6 181.0h0"/>
<path stroke="#0808e6" d="M894.3 313.1h0"/>
<path stroke="#bf00bf" d="M973.7 124.2h0"/>
<path stroke="#0a7d0a" d="M823.1 174.3h0M817.9 213.8h0"/>
<path stroke="#0808e6" d="M893.2 328.2h0"/>
<path stroke="#ee1111" d="M1008.5 314.4h0M1016.6 356.4h0"/>
<path stroke="#0808e6" d="M790.5 109.8h0"/>
<path stroke="#0a7d0a" d="M869.0 120.0h0"/>
<path stroke="#bf00bf" d="M968.5 232.9h0"/>
<path stroke="#ee1111" d="M1009.4 368.6h0"/>
<path stroke="#0808e6" d="M853.0 406.0h0"/>
<path stroke="#bf00bf" d="M863.5 221.9h0"/>
<path stroke="#0a7d0a" d="M834.0 187.7h0"/>
<path stroke="#0808e6" d="M823.7 186.4h0"/>
<path stroke="#bf00bf" d="M935.9 317.3h0"/>
<path stroke="#0808e6" d="M908.9 355.4h0"/>
<path stroke="#bf00bf" d="M1034.1 220.6h0"/>
<path stroke="#ee1111" d="M956.6 317.6h0"/>
<path stroke="#0a7d0a" d="M825.0 205.1h0M792.7 144.4h0"/>
<path stroke="#ee1111" d="M1043.4 370.9h0"/>
<path stroke="#bf00bf" d="M1038.3 236.2h0"/>
<path stroke="#0808e6" d="M907.0 376.2h0"/>
<path stroke="#0a7d0a" d="M1012.6 224.5h0"/>
<path stroke="#bf00bf" d="M984.6 241.7h0"/>
<path stroke="#ee1111" d="M1041.4 277.0h0M967.6 264.1h0M1044.3 414.4h0M979.2 394.2h0"/>
<path stroke="#0a7d0a" d="M818.3 105.3h0M841.4 207.4h0M843.0 171.0h0"/>
<path stroke="#ee1111" d="M997.2 327.9h0"/>
<path stroke="#bf00bf" d="M1005.4 287.7h0"/>
<path stroke="#ee1111" d="M1045.8 281.3h0M930.8 344.5h0"/>
<path stroke="#0a7d0a" d="M874.7 316.7h0"/>
<path stroke="#0808e6" d="M1040.1 103.1h0"/>
<path stroke="#bf00bf" d="M977.1 108.9h0"/>
<path stroke="#ee1111" d="M920.8 301.5h0"/>
<path stroke="#0808e6" d="M816.2 260.4h0"/>
<path stroke="#bf00bf" d="M966.1 186.1h0M978.9 170.7h0"/>
<path stroke="#ee1111" d="M979.4 336.4h0"/>
<path stroke="#bf00bf" d="M948.4 242.3h0M915.7 289.7h0"/>
<path stroke="#ee1111" d="M1045.0 319.6h0"/>
<path stroke="#bf00bf" d="M1011.4 260.8h0"/>
<path stroke="#0a7d0a" d="M937.0 184.3h0"/>
<path stroke="#0808e6" d="M849.9 172.2h0"/>
<path stroke="#bf00bf" d="M996.0 259.9h0"/>
<path stroke="#0808e6" d="M806.9 304.1h0M849.0 367.1h0"/>
<path stroke="#bf00bf" d="M1015.1 250.9h0M957.1 217.8h0"/>
<path stroke="#0808e6" d="M967.5 334.6h0M838.1 309.1h0"/>
<path stroke="#bf00bf" d="M884.5 197.9h0M896.3 171.3h0M1044.2 109.0h0M946.0 232.1h0"/>
<path stroke="#0808e6" d="M846.0 367.6h0"/>
<path stroke="#ee1111" d="M951.2 303.4h0M987.9 320.8h0"/>
<path stroke="#0a7d0a" d="M840.1 236.2h0M898.7 272.7h0"/>
<path stroke="#bf00bf" d="M925.1 190.2h0"/>
<path stroke="#0a7d0a" d="M953.0 321.0h0"/>
<path stroke="#0808e6" d="M792.2 257.9h0"/>
<path stroke="#0a7d0a" d="M976.0 178.8h0"/>
<path stroke="#ee1111" d="M1000.2 231.8h0"/>
<path stroke="#0a7d0a" d="M888.9 167.9h0"/>
<path stroke="#bf00bf" d="M920.4 168.6h0M966.9 127.4h0"/>
<path stroke="#0808e6" d="M885.2 284.4h0M1002.5 240.8h0"/>
<path stroke="#0a7d0a" d="M920.8 292.8h0"/>
<path stroke="#bf00bf" d="M928.5 262.0h0M947.2 350.3h0"/>
<path stroke="#ee1111" d="M989.3 310.7h0"/>
<path stroke="#0a7d0a" d="M883.8 172.1h0M800.7 220.7h0"/>
<path stroke="#0808e6" d="M885.8 400.5h0"/>
<path stroke="#ee1111" d="M946.6 384.5h0"/>
<path stroke="#0808e6" d="M1033.8 318.1h0"/>
<path stroke="#bf00bf" d="M1063.3 166.3h0"/>
<path stroke="#0808e6" d="M904.6 397.9h0M979.1 376.1h0M863.4 314.1h0"/>
<path stroke="#bf00bf" d="M1042.1 266.7h0M918.4 221.5h0"/>
<path stroke="#0a7d0a" d="M875.6 238.7h0"/>
<path stroke="#ee1111" d="M933.9 250.0h0M1009.6 392.2h0"/>
<path stroke="#bf00bf" d="M908.7 108.9h0"/>
<path stroke="#0808e6" d="M788.1 426.5h0"/>
<path stroke="#ee1111" d="M990.8 342.4h0"/>
<path stroke="#0808e6" d="M791.9 291.2h0"/>
<path stroke="#ee1111" d="M971.6 280.9h0"/>
<path stroke="#0808e6" d="M884.8 302.5h0M873.3 346.6h0"/>
<path stroke="#bf00bf" d="M932.3 359.2h0M1076.4 249.9h0"/>
<path stroke="#0808e6" d="M906.1 372.8h0"/>
<path stroke="#0a7d0a" d="M961.4 124.4h0M904.2 200.7h0"/>
<path stroke="#0808e6" d="M811.7 373.4h0M922.9 313.2h0"/>
<path stroke="#bf00bf" d="M933.9 230.9h0"/>
<path stroke="#0a7d0a" d="M906.4 235.0h0"/>
<path stroke="#0808e6" d="M806.6 306.2h0"/>
<path stroke="#ee1111" d="M952.4 259.2h0"/>
<path stroke="#0808e6" d="M807.4 422.5h0"/>
<path stroke="#bf00bf" d="M976.3 377.6h0"/>
<path stroke="#0a7d0a" d="M856.8 172.2h0"/>
<path stroke="#bf00bf" d="M1059.5 194.8h0M971.9 138.0h0M956.4 187.1h0M891.7 184.5h0"/>
<path stroke="#ee1111" d="M971.8 333.0h0"/>
<path stroke="#bf00bf" d="M948.2 250.7h0"/>
<path stroke="#0808e6" d="M857.1 377.2h0M857.2 317.2h0"/>
<path stroke="#ee1111" d="M929.3 326.7h0M1102.2 264.8h0M973.2 295.6h0"/>
<path stroke="#0a7d0a" d="M964.4 362.5h0"/>
<path stroke="#0808e6" d="M882.9 244.4h0"/>
<path stroke="#0a7d0a" d="M961.9 234.3h0"/>
<path stroke="#bf00bf" d="M1024.2 253.8h0"/>
<path stroke="#0a7d0a" d="M916.0 123.9h0"/>
<path stroke="#ee1111" d="M1050.9 377.9h0"/>
<path stroke="#bf00bf" d="M1005.6 182.7h0"/>
<path stroke="#0a7d0a" d="M948.8 271.7h0"/>
<path stroke="#bf00bf" d="M978.1 325.1h0M851.6 162.1h0"/>
<path stroke="#0808e6" d="M842.3 311.2h0"/>
<path stroke="#ee1111" d="M1093.9 396.6h0"/>
<path stroke="#bf00bf" d="M1061.5 204.9h0M1055.0 181.0h0M1026.1 117.3h0"/>
<path stroke="#ee1111" d="M1089.1 340.8h0"/>
<path stroke="#bf00bf" d="M1025.8 143.1h0M1014.1 218.8h0"/>
<path stroke="#0a7d0a" d="M786.1 251.5h0"/>
<path stroke="#0808e6" d="M788.4 330.6h0M932.2 287.1h0"/>
<path stroke="#bf00bf" d="M939.8 203.9h0M1055.2 158.9h0"/>
<path stroke="#0a7d0a" d="M926.6 139.7h0M878.1 96.2h0"/>
<path stroke="#bf00bf" d="M919.5 220.9h0"/>
<path stroke="#0a7d0a" d="M817.1 169.1h0M783.1 363.9h0"/>
<path stroke="#0808e6" d="M968.3 182.5h0"/>
<path stroke="#0a7d0a" d="M866.8 241.1h0"/>
<path stroke="#bf00bf" d="M1078.6 256.5h0"/>
<path stroke="#0a7d0a" d="M839.2 295.7h0"/>
<path stroke="#0808e6" d="M761.3 379.4h0"/>
<path stroke="#ee1111" d="M935.9 402.7h0"/>
<path stroke="#0808e6" d="M1010.7 271.8h0"/>
<path stroke="#ee1111" d="M869.1 318.5h0"/>
<path stroke="#0808e6" d="M757.3 399.4h0"/>
<path stroke="#bf00bf" d="M1000.5 214.4h0"/>
<path stroke="#0a7d0a" d="M845.0 185.7h0M912.3 165.3h0"/>
<path stroke="#0808e6" d="M825.0 345.3h0"/>
<path stroke="#ee1111" d="M1043.1 344.5h0"/>
<path stroke="#0a7d0a" d="M822.3 106.1h0"/>
<path stroke="#bf00bf" d="M1055.4 311.1h0M1057.1 201.3h0"/>
<path stroke="#0a7d0a" d="M874.8 219.1h0M894.7 176.4h0"/>
<path stroke="#bf00bf" d="M963.4 154.8h0"/>
<path stroke="#0a7d0a" d="M914.8 216.7h0"/>
<path stroke="#0808e6" d="M918.3 179.4h0"/>
<path stroke="#bf00bf" d="M966.6 212.1h0M1088.8 237.9h0"/>
<path stroke="#ee1111" d="M929.8 332.2h0M1009.4 358.1h0M1035.2 301.9h0"/>
<path stroke="#0a7d0a" d="M894.8 138.0h0M932.5 203.9h0"/>
<path stroke="#ee1111" d="M1043.3 367.1h0"/>
<path stroke="#0a7d0a" d="M921.3 198.5h0"/>
<path stroke="#ee1111" d="M1056.0 261.7h0"/>
<path stroke="#bf00bf" d="M961.6 165.2h0"/>
<path stroke="#ee1111" d="M998.7 319.0h0M943.5 336.6h0M1032.0 417.4h0"/>
<path stroke="#0808e6" d="M823.1 434.1h0"/>
<path stroke="#ee1111" d="M1004.2 408.0h0M1094.0 354.9h0"/>
<path stroke="#0a7d0a" d="M801.3 216.9h0"/>
<path stroke="#ee1111" d="M1037.3 286.9h0"/>
<path stroke="#bf00bf" d="M1108.5 259.7h0"/>
<path stroke="#0a7d0a" d="M890.5 212.1h0"/>
<path stroke="#0808e6" d="M806.5 382.1h0M967.0 327.9h0M830.7 317.0h0"/>
<path stroke="#0a7d0a" d="M1010.0 224.5h0"/>
<path stroke="#ee1111" d="M1071.8 336.6h0"/>
<path stroke="#0808e6" d="M917.6 338.9h0"/>
<path stroke="#0a7d0a" d="M801.2 261.1h0M856.1 312.9h0"/>
<path stroke="#0808e6" d="M897.8 364.9h0"/>
<path stroke="#0a7d0a" d="M826.0 244.6h0"/>
<path stroke="#0808e6" d="M823.9 384.9h0"/>
<path stroke="#bf00bf" d="M1007.7 184.8h0M862.2 147.6h0"/>
<path stroke="#0a7d0a" d="M1021.3 379.1h0"/>
<path stroke="#0808e6" d="M811.9 345.0h0"/>
<path stroke="#bf00bf" d="M1024.0 202.4h0M1032.3 184.9h0"/>
<path stroke="#0808e6" d="M785.2 384.1h0M895.0 338.4h0"/>
<path stroke="#bf00bf" d="M1063.8 149.9h0"/>
<path stroke="#ee1111" d="M1044.5 362.6h0"/>
<path stroke="#0808e6" d="M759.3 373.7h0M829.8 334.1h0"/>
<path stroke="#bf00bf" d="M1000.2 148.5h0M968.5 169.1h0M986.1 189.0h0M1109.7 206.4h0M970.3 199.1h0"/>
<path stroke="#ee1111" d="M950.4 347.7h0"/>
<path stroke="#0808e6" d="M779.2 412.1h0"/>
<path stroke="#ee1111" d="M1023.9 364.9h0"/>
<path stroke="#0808e6" d="M926.3 329.3h0M881.7 315.5h0M851.6 301.9h0M933.6 358.2h0"/>
<path stroke="#0a7d0a" d="M922.7 254.1h0"/>
<path stroke="#0808e6" d="M761.9 297.9h0"/>
<path stroke="#bf00bf" d="M863.3 227.5h0"/>
<path stroke="#0a7d0a" d="M869.7 194.8h0M862.2 189.4h0"/>
<path stroke="#bf00bf" d="M942.6 157.6h0"/>
<path stroke="#ee1111" d="M1060.3 304.2h0"/>
<path stroke="#0808e6" d="M851.5 306.2h0"/>
<path stroke="#ee1111" d="M902.8 282.3h0M975.1 305.5h0"/>
<path stroke="#bf00bf" d="M1073.0 195.5h0M1002.3 356.3h0"/>
<path stroke="#0a7d0a" d="M853.7 197.2h0"/>
<path stroke="#0808e6" d="M968.0 309.2h0M914.2 267.8h0"/>
<path stroke="#bf00bf" d="M1014.8 242.1h0"/>
<path stroke="#0a7d0a" d="M915.2 187.5h0"/>
<path stroke="#0808e6" d="M931.6 391.2h0M1013.3 221.3h0M994.5 347.7h0"/>
<path stroke="#ee1111" d="M953.2 243.7h0"/>
<path stroke="#0808e6" d="M876.3 409.4h0"/>
<path stroke="#bf00bf" d="M1020.3 246.9h0"/>
<path stroke="#0a7d0a" d="M971.8 143.0h0"/>
<path stroke="#ee1111" d="M1037.8 376.2h0M958.6 350.2h0"/>
<path stroke="#bf00bf" d="M996.2 282.4h0M952.0 217.8h0"/>
<path stroke="#0808e6" d="M843.9 233.5h0"/>
<path stroke="#0a7d0a" d="M890.0 212.0h0M940.6 237.8h0"/>
<path stroke="#bf00bf" d="M897.9 376.8h0M987.2 142.2h0"/>
<path stroke="#0a7d0a" d="M924.9 304.8h0"/>
<path stroke="#bf00bf" d="M1074.3 122.8h0"/>
<path stroke="#0808e6" d="M1016.2 298.4h0"/>
<path stroke="#0a7d0a" d="M826.0 185.8h0M850.5 276.4h0M826.1 321.9h0M879.0 151.4h0"/>
<path stroke="#ee1111" d="M1022.9 221.2h0"/>
<path stroke="#0808e6" d="M859.4 320.2h0"/>
<path stroke="#0a7d0a" d="M820.0 231.6h0"/>
<path stroke="#ee1111" d="M1014.7 350.4h0"/>
<path stroke="#bf00bf" d="M1006.6 256.7h0"/>
<path stroke="#ee1111" d="M879.0 331.7h0"/>
<path stroke="#0a7d0a" d="M881.3 125.8h0M909.7 186.2h0"/>
<path stroke="#0808e6" d="M818.3 325.5h0"/>
<path stroke="#0a7d0a" d="M861.5 158.1h0M976.0 150.7h0"/>
<path stroke="#ee1111" d="M957.6 299.0h0"/>
<path stroke="#0a7d0a" d="M847.2 118.0h0"/>
<path stroke="#0808e6" d="M890.4 379.2h0"/>
<path stroke="#ee1111" d="M1080.1 359.1h0"/>
<path stroke="#0808e6" d="M975.6 356.5h0"/>
<path stroke="#0a7d0a" d="M748.2 189.7h0"/>
<path stroke="#bf00bf" d="M1050.5 201.9h0"/>
<path stroke="#ee1111" d="M980.4 327.8h0"/>
<path stroke="#bf00bf" d="M986.4 248.2h0M1018.0 179.1h0M862.0 85.2h0"/>
<path stroke="#0a7d0a" d="M805.7 232.5h0"/>
<path stroke="#bf00bf" d="M1036.1 126.6h0"/>
<path stroke="#ee1111" d="M943.2 265.3h0M1027.2 355.3h0M998.0 306.7h0"/>
<path stroke="#0a7d0a" d="M904.4 266.2h0"/>
<path stroke="#0808e6" d="M913.5 278.4h0"/>
<path stroke="#bf00bf" d="M948.9 217.6h0"/>
<path stroke="#0a7d0a" d="M858.9 200.9h0M891.0 233.4h0"/>
<path stroke="#0808e6" d="M776.2 188.3h0"/>
<path stroke="#bf00bf" d="M1013.4 212.3h0"/>
<path stroke="#0a7d0a" d="M927.7 117.3h0"/>
<path stroke="#ee1111" d="M1005.1 294.2h0"/>
<path stroke="#bf00bf" d="M1010.5 230.3h0M1080.2 213.9h0M880.0 161.8h0M1049.1 215.0h0"/>
<path stroke="#ee1111" d="M1003.8 324.9h0"/>
<path stroke="#0808e6" d="M918.9 385.4h0"/>
<path stroke="#0a7d0a" d="M915.0 199.9h0"/>
<path stroke="#0808e6" d="M773.9 271.2h0M946.1 341.5h0"/>
<path stroke="#bf00bf" d="M916.1 230.6h0"/>
<path stroke="#0808e6" d="M950.0 334.9h0"/>
<path stroke="#0a7d0a" d="M930.6 105.0h0M900.4 229.1h0"/>
<path stroke="#ee1111" d="M998.1 439.4h0"/>
<path stroke="#0a7d0a" d="M866.3 150.7h0"/>
<path stroke="#ee1111" d="M1104.0 274.2h0"/>
<path stroke="#0808e6" d="M902.4 389.9h0"/>
<path stroke="#bf00bf" d="M989.9 106.5h0M989.3 251.3h0"/>
<path stroke="#0808e6" d="M928.1 279.5h0M927.3 181.9h0"/>
<path stroke="#ee1111" d="M991.0 357.0h0"/>
<path stroke="#bf00bf" d="M1058.3 212.5h0"/>
<path stroke="#0a7d0a" d="M924.8 322.8h0"/>
<path stroke="#0808e6" d="M900.0 315.7h0M879.3 364.7h0"/>
<path stroke="#0a7d0a" d="M874.7 267.6h0"/>
<path stroke="#ee1111" d="M1050.4 313.4h0M1003.9 310.3h0"/>
<path stroke="#0808e6" d="M785.8 387.3h0"/>
<path stroke="#0a7d0a" d="M873.5 275.0h0"/>
<path stroke="#ee1111" d="M1014.4 318.3h0"/>
<path stroke="#bf00bf" d="M1050.4 177.4h0"/>
<path stroke="#0808e6" d="M839.5 304.5h0"/>
<path stroke="#bf00bf" d="M1058.6 213.7h0"/>
<path stroke="#ee1111" d="M944.1 333.0h0M992.2 259.5h0"/>
<path stroke="#bf00bf" d="M1031.9 188.7h0"/>
<path stroke="#0808e6" d="M832.8 417.3h0M807.9 313.9h0"/>
<path stroke="#0a7d0a" d="M921.7 181.2h0M868.3 251.6h0"/>
<path stroke="#ee1111" d="M1008.5 346.4h0"/>
<path stroke="#0808e6" d="M884.7 348.7h0M924.4 399.8h0"/>
<path stroke="#0a7d0a" d="M871.7 212.0h0"/>
<path stroke="#0808e6" d="M820.9 439.3h0"/>
<path stroke="#ee1111" d="M984.6 305.8h0"/>
<path stroke="#0808e6" d="M919.6 380.5h0"/>
<path stroke="#bf00bf" d="M1109.3 213.4h0"/>
<path stroke="#0a7d0a" d="M801.9 266.8h0"/>
<path stroke="#bf00bf" d="M995.9 310.9h0"/>
<path stroke="#0808e6" d="M872.2 383.6h0"/>
<path stroke="#bf00bf" d="M1096.7 246.0h0"/>
<path stroke="#0808e6" d="M816.6 325.3h0"/>
<path stroke="#0a7d0a" d="M961.4 190.7h0"/>
<path stroke="#ee1111" d="M999.8 351.7h0"/>
<path stroke="#bf00bf" d="M1053.4 209.8h0"/>
<path stroke="#0a7d0a" d="M902.8 183.4h0"/>
<path stroke="#ee1111" d="M1012.3 365.3h0"/>
<path stroke="#0808e6" d="M856.1 321.9h0"/>
<path stroke="#ee1111" d="M1056.9 359.4h0"/>
<path stroke="#bf00bf" d="M920.4 151.3h0"/>
<path stroke="#ee1111" d="M946.6 317.7h0M1057.8 267.5h0"/>
<path stroke="#0a7d0a" d="M928.8 250.3h0M895.7 211.0h0M989.1 210.2h0"/>
<path stroke="#0808e6" d="M804.3 211.4h0M786.7 224.3h0M838.6 365.5h0M763.3 404.4h0"/>
<path stroke="#ee1111" d="M984.2 280.9h0"/>
<path stroke="#0a7d0a" d="M908.4 177.7h0"/>
<path stroke="#bf00bf" d="M1090.3 213.8h0M976.3 255.0h0"/>
<path stroke="#0a7d0a" d="M796.9 203.0h0M970.3 159.0h0"/>
<path stroke="#bf00bf" d="M881.2 357.2h0M938.1 215.2h0M963.7 257.9h0"/>
<path stroke="#ee1111" d="M1001.9 339.4h0"/>
<path stroke="#0808e6" d="M868.6 347.3h0"/>
<path stroke="#ee1111" d="M1051.6 331.5h0"/>
<path stroke="#bf00bf" d="M1016.9 250.6h0"/>
<path stroke="#0808e6" d="M874.8 421.7h0"/>
<path stroke="#0a7d0a" d="M772.9 159.9h0"/>
<path stroke="#ee1111" d="M1074.5 243.2h0"/>
<path stroke="#bf00bf" d="M1032.4 195.3h0M902.3 240.3h0"/>
<path stroke="#ee1111" d="M1021.7 341.0h0"/>
<path stroke="#0808e6" d="M917.4 399.3h0"/>
<path stroke="#ee1111" d="M1023.9 336.3h0"/>
<path stroke="#bf00bf" d="M1040.3 146.4h0"/>
<path stroke="#0808e6" d="M909.1 296.0h0"/>
<path stroke="#0a7d0a" d="M822.0 183.5h0"/>
<path stroke="#bf00bf" d="M1013.6 164.4h0"/>
<path stroke="#0808e6" d="M903.3 289.4h0"/>
<path stroke="#bf00bf" d="M949.8 146.0h0"/>
<path stroke="#0a7d0a" d="M788.1 238.4h0"/>
<path stroke="#0808e6" d="M1049.2 398.7h0M962.1 278.4h0"/>
<path stroke="#bf00bf" d="M958.8 231.2h0"/>
<path stroke="#0808e6" d="M816.8 377.9h0"/>
<path stroke="#ee1111" d="M966.2 404.7h0M961.4 331.1h0"/>
<path stroke="#bf00bf" d="M992.4 92.9h0"/>
<path stroke="#0a7d0a" d="M866.9 138.3h0"/>
<path stroke="#bf00bf" d="M826.1 216.0h0"/>
<path stroke="#0808e6" d="M895.8 305.0h0M888.1 248.7h0M884.9 355.0h0"/>
<path stroke="#bf00bf" d="M957.2 220.6h0"/>
<path stroke="#ee1111" d="M1054.8 226.9h0"/>
<path stroke="#0a7d0a" d="M865.9 243.6h0"/>
<path stroke="#bf00bf" d="M1020.3 273.8h0M1099.7 229.2h0M916.3 190.7h0"/>
<path stroke="#ee1111" d="M1112.0 420.3h0"/>
<path stroke="#0a7d0a" d="M855.5 203.4h0M842.4 247.4h0"/>
<path stroke="#ee1111" d="M1057.0 336.8h0"/>
<path stroke="#0a7d0a" d="M787.3 140.9h0"/>
<path stroke="#0808e6" d="M1030.1 304.3h0"/>
<path stroke="#0a7d0a" d="M870.7 134.3h0"/>
<path stroke="#ee1111" d="M1031.8 284.0h0"/>
<path stroke="#0808e6" d="M796.1 405.5h0M884.4 399.7h0M1003.5 336.5h0"/>
<path stroke="#0a7d0a" d="M907.6 255.8h0"/>
<path stroke="#ee1111" d="M883.3 90.8h0"/>
<path stroke="#bf00bf" d="M978.3 274.7h0"/>
<path stroke="#0808e6" d="M897.8 340.4h0M902.3 340.6h0"/>
<path stroke="#bf00bf" d="M1046.1 206.4h0"/>
<path stroke="#0808e6" d="M858.4 418.3h0"/>
<path stroke="#bf00bf" d="M1001.7 310.5h0M1071.8 183.7h0"/>
<path stroke="#0808e6" d="M924.7 258.2h0"/>
<path stroke="#0a7d0a" d="M962.7 248.5h0M941.3 164.8h0"/>
<path stroke="#0808e6" d="M918.4 436.2h0M845.8 287.6h0"/>
<path stroke="#bf00bf" d="M897.0 128.9h0"/>
<path stroke="#0a7d0a" d="M876.5 106.9h0"/>
<path stroke="#ee1111" d="M839.7 240.8h0"/>
<path stroke="#0a7d0a" d="M840.8 171.6h0"/>
<path stroke="#bf00bf" d="M1021.7 104.8h0"/>
<path stroke="#ee1111" d="M1043.6 332.5h0"/>
<path stroke="#0808e6" d="M795.5 276.3h0"/>
<path stroke="#bf00bf" d="M955.0 288.8h0"/>
<path stroke="#0a7d0a" d="M854.6 146.5h0"/>
<path stroke="#0808e6" d="M858.3 314.7h0M835.1 360.1h0"/>
<path stroke="#ee1111" d="M968.5 360.3h0"/>
<path stroke="#0808e6" d="M842.4 274.6h0"/>
<path stroke="#0a7d0a" d="M911.6 168.0h0"/>
<path stroke="#bf00bf" d="M1016.5 221.8h0M1007.9 231.3h0M949.9 175.7h0"/>
<path stroke="#0a7d0a" d="M797.6 284.4h0"/>
<path stroke="#bf00bf" d="M1073.6 247.9h0"/>
<path stroke="#0808e6" d="M955.6 281.5h0"/>
<path stroke="#ee1111" d="M1113.5 278.2h0"/>
<path stroke="#0808e6" d="M871.7 306.4h0"/>
<path stroke="#0a7d0a" d="M924.5 98.8h0M1001.6 186.7h0"/>
<path stroke="#ee1111" d="M984.8 260.3h0"/>
<path stroke="#0808e6" d="M888.3 207.2h0"/>
<path stroke="#ee1111" d="M940.8 298.8h0"/>
<path stroke="#0a7d0a" d="M775.2 201.2h0"/>
<path stroke="#bf00bf" d="M1019.3 191.8h0"/>
<path stroke="#0a7d0a" d="M789.6 163.5h0M965.9 209.2h0"/>
<path stroke="#ee1111" d="M1076.7 363.7h0M992.3 292.0h0"/>
<path stroke="#0a7d0a" d="M910.6 178.9h0"/>
<path stroke="#bf00bf" d="M1028.8 213.3h0"/>
<path stroke="#0808e6" d="M1009.5 242.9h0"/>
<path stroke="#bf00bf" d="M929.3 206.5h0"/>
<path stroke="#ee1111" d="M1023.8 370.7h0M1102.9 354.7h0M1027.0 246.5h0"/>
<path stroke="#0808e6" d="M747.7 278.7h0"/>
<path stroke="#0a7d0a" d="M790.9 184.8h0"/>
<path stroke="#0808e6" d="M882.8 242.8h0M894.1 307.2h0M949.4 265.4h0"/>
<path stroke="#ee1111" d="M852.7 318.5h0M998.9 287.2h0"/>
<path stroke="#0a7d0a" d="M903.4 271.9h0"/>
<path stroke="#0808e6" d="M949.7 306.4h0"/>
<path stroke="#bf00bf" d="M917.2 296.5h0"/>
<path stroke="#ee1111" d="M931.7 288.3h0M981.2 315.7h0"/>
<path stroke="#bf00bf" d="M985.7 249.0h0"/>
<path stroke="#0808e6" d="M854.0 358.7h0"/>
<path stroke="#bf00bf" d="M1010.7 182.4h0"/>
<path stroke="#0a7d0a" d="M855.3 143.5h0"/>
<path stroke="#0808e6" d="M748.2 303.1h0"/>
<path stroke="#0a7d0a" d="M750.8 189.8h0"/>
<path stroke="#0808e6" d="M877.3 283.2h0M836.0 339.1h0M833.8 144.1h0"/>
<path stroke="#bf00bf" d="M1053.0 161.3h0"/>
<path stroke="#ee1111" d="M1020.6 264.2h0"/>
<path stroke="#0808e6" d="M960.7 409.1h0M894.2 378.6h0"/>
<path stroke="#bf00bf" d="M1035.1 192.0h0"/>
<path stroke="#0808e6" d="M756.4 326.9h0"/>
<path stroke="#0a7d0a" d="M953.9 188.1h0"/>
<path stroke="#bf00bf" d="M1062.4 312.5h0M922.8 162.3h0"/>
<path stroke="#0a7d0a" d="M789.5 321.4h0M937.3 233.9h0M800.0 116.1h0"/>
<path stroke="#bf00bf" d="M924.9 219.3h0"/>
<path stroke="#0808e6" d="M806.3 271.3h0"/>
<path stroke="#0a7d0a" d="M945.2 193.3h0"/>
<path stroke="#ee1111" d="M1056.1 348.4h0M1023.5 353.2h0"/>
<path stroke="#0a7d0a" d="M858.7 176.5h0"/>
<path stroke="#0808e6" d="M949.3 360.9h0"/>
<path stroke="#bf00bf" d="M1037.2 209.3h0"/>
<path stroke="#ee1111" d="M945.4 288.0h0"/>
<path stroke="#bf00bf" d="M999.4 205.8h0"/>
<path stroke="#0a7d0a" d="M876.9 228.6h0"/>
<path stroke="#bf00bf" d="M994.1 264.6h0"/>
<path stroke="#0a7d0a" d="M902.3 122.2h0M749.1 223.5h0M929.5 276.2h0"/>
<path stroke="#0808e6" d="M950.2 255.7h0"/>
<path stroke="#0a7d0a" d="M850.8 217.8h0M869.0 227.5h0M944.2 288.3h0"/>
<path stroke="#ee1111" d="M891.4 296.1h0"/>
<path stroke="#0a7d0a" d="M858.9 287.6h0"/>
<path stroke="#bf00bf" d="M1044.9 266.7h0"/>
<path stroke="#0808e6" d="M743.7 252.0h0"/>
<path stroke="#ee1111" d="M851.8 351.4h0"/>
<path stroke="#0808e6" d="M967.7 124.0h0"/>
<path stroke="#0a7d0a" d="M883.6 184.8h0"/>
<path stroke="#ee1111" d="M1031.0 377.9h0M956.7 321.7h0"/>
<path stroke="#bf00bf" d="M927.2 235.2h0"/>
<path stroke="#0808e6" d="M1030.0 425.2h0M853.9 351.0h0"/>
<path stroke="#ee1111" d="M1012.4 294.5h0"/>
<path stroke="#0a7d0a" d="M842.3 238.2h0"/>
<path stroke="#0808e6" d="M764.7 345.4h0"/>
<path stroke="#0a7d0a" d="M795.5 184.3h0"/>
<path stroke="#0808e6" d="M861.9 321.3h0"/>
<path stroke="#bf00bf" d="M1023.4 231.6h0"/>
<path stroke="#ee1111" d="M880.3 421.0h0"/>
<path stroke="#0a7d0a" d="M803.7 197.7h0"/>
<path stroke="#bf00bf" d="M1028.2 220.9h0"/>
<path stroke="#0808e6" d="M885.2 366.2h0"/>
<path stroke="#bf00bf" d="M1025.9 194.5h0"/>
<path stroke="#0a7d0a" d="M862.6 200.0h0"/>
<path stroke="#ee1111" d="M991.8 305.4h0"/>
<path stroke="#0a7d0a" d="M829.0 159.3h0"/>
<path stroke="#bf00bf" d="M998.5 194.2h0"/>
<path stroke="#ee1111" d="M1099.5 323.0h0M997.0 342.3h0M918.7 301.7h0"/>
<path stroke="#bf00bf" d="M1033.5 174.5h0"/>
<path stroke="#0808e6" d="M829.9 404.6h0"/>
<path stroke="#0a7d0a" d="M818.3 271.9h0"/>
<path stroke="#ee1111" d="M985.4 223.4h0M1050.3 376.8h0"/>
<path stroke="#0808e6" d="M844.1 295.3h0"/>
<path stroke="#bf00bf" d="M946.3 297.7h0M994.1 235.9h0"/>
<path stroke="#0808e6" d="M897.7 363.5h0"/>
<path stroke="#ee1111" d="M1033.5 278.9h0M977.0 332.5h0"/>
<path stroke="#0a7d0a" d="M792.1 138.2h0"/>
<path stroke="#bf00bf" d="M1023.2 127.5h0"/>
<path stroke="#0a7d0a" d="M825.8 209.4h0M896.7 201.5h0"/>
<path stroke="#bf00bf" d="M991.0 350.8h0"/>
<path stroke="#ee1111" d="M932.2 301.7h0"/>
<path stroke="#0808e6" d="M892.9 229.1h0"/>
<path stroke="#bf00bf" d="M949.2 160.8h0"/>
<path stroke="#0808e6" d="M909.7 241.5h0"/>
<path stroke="#ee1111" d="M1022.8 326.7h0"/>
<path stroke="#bf00bf" d="M1034.7 193.7h0"/>
<path stroke="#0a7d0a" d="M866.5 226.7h0"/>
<path stroke="#ee1111" d="M943.6 297.1h0M999.5 292.0h0"/>
<path stroke="#0808e6" d="M891.1 273.6h0"/>
<path stroke="#bf00bf" d="M1002.7 126.6h0"/>
<path stroke="#0808e6" d="M844.2 307.3h0M826.0 279.6h0"/>
<path stroke="#bf00bf" d="M973.3 186.1h0"/>
<path stroke="#ee1111" d="M1063.6 323.1h0"/>
<path stroke="#bf00bf" d="M1002.0 208.7h0"/>
<path stroke="#ee1111" d="M1008.9 300.3h0"/>
<path stroke="#0a7d0a" d="M956.7 160.7h0"/>
<path stroke="#0808e6" d="M810.3 339.0h0"/>
<path stroke="#bf00bf" d="M974.9 83.1h0M985.9 244.7h0"/>
<path stroke="#0a7d0a" d="M978.9 210.5h0"/>
<path stroke="#bf00bf" d="M1067.3 170.2h0"/>
<path stroke="#ee1111" d="M1057.8 389.3h0"/>
<path stroke="#0a7d0a" d="M867.8 228.8h0"/>
<path stroke="#0808e6" d="M931.9 367.2h0"/>
<path stroke="#0a7d0a" d="M851.1 147.6h0"/>
<path stroke="#bf00bf" d="M953.5 254.3h0"/>
<path stroke="#0a7d0a" d="M847.6 339.6h0"/>
<path stroke="#bf00bf" d="M982.1 249.9h0"/>
<path stroke="#0808e6" d="M932.3 333.7h0"/>
<path stroke="#ee1111" d="M941.3 271.5h0M1037.0 179.2h0"/>
<path stroke="#bf00bf" d="M1039.4 233.9h0"/>
<path stroke="#0a7d0a" d="M910.9 181.6h0M886.9 211.3h0M955.8 379.5h0"/>
<path stroke="#ee1111" d="M897.6 323.6h0"/>
<path stroke="#0a7d0a" d="M1045.1 231.3h0"/>
<path stroke="#ee1111" d="M1025.8 418.3h0M1029.0 286.0h0"/>
<path stroke="#0808e6" d="M912.9 402.4h0"/>
<path stroke="#bf00bf" d="M945.6 271.1h0"/>
<path stroke="#0808e6" d="M830.9 345.1h0"/>
<path stroke="#0a7d0a" d="M902.6 222.2h0"/>
<path stroke="#ee1111" d="M1001.2 297.7h0"/>
<path stroke="#0a7d0a" d="M982.6 199.8h0"/>
<path stroke="#0808e6" d="M786.6 414.5h0"/>
<path stroke="#0a7d0a" d="M891.1 280.7h0"/>
<path stroke="#ee1111" d="M1106.6 291.1h0"/>
<path stroke="#bf00bf" d="M976.8 244.2h0M1048.4 216.9h0"/>
<path stroke="#0808e6" d="M823.1 373.2h0"/>
<path stroke="#ee1111" d="M974.1 285.2h0"/>
<path stroke="#0808e6" d="M987.3 257.0h0"/>
<path stroke="#0a7d0a" d="M884.5 317.1h0"/>
<path stroke="#ee1111" d="M958.7 245.4h0"/>
<path stroke="#0808e6" d="M840.6 245.1h0M976.9 368.9h0"/>
<path stroke="#ee1111" d="M1031.3 231.5h0"/>
<path stroke="#0a7d0a" d="M841.8 251.9h0M829.0 186.9h0"/>
<path stroke="#bf00bf" d="M949.4 168.3h0"/>
<path stroke="#ee1111" d="M1049.5 359.1h0"/>
<path stroke="#0808e6" d="M810.3 259.6h0"/>
<path stroke="#ee1111" d="M917.1 157.6h0M1046.7 270.9h0"/>
<path stroke="#0808e6" d="M784.5 366.5h0"/>
<path stroke="#ee1111" d="M959.0 313.3h0"/>
<path stroke="#bf00bf" d="M934.4 252.3h0"/>
<path stroke="#0a7d0a" d="M959.4 234.2h0"/>
<path stroke="#ee1111" d="M1036.2 358.7h0"/>
<path stroke="#0a7d0a" d="M893.9 254.8h0"/>
<path stroke="#bf00bf" d="M1016.3 246.8h0"/>
<path stroke="#ee1111" d="M944.0 320.3h0"/>
<path stroke="#0a7d0a" d="M929.8 150.1h0"/>
<path stroke="#bf00bf" d="M1021.5 211.0h0"/>
<path stroke="#0a7d0a" d="M798.1 212.3h0"/>
<path stroke="#0808e6" d="M845.9 325.6h0"/>
<path stroke="#0a7d0a" d="M767.6 138.1h0"/>
<path stroke="#0808e6" d="M827.3 242.5h0"/>
<path stroke="#bf00bf" d="M1005.7 190.6h0"/>
<path stroke="#0808e6" d="M833.5 211.4h0"/>
<path stroke="#ee1111" d="M978.9 360.3h0M981.1 345.7h0"/>
<path stroke="#0a7d0a" d="M857.5 257.8h0"/>
<path stroke="#ee1111" d="M1037.5 293.0h0"/>
<path stroke="#0a7d0a" d="M777.9 181.1h0"/>
<path stroke="#bf00bf" d="M1031.6 148.1h0"/>
<path stroke="#0a7d0a" d="M823.7 97.1h0"/>
<path stroke="#0808e6" d="M908.3 361.4h0M777.6 234.2h0M890.8 403.9h0M820.0 388.8h0"/>
<path stroke="#0a7d0a" d="M849.5 243.0h0M848.4 223.2h0"/>
<path stroke="#ee1111" d="M1087.2 306.2h0"/>
<path stroke="#0a7d0a" d="M875.3 223.4h0M912.7 170.0h0"/>
<path stroke="#bf00bf" d="M1087.6 235.4h0"/>
<path stroke="#0a7d0a" d="M810.6 246.3h0"/>
<path stroke="#0808e6" d="M882.8 235.0h0"/>
<path stroke="#bf00bf" d="M1034.7 155.9h0"/>
<path stroke="#0a7d0a" d="M892.3 105.9h0M877.6 122.8h0M843.6 188.8h0M911.4 272.6h0"/>
<path stroke="#bf00bf" d="M987.7 168.6h0"/>
<path stroke="#0a7d0a" d="M860.9 203.7h0"/>
<path stroke="#bf00bf" d="M975.5 251.2h0"/>
<path stroke="#0808e6" d="M840.4 226.8h0"/>
<path stroke="#bf00bf" d="M876.5 268.1h0"/>
<path stroke="#0a7d0a" d="M882.1 232.7h0"/>
<path stroke="#bf00bf" d="M843.4 381.9h0"/>
<path stroke="#ee1111" d="M1105.8 301.5h0"/>
<path stroke="#bf00bf" d="M1091.0 117.7h0"/>
<path stroke="#0808e6" d="M858.8 369.9h0M820.1 417.4h0"/>
<path stroke="#0a7d0a" d="M901.0 158.9h0M823.7 148.1h0"/>
<path stroke="#bf00bf" d="M1033.0 217.2h0M1052.5 171.8h0"/>
<path stroke="#0a7d0a" d="M871.1 231.1h0"/>
<path stroke="#0808e6" d="M787.1 254.9h0"/>
<path stroke="#ee1111" d="M1056.2 208.3h0"/>
<path stroke="#bf00bf" d="M982.4 242.8h0"/>
<path stroke="#0808e6" d="M975.4 310.6h0"/>
<path stroke="#0a7d0a" d="M883.0 215.5h0"/>
<path stroke="#ee1111" d="M1014.8 275.8h0"/>
<path stroke="#bf00bf" d="M997.7 280.0h0"/>
<path stroke="#0808e6" d="M819.2 379.4h0"/>
<path stroke="#0a7d0a" d="M812.4 149.9h0"/>
<path stroke="#0808e6" d="M1030.6 315.7h0"/>
<path stroke="#0a7d0a" d="M825.1 214.7h0"/>
<path stroke="#ee1111" d="M989.3 289.0h0"/>
<path stroke="#bf00bf" d="M931.2 168.5h0M974.3 127.7h0"/>
<path stroke="#0a7d0a" d="M917.1 206.5h0"/>
<path stroke="#0808e6" d="M901.9 300.3h0"/>
<path stroke="#ee1111" d="M1001.8 308.6h0"/>
<path stroke="#0808e6" d="M807.5 414.0h0"/>
<path stroke="#ee1111" d="M931.9 325.0h0"/>
<path stroke="#bf00bf" d="M963.3 194.9h0M1041.7 217.9h0M1023.2 204.0h0"/>
<path stroke="#ee1111" d="M971.6 312.0h0"/>
<path stroke="#0a7d0a" d="M772.5 198.2h0"/>
<path stroke="#bf00bf" d="M1016.3 175.0h0M1104.1 264.0h0"/>
<path stroke="#0a7d0a" d="M1034.7 196.8h0"/>
<path stroke="#bf00bf" d="M1026.9 141.0h0"/>
<path stroke="#0a7d0a" d="M916.0 219.9h0M820.1 268.8h0"/>
<path stroke="#bf00bf" d="M1050.9 118.2h0M954.1 176.5h0"/>
<path stroke="#0a7d0a" d="M867.4 143.1h0"/>
<path stroke="#bf00bf" d="M1054.4 199.2h0M1099.3 257.4h0"/>
<path stroke="#0a7d0a" d="M968.8 220.8h0"/>
<path stroke="#ee1111" d="M909.1 340.3h0"/>
<path stroke="#0808e6" d="M809.2 362.0h0"/>
<path stroke="#bf00bf" d="M982.3 105.9h0M1036.0 153.2h0"/>
<path stroke="#ee1111" d="M902.3 421.0h0M964.3 307.3h0"/>
<path stroke="#bf00bf" d="M992.2 277.2h0"/>
<path stroke="#ee1111" d="M993.7 275.2h0"/>
<path stroke="#0808e6" d="M971.2 366.3h0"/>
<path stroke="#bf00bf" d="M1031.4 164.4h0"/>
<path stroke="#0a7d0a" d="M842.9 191.8h0"/>
<path stroke="#ee1111" d="M972.9 429.8h0"/>
<path stroke="#bf00bf" d="M881.4 308.9h0"/>
<path stroke="#0808e6" d="M1024.0 152.0h0"/>
<path stroke="#bf00bf" d="M1029.9 164.3h0"/>
<path stroke="#0a7d0a" d="M828.1 302.5h0"/>
<path stroke="#bf00bf" d="M986.8 290.2h0"/>
<path stroke="#ee1111" d="M955.4 292.5h0"/>
<path stroke="#0808e6" d="M815.4 311.9h0"/>
<path stroke="#0a7d0a" d="M921.0 244.3h0M951.7 223.3h0"/>
<path stroke="#ee1111" d="M1087.3 387.7h0"/>
<path stroke="#0a7d0a" d="M938.7 397.6h0"/>
<path stroke="#ee1111" d="M1063.3 379.6h0"/>
<path stroke="#bf00bf" d="M933.0 251.3h0"/>
<path stroke="#0808e6" d="M1003.5 372.9h0"/>
<path stroke="#0a7d0a" d="M862.5 251.6h0"/>
<path stroke="#bf00bf" d="M1069.9 113.9h0M1065.6 251.4h0"/>
<path stroke="#0a7d0a" d="M779.5 109.3h0"/>
<path stroke="#0808e6" d="M843.0 331.6h0M811.2 430.1h0"/>
<path stroke="#0a7d0a" d="M919.1 210.2h0"/>
<path stroke="#0808e6" d="M868.0 296.2h0M905.4 281.7h0M817.7 229.5h0"/>
<path stroke="#bf00bf" d="M1027.6 130.0h0"/>
<path stroke="#0808e6" d="M894.7 374.3h0M911.5 415.5h0"/>
<path stroke="#0a7d0a" d="M803.8 222.5h0"/>
<path stroke="#ee1111" d="M1076.4 305.1h0"/>
<path stroke="#0a7d0a" d="M1009.7 227.0h0"/>
<path stroke="#0808e6" d="M918.6 191.5h0M779.3 167.9h0"/>
<path stroke="#ee1111" d="M1009.6 391.1h0M949.5 268.2h0M1027.0 342.6h0"/>
<path stroke="#0808e6" d="M890.4 260.6h0"/>
<path stroke="#bf00bf" d="M1028.2 277.7h0"/>
<path stroke="#0a7d0a" d="M916.2 209.0h0M754.4 94.0h0"/>
<path stroke="#ee1111" d="M943.0 298.4h0"/>
<path stroke="#0a7d0a" d="M857.4 242.1h0"/>
<path stroke="#0808e6" d="M924.5 198.9h0"/>
<path stroke="#bf00bf" d="M1023.5 241.0h0"/>
<path stroke="#0808e6" d="M762.9 327.6h0"/>
<path stroke="#ee1111" d="M930.7 302.3h0"/>
<path stroke="#0808e6" d="M804.5 344.3h0M826.7 385.2h0"/>
<path stroke="#bf00bf" d="M1056.2 237.5h0"/>
<path stroke="#ee1111" d="M1111.7 344.2h0M1075.0 308.4h0"/>
<path stroke="#bf00bf" d="M1047.2 207.1h0"/>
<path stroke="#0a7d0a" d="M852.0 264.9h0M890.8 201.1h0"/>
<path stroke="#ee1111" d="M896.3 307.2h0"/>
<path stroke="#0a7d0a" d="M857.0 204.8h0"/>
<path stroke="#bf00bf" d="M1006.4 192.9h0"/>
<path stroke="#0a7d0a" d="M855.9 125.6h0"/>
<path stroke="#bf00bf" d="M1026.2 128.9h0"/>
<path stroke="#0a7d0a" d="M954.4 152.2h0"/>
<path stroke="#0808e6" d="M820.7 280.4h0"/>
<path stroke="#0a7d0a" d="M877.1 152.9h0"/>
<path stroke="#bf00bf" d="M1023.0 131.3h0"/>
<path stroke="#0808e6" d="M835.4 253.2h0"/>
<path stroke="#bf00bf" d="M1071.5 252.3h0"/>
<path stroke="#ee1111" d="M991.1 390.6h0"/>
<path stroke="#0a7d0a" d="M759.8 279.0h0"/>
<path stroke="#bf00bf" d="M1030.2 334.7h0"/>
<path stroke="#0a7d0a" d="M891.1 250.5h0"/>
<path stroke="#ee1111" d="M970.6 157.6h0"/>
<path stroke="#bf00bf" d="M1013.2 175.1h0"/>
<path stroke="#0808e6" d="M830.0 385.8h0M808.2 285.8h0"/>
<path stroke="#ee1111" d="M994.6 318.2h0"/>
<path stroke="#0808e6" d="M971.7 206.2h0"/>
<path stroke="#0a7d0a" d="M827.8 143.1h0M819.5 193.9h0"/>
<path stroke="#bf00bf" d="M1055.7 117.3h0"/>
<path stroke="#0808e6" d="M893.2 190.3h0"/>
<path stroke="#0a7d0a" d="M782.9 354.5h0"/>
<path stroke="#bf00bf" d="M1033.1 187.9h0"/>
<path stroke="#0808e6" d="M943.0 281.4h0"/>
<path stroke="#bf00bf" d="M1017.8 285.6h0"/>
<path stroke="#0808e6" d="M863.8 159.6h0"/>
<path stroke="#ee1111" d="M1078.3 299.3h0M1050.2 229.4h0"/>
<path stroke="#0a7d0a" d="M967.4 407.2h0"/>
<path stroke="#0808e6" d="M971.1 358.1h0"/>
<path stroke="#bf00bf" d="M1033.9 292.4h0M1018.9 166.5h0"/>
<path stroke="#0a7d0a" d="M943.9 235.9h0"/>
<path stroke="#0808e6" d="M935.9 377.7h0"/>
<path stroke="#bf00bf" d="M1030.8 223.0h0"/>
<path stroke="#0a7d0a" d="M788.0 164.1h0"/>
<path stroke="#0808e6" d="M956.5 347.4h0M862.9 281.7h0"/>
<path stroke="#ee1111" d="M1015.0 294.0h0M892.4 370.1h0M1017.6 221.4h0"/>
<path stroke="#0a7d0a" d="M904.8 179.6h0"/>
<path stroke="#0808e6" d="M843.3 400.4h0"/>
<path stroke="#0a7d0a" d="M844.8 293.5h0"/>
<path stroke="#0808e6" d="M901.2 384.9h0M826.0 365.2h0M865.6 398.7h0"/>
<path stroke="#0a7d0a" d="M843.2 127.3h0"/>
<path stroke="#0808e6" d="M787.4 352.0h0"/>
<path stroke="#0a7d0a" d="M851.3 247.5h0"/>
<path stroke="#bf00bf" d="M918.7 240.7h0"/>
<path stroke="#0a7d0a" d="M764.5 187.4h0"/>
<path stroke="#0808e6" d="M823.9 305.6h0M898.9 399.4h0"/>
<path stroke="#0a7d0a" d="M899.2 228.3h0"/>
<path stroke="#0808e6" d="M880.5 328.6h0"/>
<path stroke="#0a7d0a" d="M877.5 102.9h0"/>
<path stroke="#0808e6" d="M1033.0 337.6h0"/>
<path stroke="#ee1111" d="M1057.1 365.0h0M1033.5 261.5h0M979.8 349.4h0M937.9 282.4h0"/>
<path stroke="#bf00bf" d="M927.3 140.9h0"/>
<path stroke="#ee1111" d="M979.6 186.9h0M1020.3 232.9h0"/>
<path stroke="#bf00bf" d="M1002.5 182.5h0"/>
<path stroke="#0a7d0a" d="M817.1 146.7h0"/>
<path stroke="#0808e6" d="M803.9 415.3h0"/>
<path stroke="#ee1111" d="M1079.1 327.3h0"/>
<path stroke="#bf00bf" d="M1010.8 230.9h0"/>
<path stroke="#0a7d0a" d="M905.7 192.2h0M817.8 197.0h0"/>
<path stroke="#0808e6" d="M767.9 399.9h0M912.7 403.9h0"/>
<path stroke="#bf00bf" d="M1055.2 194.7h0"/>
<path stroke="#0808e6" d="M839.6 351.7h0"/>
<path stroke="#0a7d0a" d="M954.0 212.8h0M813.8 193.1h0"/>
<path stroke="#0808e6" d="M840.6 273.0h0"/>
<path stroke="#ee1111" d="M1001.4 407.8h0"/>
<path stroke="#0808e6" d="M805.0 392.8h0M1050.6 325.4h0"/>
<path stroke="#bf00bf" d="M994.9 143.3h0"/>
<path stroke="#0808e6" d="M903.3 385.1h0"/>
<path stroke="#0a7d0a" d="M748.1 234.2h0"/>
<path stroke="#0808e6" d="M848.4 371.8h0"/>
<path stroke="#bf00bf" d="M1002.1 290.0h0"/>
<path stroke="#ee1111" d="M1041.9 375.5h0"/>
<path stroke="#0808e6" d="M871.8 330.6h0"/>
<path stroke="#ee1111" d="M952.3 287.0h0"/>
<path stroke="#0808e6" d="M862.4 293.0h0"/>
<path stroke="#bf00bf" d="M1013.8 225.0h0"/>
<path stroke="#0808e6" d="M882.1 305.1h0"/>
<path stroke="#0a7d0a" d="M896.2 246.9h0"/>
<path stroke="#bf00bf" d="M904.4 284.1h0"/>
<path stroke="#0a7d0a" d="M743.7 213.9h0M856.9 154.7h0"/>
<path stroke="#ee1111" d="M956.1 374.7h0"/>
<path stroke="#bf00bf" d="M1079.9 232.7h0M1052.5 167.7h0"/>
<path stroke="#0a7d0a" d="M871.4 261.3h0"/>
<path stroke="#bf00bf" d="M964.6 171.1h0M928.3 147.3h0"/>
<path stroke="#0808e6" d="M783.5 260.5h0"/>
<path stroke="#0a7d0a" d="M786.5 163.5h0"/>
<path stroke="#0808e6" d="M785.7 306.1h0"/>
<path stroke="#bf00bf" d="M1052.9 148.6h0"/>
<path stroke="#0a7d0a" d="M911.8 244.2h0"/>
<path stroke="#0808e6" d="M952.3 201.6h0M906.8 344.3h0"/>
<path stroke="#ee1111" d="M1025.1 368.1h0"/>
<path stroke="#bf00bf" d="M957.7 253.5h0M984.4 261.1h0"/>
<path stroke="#0808e6" d="M827.3 375.9h0"/>
<path stroke="#ee1111" d="M994.9 307.6h0"/>
<path stroke="#0808e6" d="M900.5 338.7h0M749.8 392.9h0"/>
<path stroke="#ee1111" d="M915.5 296.4h0"/>
<path stroke="#bf00bf" d="M1007.8 131.4h0"/>
<path stroke="#0a7d0a" d="M820.8 229.5h0"/>
<path stroke="#ee1111" d="M999.4 340.8h0"/>
<path stroke="#bf00bf" d="M934.9 300.5h0M1004.8 155.9h0M1006.9 115.1h0"/>
<path stroke="#ee1111" d="M1042.9 368.3h0"/>
<path stroke="#bf00bf" d="M897.7 315.6h0"/>
<path stroke="#0808e6" d="M861.3 360.2h0M790.5 321.5h0"/>
<path stroke="#ee1111" d="M1039.5 339.4h0M916.5 291.8h0"/>
<path stroke="#0a7d0a" d="M853.6 184.6h0"/>
<path stroke="#0808e6" d="M762.6 405.9h0"/>
<path stroke="#bf00bf" d="M976.4 206.5h0M942.2 189.8h0M984.6 195.4h0"/>
<path stroke="#ee1111" d="M986.5 321.9h0"/>
<path stroke="#bf00bf" d="M1053.0 107.9h0"/>
<path stroke="#0808e6" d="M772.5 291.2h0"/>
<path stroke="#bf00bf" d="M938.0 199.2h0M1106.4 257.9h0"/>
<path stroke="#ee1111" d="M1006.2 233.6h0"/>
<path stroke="#0a7d0a" d="M844.6 113.3h0"/>
<path stroke="#0808e6" d="M937.6 370.9h0M1021.2 371.3h0"/>
<path stroke="#ee1111" d="M1069.5 327.5h0M985.5 251.5h0"/>
<path stroke="#0808e6" d="M897.0 300.7h0"/>
<path stroke="#ee1111" d="M953.0 330.4h0"/>
<path stroke="#bf00bf" d="M988.1 248.3h0"/>
<path stroke="#0808e6" d="M875.2 223.7h0"/>
<path stroke="#ee1111" d="M1044.2 248.1h0"/>
<path stroke="#0a7d0a" d="M873.9 93.8h0"/>
<path stroke="#ee1111" d="M1056.3 332.0h0"/>
<path stroke="#0808e6" d="M782.7 332.8h0"/>
<path stroke="#ee1111" d="M984.9 226.0h0"/>
<path stroke="#0808e6" d="M1004.9 231.1h0"/>
<path stroke="#0a7d0a" d="M925.4 251.8h0"/>
<path stroke="#bf00bf" d="M964.7 179.9h0M1098.3 193.6h0"/>
<path stroke="#0808e6" d="M784.6 328.8h0"/>
<path stroke="#0a7d0a" d="M824.2 142.6h0"/>
<path stroke="#ee1111" d="M1033.5 250.4h0"/>
<path stroke="#0a7d0a" d="M811.6 212.6h0"/>
<path stroke="#bf00bf" d="M1078.6 245.3h0"/>
<path stroke="#ee1111" d="M959.6 320.2h0"/>
<path stroke="#0a7d0a" d="M819.9 205.5h0"/>
<path stroke="#0808e6" d="M793.0 354.0h0M857.4 130.6h0M837.5 378.9h0"/>
<path stroke="#bf00bf" d="M919.6 131.9h0M1005.1 242.5h0"/>
<path stroke="#0a7d0a" d="M937.8 158.3h0"/>
<path stroke="#bf00bf" d="M930.5 86.3h0M1061.7 212.9h0"/>
<path stroke="#ee1111" d="M969.5 274.7h0"/>
<path stroke="#bf00bf" d="M1013.2 240.9h0"/>
<path stroke="#0808e6" d="M854.1 364.7h0"/>
<path stroke="#0a7d0a" d="M942.9 227.9h0"/>
<path stroke="#ee1111" d="M982.7 380.8h0"/>
<path stroke="#0a7d0a" d="M809.0 171.1h0"/>
<path stroke="#bf00bf" d="M825.5 159.3h0"/>
<path stroke="#ee1111" d="M998.9 340.8h0"/>
<path stroke="#0a7d0a" d="M904.9 143.8h0"/>
<path stroke="#bf00bf" d="M965.4 307.5h0M1053.2 98.0h0"/>
<path stroke="#0a7d0a" d="M823.1 256.3h0"/>
<path stroke="#bf00bf" d="M1036.9 296.1h0M983.9 130.5h0"/>
<path stroke="#ee1111" d="M1021.8 347.8h0"/>
<path stroke="#0a7d0a" d="M872.5 80.0h0"/>
<path stroke="#0808e6" d="M785.1 279.2h0M848.2 304.3h0"/>
<path stroke="#ee1111" d="M978.1 317.8h0"/>
<path stroke="#bf00bf" d="M940.8 126.2h0"/>
<path stroke="#ee1111" d="M961.6 308.4h0M1107.1 196.6h0M999.4 341.1h0M955.3 345.5h0"/>
<path stroke="#bf00bf" d="M1028.1 202.7h0"/>
<path stroke="#0a7d0a" d="M844.1 286.4h0"/>
<path stroke="#ee1111" d="M1056.0 230.4h0"/>
<path stroke="#0a7d0a" d="M897.6 305.3h0M878.9 114.3h0"/>
<path stroke="#ee1111" d="M854.9 400.3h0"/>
<path stroke="#0a7d0a" d="M775.2 231.9h0M879.6 215.2h0"/>
<path stroke="#bf00bf" d="M915.2 242.8h0M919.8 316.2h0"/>
<path stroke="#ee1111" d="M1030.1 348.1h0"/>
<path stroke="#0a7d0a" d="M796.6 156.4h0"/>
<path stroke="#bf00bf" d="M896.7 221.1h0"/>
<path stroke="#0808e6" d="M800.2 369.2h0M802.7 404.1h0"/>
<path stroke="#bf00bf" d="M943.7 236.9h0"/>
<path stroke="#0a7d0a" d="M846.7 202.5h0"/>
<path stroke="#bf00bf" d="M1028.5 198.4h0M962.6 315.2h0"/>
<path stroke="#0808e6" d="M997.1 315.7h0"/>
<path stroke="#0a7d0a" d="M830.8 275.5h0M911.9 222.4h0M856.4 170.3h0M857.5 87.8h0"/>
<path stroke="#0808e6" d="M874.1 395.0h0"/>
<path stroke="#0a7d0a" d="M914.3 255.5h0"/>
<path stroke="#0808e6" d="M840.7 387.7h0"/>
<path stroke="#bf00bf" d="M1069.1 273.1h0"/>
<path stroke="#0808e6" d="M813.8 333.5h0"/>
<path stroke="#ee1111" d="M979.4 258.3h0"/>
<path stroke="#0a7d0a" d="M814.7 218.3h0"/>
<path stroke="#bf00bf" d="M1020.2 219.9h0M1033.2 215.7h0"/>
<path stroke="#0a7d0a" d="M845.9 288.4h0M886.2 235.0h0"/>
<path stroke="#bf00bf" d="M880.2 331.0h0M1103.1 190.4h0"/>
<path stroke="#0a7d0a" d="M821.7 144.5h0M918.5 217.5h0"/>
<path stroke="#bf00bf" d="M849.4 221.7h0"/>
<path stroke="#0808e6" d="M866.0 263.3h0M954.5 393.0h0"/>
<path stroke="#0a7d0a" d="M900.8 274.2h0"/>
<path stroke="#0808e6" d="M887.5 266.5h0"/>
<path stroke="#bf00bf" d="M892.9 251.8h0M882.7 183.0h0"/>
<path stroke="#0a7d0a" d="M772.6 187.5h0M812.1 175.8h0"/>
<path stroke="#bf00bf" d="M943.2 200.5h0M1005.8 220.2h0M1069.5 322.0h0"/>
<path stroke="#0808e6" d="M811.6 373.5h0"/>
<path stroke="#ee1111" d="M1072.8 267.3h0"/>
<path stroke="#bf00bf" d="M1043.2 183.3h0"/>
<path stroke="#0a7d0a" d="M856.3 218.5h0"/>
<path stroke="#0808e6" d="M804.8 370.4h0"/>
<path stroke="#ee1111" d="M984.1 330.2h0"/>
<path stroke="#0a7d0a" d="M850.8 191.3h0"/>
<path stroke="#ee1111" d="M1113.3 241.0h0"/>
<path stroke="#bf00bf" d="M908.6 220.9h0"/>
<path stroke="#0a7d0a" d="M902.3 214.3h0"/>
<path stroke="#0808e6" d="M1034.7 360.1h0"/>
<path stroke="#0a7d0a" d="M891.7 177.0h0"/>
<path stroke="#0808e6" d="M753.2 313.8h0"/>
<path stroke="#bf00bf" d="M1073.5 269.4h0"/>
<path stroke="#ee1111" d="M1046.6 237.9h0"/>
<path stroke="#0808e6" d="M868.5 334.6h0"/>
<path stroke="#bf00bf" d="M1066.4 159.7h0"/>
<path stroke="#0a7d0a" d="M961.8 212.8h0"/>
<path stroke="#bf00bf" d="M932.0 193.2h0"/>
<path stroke="#ee1111" d="M1026.4 384.6h0"/>
<path stroke="#0808e6" d="M819.2 317.3h0"/>
<path stroke="#ee1111" d="M1013.3 348.7h0"/>
<path stroke="#0808e6" d="M885.3 362.1h0"/>
<path stroke="#ee1111" d="M1009.7 293.2h0"/>
<path stroke="#0808e6" d="M792.2 411.9h0M842.0 334.1h0"/>
<path stroke="#0a7d0a" d="M925.2 202.5h0M836.8 133.6h0M792.1 245.2h0"/>
<path stroke="#ee1111" d="M1082.2 385.7h0"/>
<path stroke="#bf00bf" d="M1051.9 142.0h0"/>
<path stroke="#ee1111" d="M967.3 298.8h0M928.6 311.4h0"/>
<path stroke="#0808e6" d="M925.4 299.9h0M794.3 307.6h0"/>
<path stroke="#0a7d0a" d="M814.7 278.9h0M865.6 307.8h0"/>
<path stroke="#bf00bf" d="M1017.0 118.8h0M821.2 219.6h0"/>
<path stroke="#0808e6" d="M928.6 398.2h0"/>
<path stroke="#0a7d0a" d="M892.4 113.8h0"/>
<path stroke="#ee1111" d="M971.3 351.6h0"/>
<path stroke="#bf00bf" d="M1055.7 161.8h0"/>
<path stroke="#0808e6" d="M771.4 400.3h0"/>
<path stroke="#ee1111" d="M953.3 397.4h0"/>
<path stroke="#0a7d0a" d="M844.0 273.8h0"/>
<path stroke="#ee1111" d="M951.8 361.3h0"/>
<path stroke="#bf00bf" d="M942.7 194.7h0"/>
<path stroke="#0808e6" d="M903.9 364.3h0"/>
<path stroke="#bf00bf" d="M917.0 259.8h0"/>
<path stroke="#0a7d0a" d="M940.3 264.9h0"/>
<path stroke="#ee1111" d="M982.3 361.2h0"/>
<path stroke="#0a7d0a" d="M925.5 209.7h0"/>
<path stroke="#bf00bf" d="M916.1 182.7h0"/>
<path stroke="#0a7d0a" d="M845.7 376.9h0"/>
<path stroke="#bf00bf" d="M894.2 146.8h0"/>
<path stroke="#ee1111" d="M1056.5 309.3h0"/>
<path stroke="#bf00bf" d="M998.7 227.1h0"/>
<path stroke="#0a7d0a" d="M820.0 217.7h0"/>
<path stroke="#bf00bf" d="M973.7 154.6h0"/>
<path stroke="#0808e6" d="M870.2 409.2h0"/>
<path stroke="#0a7d0a" d="M942.7 214.0h0"/>
<path stroke="#0808e6" d="M827.3 273.8h0"/>
<path stroke="#0a7d0a" d="M882.7 244.0h0"/>
<path stroke="#0808e6" d="M812.0 277.1h0M855.0 330.4h0M974.5 401.3h0"/>
<path stroke="#0a7d0a" d="M905.8 154.7h0"/>
<path stroke="#0808e6" d="M963.7 378.8h0M885.1 342.1h0"/>
<path stroke="#bf00bf" d="M908.8 426.8h0M903.7 250.7h0"/>
<path stroke="#0808e6" d="M860.7 307.5h0"/>
<path stroke="#bf00bf" d="M967.9 214.4h0M1045.8 207.1h0"/>
<path stroke="#0808e6" d="M890.3 333.7h0"/>
<path stroke="#bf00bf" d="M1018.5 136.3h0"/>
<path stroke="#0a7d0a" d="M872.2 210.4h0"/>
<path stroke="#ee1111" d="M997.6 321.3h0"/>
<path stroke="#bf00bf" d="M1016.1 215.2h0"/>
<path stroke="#0808e6" d="M804.7 213.5h0M839.0 332.2h0M749.8 343.7h0"/>
<path stroke="#ee1111" d="M991.4 297.3h0M1057.7 299.3h0M1024.5 369.6h0"/>
<path stroke="#bf00bf" d="M959.8 139.9h0"/>
<path stroke="#0a7d0a" d="M807.6 146.4h0"/>
<path stroke="#0808e6" d="M833.0 364.6h0M912.1 202.4h0M1019.2 267.4h0"/>
<path stroke="#0a7d0a" d="M834.2 246.5h0"/>
<path stroke="#0808e6" d="M839.7 333.4h0"/>
<path stroke="#ee1111" d="M962.7 288.7h0"/>
<path stroke="#0808e6" d="M837.4 378.0h0M896.0 352.7h0"/>
<path stroke="#0a7d0a" d="M916.4 297.4h0M759.6 189.3h0"/>
<path stroke="#bf00bf" d="M1108.8 156.8h0"/>
<path stroke="#0a7d0a" d="M957.6 247.8h0"/>
<path stroke="#ee1111" d="M1070.4 339.7h0"/>
<path stroke="#0808e6" d="M805.0 367.2h0M832.5 363.3h0M902.0 356.4h0"/>
<path stroke="#bf00bf" d="M976.0 168.2h0M1077.8 241.6h0"/>
<path stroke="#0a7d0a" d="M878.5 195.1h0"/>
<path stroke="#0808e6" d="M836.0 337.3h0M844.6 409.2h0"/>
<path stroke="#bf00bf" d="M935.4 230.3h0M1015.5 140.9h0M1049.2 114.5h0"/>
<path stroke="#0808e6" d="M815.8 355.0h0M801.5 385.7h0"/>
<path stroke="#ee1111" d="M986.7 422.7h0"/>
<path stroke="#0808e6" d="M902.6 321.1h0"/>
<path stroke="#0a7d0a" d="M816.4 292.8h0M908.2 155.7h0"/>
<path stroke="#0808e6" d="M901.7 194.2h0"/>
<path stroke="#0a7d0a" d="M900.6 203.0h0"/>
<path stroke="#ee1111" d="M803.5 239.0h0"/>
<path stroke="#0a7d0a" d="M907.9 134.8h0"/>
<path stroke="#bf00bf" d="M1096.0 224.4h0"/>
<path stroke="#0a7d0a" d="M942.5 300.4h0"/>
<path stroke="#ee1111" d="M1044.9 387.6h0M948.9 331.9h0"/>
<path stroke="#0808e6" d="M865.1 281.9h0"/>
<path stroke="#0a7d0a" d="M884.2 237.0h0"/>
<path stroke="#ee1111" d="M979.0 141.3h0M998.9 408.0h0M968.6 397.7h0"/>
<path stroke="#0808e6" d="M869.7 239.6h0"/>
<path stroke="#0a7d0a" d="M778.4 212.7h0"/>
<path stroke="#bf00bf" d="M992.9 269.0h0M954.3 225.2h0"/>
<path stroke="#0808e6" d="M835.0 367.2h0"/>
<path stroke="#bf00bf" d="M899.8 185.3h0"/>
<path stroke="#ee1111" d="M969.0 337.7h0"/>
<path stroke="#0808e6" d="M954.2 298.4h0M808.3 414.8h0"/>
<path stroke="#bf00bf" d="M901.7 257.3h0"/>
<path stroke="#0a7d0a" d="M863.4 189.3h0"/>
<path stroke="#ee1111" d="M995.9 352.8h0"/>
<path stroke="#bf00bf" d="M910.9 191.9h0"/>
<path stroke="#0a7d0a" d="M925.8 165.7h0"/>
<path stroke="#ee1111" d="M955.0 359.5h0M1098.9 299.5h0M909.3 309.9h0"/>
<path stroke="#0a7d0a" d="M917.1 152.3h0"/>
<path stroke="#bf00bf" d="M945.6 157.5h0"/>
<path stroke="#ee1111" d="M982.7 377.3h0M1042.8 295.9h0"/>
<path stroke="#0808e6" d="M915.9 226.1h0"/>
<path stroke="#0a7d0a" d="M893.1 217.6h0"/>
<path stroke="#ee1111" d="M933.5 290.7h0"/>
<path stroke="#bf00bf" d="M966.5 229.3h0"/>
<path stroke="#0a7d0a" d="M901.8 261.2h0M919.1 296.7h0"/>
<path stroke="#0808e6" d="M882.2 311.6h0"/>
<path stroke="#ee1111" d="M898.0 357.0h0M1053.0 294.8h0"/>
<path stroke="#0a7d0a" d="M932.3 178.5h0"/>
<path stroke="#bf00bf" d="M981.9 253.9h0M1104.1 346.4h0"/>
<path stroke="#ee1111" d="M977.1 300.3h0"/>
<path stroke="#0a7d0a" d="M798.3 267.2h0"/>
<path stroke="#ee1111" d="M962.4 267.2h0"/>
<path stroke="#0a7d0a" d="M867.0 228.9h0"/>
<path stroke="#bf00bf" d="M1015.0 313.7h0M1046.2 329.0h0"/>
<path stroke="#0808e6" d="M763.5 355.9h0"/>
<path stroke="#0a7d0a" d="M876.3 173.0h0"/>
<path stroke="#bf00bf" d="M906.4 154.3h0M1097.4 150.2h0M767.2 285.5h0"/>
<path stroke="#ee1111" d="M1006.5 437.1h0"/>
<path stroke="#bf00bf" d="M983.1 250.6h0"/>
<path stroke="#0808e6" d="M837.9 269.7h0"/>
<path stroke="#bf00bf" d="M925.7 139.7h0M1011.5 96.4h0"/>
<path stroke="#0a7d0a" d="M830.1 184.9h0"/>
<path stroke="#bf00bf" d="M1041.0 335.8h0"/>
<path stroke="#0808e6" d="M848.7 327.7h0"/>
<path stroke="#bf00bf" d="M1013.0 297.3h0M954.9 230.4h0"/>
<path stroke="#ee1111" d="M965.3 417.8h0M1000.1 329.5h0"/>
<path stroke="#0808e6" d="M866.2 235.0h0"/>
<path stroke="#0a7d0a" d="M821.9 149.0h0M792.6 130.8h0"/>
<path stroke="#bf00bf" d="M1032.5 105.5h0"/>
<path stroke="#ee1111" d="M994.2 341.0h0"/>
<path stroke="#0808e6" d="M1005.8 328.0h0M833.4 222.5h0"/>
<path stroke="#0a7d0a" d="M800.7 240.2h0"/>
<path stroke="#bf00bf" d="M870.7 172.2h0M913.5 193.7h0"/>
<path stroke="#0808e6" d="M879.8 358.1h0"/>
<path stroke="#0a7d0a" d="M901.1 205.3h0M871.5 293.2h0"/>
<path stroke="#bf00bf" d="M960.7 371.2h0"/>
<path stroke="#0808e6" d="M779.1 363.7h0M904.5 332.2h0"/>
<path stroke="#0a7d0a" d="M885.7 235.9h0"/>
<path stroke="#bf00bf" d="M1018.7 276.6h0"/>
<path stroke="#0808e6" d="M823.5 230.0h0"/>
<path stroke="#bf00bf" d="M1054.1 282.9h0"/>
<path stroke="#0a7d0a" d="M917.1 106.9h0"/>
<path stroke="#bf00bf" d="M1045.6 321.7h0"/>
<path stroke="#ee1111" d="M990.4 298.8h0"/>
<path stroke="#0a7d0a" d="M767.5 221.5h0"/>
<path stroke="#ee1111" d="M1022.6 294.8h0"/>
<path stroke="#0808e6" d="M977.3 358.4h0"/>
<path stroke="#ee1111" d="M1085.9 293.5h0"/>
<path stroke="#bf00bf" d="M1015.9 172.8h0M1038.1 86.7h0"/>
<path stroke="#0a7d0a" d="M858.7 182.7h0M967.6 296.0h0"/>
<path stroke="#bf00bf" d="M961.1 110.0h0"/>
<path stroke="#0808e6" d="M883.7 266.1h0M899.3 348.5h0"/>
<path stroke="#bf00bf" d="M994.3 189.0h0"/>
<path stroke="#0a7d0a" d="M826.6 388.2h0"/>
<path stroke="#bf00bf" d="M917.8 348.3h0"/>
<path stroke="#0a7d0a" d="M889.1 187.2h0"/>
<path stroke="#0808e6" d="M930.9 359.9h0"/>
<path stroke="#ee1111" d="M1062.6 417.5h0M1010.8 380.0h0"/>
<path stroke="#0a7d0a" d="M831.3 124.9h0M839.0 232.8h0M875.3 129.7h0"/>
<path stroke="#bf00bf" d="M985.1 213.6h0M997.0 193.3h0"/>
<path stroke="#0a7d0a" d="M870.8 241.9h0"/>
<path stroke="#bf00bf" d="M1036.7 311.7h0"/>
<path stroke="#0a7d0a" d="M930.7 251.0h0M903.8 297.8h0"/>
<path stroke="#0808e6" d="M818.6 375.9h0"/>
<path stroke="#0a7d0a" d="M799.3 128.1h0M839.3 218.5h0"/>
<path stroke="#bf00bf" d="M956.7 261.2h0"/>
<path stroke="#0a7d0a" d="M892.1 207.3h0M761.5 276.0h0"/>
<path stroke="#ee1111" d="M1006.1 301.3h0"/>
<path stroke="#0808e6" d="M999.7 361.8h0"/>
<path stroke="#0a7d0a" d="M838.8 179.8h0"/>
<path stroke="#0808e6" d="M751.1 417.3h0M911.7 296.4h0"/>
<path stroke="#bf00bf" d="M1073.9 158.1h0"/>
<path stroke="#ee1111" d="M894.9 135.0h0M1042.8 289.6h0"/>
<path stroke="#0a7d0a" d="M953.1 137.0h0M884.9 229.0h0"/>
<path stroke="#0808e6" d="M776.6 375.3h0M788.0 420.6h0"/>
<path stroke="#bf00bf" d="M900.7 207.6h0M943.9 153.7h0"/>
<path stroke="#0808e6" d="M921.8 306.6h0M820.2 387.2h0"/>
<path stroke="#ee1111" d="M981.7 396.4h0"/>
<path stroke="#0808e6" d="M844.7 430.9h0"/>
<path stroke="#bf00bf" d="M1000.3 90.1h0"/>
<path stroke="#0808e6" d="M775.0 312.5h0M875.0 234.8h0"/>
<path stroke="#bf00bf" d="M972.4 176.9h0"/>
<path stroke="#0a7d0a" d="M895.2 151.8h0"/>
<path stroke="#ee1111" d="M1062.7 256.8h0M929.5 406.0h0"/>
<path stroke="#bf00bf" d="M973.8 197.1h0M921.4 152.6h0M850.2 249.0h0"/>
<path stroke="#ee1111" d="M1019.6 349.6h0M1108.4 309.5h0"/>
<path stroke="#0808e6" d="M875.6 261.4h0"/>
<path stroke="#0a7d0a" d="M811.7 187.9h0"/>
<path stroke="#0808e6" d="M921.5 322.6h0M871.2 164.4h0M878.6 267.3h0M810.7 356.2h0"/>
<path stroke="#0a7d0a" d="M814.2 273.5h0"/>
<path stroke="#0808e6" d="M794.7 318.6h0"/>
<path stroke="#bf00bf" d="M935.4 137.2h0M997.9 189.8h0M956.4 194.4h0M934.0 189.1h0"/>
<path stroke="#0808e6" d="M1048.5 231.6h0"/>
<path stroke="#ee1111" d="M985.0 363.1h0"/>
<path stroke="#0a7d0a" d="M843.7 111.8h0"/>
<path stroke="#bf00bf" d="M932.8 189.1h0"/>
<path stroke="#ee1111" d="M932.7 347.8h0"/>
<path stroke="#0a7d0a" d="M782.5 214.2h0"/>
<path stroke="#0808e6" d="M766.4 329.9h0M805.9 390.7h0"/>
<path stroke="#ee1111" d="M940.1 340.0h0"/>
<path stroke="#0a7d0a" d="M893.7 330.2h0"/>
<path stroke="#0808e6" d="M938.0 303.7h0"/>
<path stroke="#ee1111" d="M986.1 341.6h0M1000.9 306.5h0"/>
<path stroke="#0808e6" d="M936.5 326.6h0M822.4 386.1h0"/>
<path stroke="#bf00bf" d="M1072.2 111.1h0"/>
<path stroke="#ee1111" d="M1039.7 266.8h0M993.9 191.5h0"/>
<path stroke="#bf00bf" d="M972.9 143.5h0M1008.3 231.0h0M1063.5 207.2h0"/>
<path stroke="#ee1111" d="M997.3 346.0h0"/>
<path stroke="#0a7d0a" d="M800.7 253.9h0"/>
<path stroke="#ee1111" d="M1033.9 163.6h0M981.9 358.3h0M1023.0 303.3h0"/>
<path stroke="#0808e6" d="M871.4 257.0h0M887.2 266.6h0"/>
<path stroke="#ee1111" d="M1028.2 231.5h0"/>
<path stroke="#bf00bf" d="M974.5 179.6h0M872.1 149.8h0"/>
<path stroke="#0808e6" d="M948.8 425.1h0"/>
<path stroke="#bf00bf" d="M1062.3 203.5h0"/>
<path stroke="#0a7d0a" d="M754.1 88.0h0"/>
<path stroke="#ee1111" d="M1025.3 267.8h0M1058.6 236.9h0"/>
<path stroke="#0808e6" d="M971.1 297.3h0"/>
<path stroke="#bf00bf" d="M1005.0 196.3h0M906.1 299.6h0"/>
<path stroke="#ee1111" d="M876.8 139.2h0"/>
<path stroke="#0808e6" d="M788.5 344.5h0"/>
<path stroke="#0a7d0a" d="M864.3 186.2h0"/>
<path stroke="#ee1111" d="M890.5 244.4h0M973.8 413.7h0"/>
<path stroke="#bf00bf" d="M894.8 215.1h0M1011.1 158.8h0M1028.6 190.4h0M938.6 319.7h0"/>
<path stroke="#0a7d0a" d="M802.1 205.5h0"/>
<path stroke="#0808e6" d="M799.1 273.5h0"/>
<path stroke="#ee1111" d="M1003.7 300.5h0M941.6 257.8h0"/>
<path stroke="#0a7d0a" d="M898.6 279.4h0"/>
<path stroke="#bf00bf" d="M976.0 216.1h0"/>
<path stroke="#ee1111" d="M1028.7 334.1h0"/>
<path stroke="#bf00bf" d="M916.4 111.9h0"/>
<path stroke="#0a7d0a" d="M802.6 249.2h0"/>
<path stroke="#bf00bf" d="M975.8 242.1h0"/>
<path stroke="#0808e6" d="M856.3 402.9h0"/>
<path stroke="#0a7d0a" d="M918.5 288.7h0"/>
<path stroke="#bf00bf" d="M997.6 173.1h0M984.6 196.9h0"/>
<path stroke="#0808e6" d="M784.1 317.7h0"/>
<path stroke="#0a7d0a" d="M879.8 221.4h0"/>
<path stroke="#0808e6" d="M813.2 315.6h0"/>
<path stroke="#ee1111" d="M937.3 330.8h0"/>
<path stroke="#0a7d0a" d="M795.4 209.5h0M871.0 212.2h0"/>
<path stroke="#bf00bf" d="M1097.7 228.0h0"/>
<path stroke="#ee1111" d="M1003.9 365.7h0"/>
<path stroke="#bf00bf" d="M979.5 191.7h0"/>
<path stroke="#0808e6" d="M871.0 264.6h0"/>
<path stroke="#bf00bf" d="M1044.0 140.2h0"/>
<path stroke="#ee1111" d="M1004.4 279.4h0M1093.4 323.7h0"/>
<path stroke="#0808e6" d="M887.0 236.4h0M921.0 307.3h0"/>
<path stroke="#bf00bf" d="M910.3 251.6h0M1065.1 78.4h0"/>
<path stroke="#0a7d0a" d="M879.8 250.8h0M834.4 190.8h0"/>
<path stroke="#ee1111" d="M981.8 377.3h0"/>
<path stroke="#0a7d0a" d="M851.0 173.1h0"/>
<path stroke="#0808e6" d="M1031.1 342.9h0"/>
<path stroke="#bf00bf" d="M951.9 302.7h0"/>
<path stroke="#0a7d0a" d="M855.2 209.0h0"/>
<path stroke="#bf00bf" d="M919.9 188.0h0"/>
<path stroke="#0808e6" d="M881.1 279.7h0"/>
<path stroke="#bf00bf" d="M1059.5 228.3h0M1031.3 326.7h0"/>
<path stroke="#ee1111" d="M987.9 411.8h0"/>
<path stroke="#0808e6" d="M939.6 184.1h0"/>
<path stroke="#0a7d0a" d="M895.0 169.0h0M822.8 224.8h0"/>
<path stroke="#bf00bf" d="M1023.7 185.4h0"/>
<path stroke="#0a7d0a" d="M935.4 132.9h0M902.6 207.8h0"/>
<path stroke="#bf00bf" d="M976.6 271.1h0"/>
<path stroke="#0808e6" d="M866.9 251.7h0"/>
<path stroke="#0a7d0a" d="M911.2 208.0h0"/>
<path stroke="#bf00bf" d="M1090.1 234.8h0"/>
<path stroke="#0808e6" d="M849.9 382.4h0"/>
<path stroke="#bf00bf" d="M948.2 318.8h0"/>
<path stroke="#ee1111" d="M893.6 251.7h0"/>
<path stroke="#bf00bf" d="M868.0 203.1h0M958.0 138.7h0M1096.7 234.1h0"/>
<path stroke="#0a7d0a" d="M785.5 161.7h0"/>
<path stroke="#bf00bf" d="M893.1 279.6h0"/>
<path stroke="#0808e6" d="M892.4 372.7h0"/>
<path stroke="#ee1111" d="M1053.3 308.2h0"/>
<path stroke="#0a7d0a" d="M832.7 237.3h0"/>
<path stroke="#bf00bf" d="M923.3 189.4h0M984.4 153.4h0"/>
<path stroke="#ee1111" d="M1083.6 364.8h0M930.4 258.2h0"/>
<path stroke="#bf00bf" d="M1098.4 140.0h0"/>
<path stroke="#ee1111" d="M982.0 263.0h0"/>
<path stroke="#0a7d0a" d="M873.6 251.6h0M905.7 163.8h0"/>
<path stroke="#bf00bf" d="M1088.8 151.3h0"/>
<path stroke="#0a7d0a" d="M793.7 222.3h0M909.4 216.4h0M817.5 182.7h0"/>
<path stroke="#0808e6" d="M838.5 408.3h0M764.2 310.7h0M870.8 333.9h0"/>
<path stroke="#0a7d0a" d="M854.5 200.4h0M803.5 294.0h0"/>
<path stroke="#ee1111" d="M1051.7 409.4h0"/>
<path stroke="#0808e6" d="M986.9 311.2h0"/>
<path stroke="#0a7d0a" d="M849.0 262.8h0"/>
<path stroke="#0808e6" d="M931.1 339.8h0"/>
</g></g>
<line x1="930.4" y1="259.2" x2="804.9" y2="137.2" stroke="#008000" stroke-width="5.2"/>
<polygon fill="#008000" points="790.6,123.2 817.0,133.3 805.6,137.9 801.4,149.4"/>
<line x1="930.4" y1="259.2" x2="804.9" y2="381.3" stroke="#0000ff" stroke-width="5.2"/>
<polygon fill="#0000ff" points="790.6,395.2 801.4,369.1 805.6,380.6 817.0,385.2"/>
<line x1="930.4" y1="259.2" x2="1055.9" y2="137.2" stroke="#bf00bf" stroke-width="5.2"/>
<polygon fill="#bf00bf" points="1070.2,123.2 1059.4,149.4 1055.2,137.9 1043.8,133.3"/>
<line x1="930.4" y1="259.2" x2="1055.9" y2="381.3" stroke="#ff0000" stroke-width="5.2"/>
<polygon fill="#ff0000" points="1070.2,395.2 1043.8,385.2 1055.2,380.6 1059.4,369.1"/>
<rect x="745.5" y="78.7" width="370.20000000000005" height="360.1" fill="none" stroke="#111" stroke-width="1.3"/>
<g stroke="#111" stroke-width="1.3">
<line x1="755.6" y1="438.8" x2="755.6" y2="447.3"/>
<line x1="737.5" y1="429.2" x2="745.5" y2="429.2"/>
<line x1="843.0" y1="438.8" x2="843.0" y2="447.3"/>
<line x1="737.5" y1="344.2" x2="745.5" y2="344.2"/>
<line x1="930.4" y1="438.8" x2="930.4" y2="447.3"/>
<line x1="737.5" y1="259.2" x2="745.5" y2="259.2"/>
<line x1="1017.8" y1="438.8" x2="1017.8" y2="447.3"/>
<line x1="737.5" y1="174.2" x2="745.5" y2="174.2"/>
<line x1="1105.2" y1="438.8" x2="1105.2" y2="447.3"/>
<line x1="737.5" y1="89.2" x2="745.5" y2="89.2"/>
</g>
<text x="724.5" y="95.2" font-size="18" text-anchor="end" color="#1a1a1a" textLength="37.8" lengthAdjust="spacingAndGlyphs">1.00</text>
<text x="724.5" y="137.7" font-size="18" text-anchor="end" color="#1a1a1a" textLength="37.8" lengthAdjust="spacingAndGlyphs">0.75</text>
<text x="724.5" y="180.2" font-size="18" text-anchor="end" color="#1a1a1a" textLength="37.8" lengthAdjust="spacingAndGlyphs">0.50</text>
<text x="724.5" y="222.7" font-size="18" text-anchor="end" color="#1a1a1a" textLength="37.8" lengthAdjust="spacingAndGlyphs">0.25</text>
<text x="724.5" y="265.1" font-size="18" text-anchor="end" color="#1a1a1a" textLength="10.8" lengthAdjust="spacingAndGlyphs">0</text>
<text x="724.5" y="307.6" font-size="18" text-anchor="end" color="#1a1a1a" textLength="49.2" lengthAdjust="spacingAndGlyphs">−0.25</text>
<text x="724.5" y="350.1" font-size="18" text-anchor="end" color="#1a1a1a" textLength="49.2" lengthAdjust="spacingAndGlyphs">−0.50</text>
<text x="724.5" y="392.6" font-size="18" text-anchor="end" color="#1a1a1a" textLength="49.2" lengthAdjust="spacingAndGlyphs">−0.75</text>
<text x="724.5" y="435.1" font-size="18" text-anchor="end" color="#1a1a1a" textLength="49.2" lengthAdjust="spacingAndGlyphs">−1.00</text>
<text x="754.8" y="473" font-size="18" text-anchor="middle" color="#1a1a1a" textLength="50.5" lengthAdjust="spacingAndGlyphs">−1.00</text>
<text x="842.2" y="473" font-size="18" text-anchor="middle" color="#1a1a1a" textLength="50.5" lengthAdjust="spacingAndGlyphs">−0.50</text>
<text x="930.4" y="473" font-size="18" text-anchor="middle" color="#1a1a1a" textLength="11.1" lengthAdjust="spacingAndGlyphs">0</text>
<text x="1017.8" y="473" font-size="18" text-anchor="middle" color="#1a1a1a" textLength="38.9" lengthAdjust="spacingAndGlyphs">0.50</text>
<text x="1105.2" y="473" font-size="18" text-anchor="middle" color="#1a1a1a" textLength="38.9" lengthAdjust="spacingAndGlyphs">1.00</text>
<text x="930.8" y="511.8" font-size="22.5" text-anchor="middle" color="#1a1a1a" textLength="279.3" lengthAdjust="spacingAndGlyphs">Thumb velocity (a.u. per s)</text>
<text x="930.3" y="538" font-size="22.5" text-anchor="middle" color="#1a1a1a" textLength="133" lengthAdjust="spacingAndGlyphs">flex(+)/ext(−)</text>
<text transform="translate(621.8,258.3) rotate(-90)" font-size="22.5" text-anchor="middle" color="#1a1a1a" textLength="349.7" lengthAdjust="spacingAndGlyphs">Index–middle velocity (a.u. per s)</text>
<text transform="translate(646.9,257.8) rotate(-90)" font-size="22.5" text-anchor="middle" color="#1a1a1a" textLength="131.6" lengthAdjust="spacingAndGlyphs">flex(+)/ext(−)</text>
</g>
<g id="panel-c">
<text x="1172.6" y="41.0" font-size="29.3" fill="#000" textLength="18.8" lengthAdjust="spacingAndGlyphs" font-weight="bold" stroke="#000" stroke-width="1.5">c</text>
<text x="1544" y="90" font-size="22.5" text-anchor="middle" color="#1a1a1a" textLength="291" lengthAdjust="spacingAndGlyphs">dSNR versus channel count</text>
<polyline points="1296.4,380.8 1391.5,350.9 1479.6,310.9 1537.6,276.6 1574.7,261.8 1606.8,244.3 1632.7,233.4 1652.5,219.3 1671.6,206.9 1686.8,194.5 1701.9,187.7 1715.5,179.4 1726.7,167.9 1738.1,164.7 1747.7,154.0 1757.5,151.2 1766.8,140.2 1774.6,132.6 1782.7,130.8 1789.7,123.1 1797.0,117.6" fill="none" stroke="#ff4040" stroke-width="3.2" stroke-opacity="0.1" stroke-linejoin="round"/>
<polyline points="1296.4,387.9 1391.5,359.3 1479.6,318.8 1537.6,285.3 1574.7,269.2 1606.8,252.9 1632.7,240.9 1652.5,226.8 1671.6,214.2 1686.8,203.6 1701.9,199.4 1715.5,184.0 1726.7,173.2 1738.1,168.3 1747.7,158.1 1757.5,158.0 1766.8,147.0 1774.6,144.2 1782.7,136.2 1789.7,130.0 1797.0,128.0" fill="none" stroke="#ff4040" stroke-width="3.2" stroke-opacity="0.1" stroke-linejoin="round"/>
<polyline points="1296.4,391.9 1391.5,362.4 1479.6,323.7 1537.6,291.7 1574.7,275.4 1606.8,259.0 1632.7,246.1 1652.5,234.5 1671.6,222.7 1686.8,211.0 1701.9,205.8 1715.5,194.5 1726.7,183.6 1738.1,176.4 1747.7,170.6 1757.5,165.6 1766.8,156.4 1774.6,149.1 1782.7,146.4 1789.7,142.8 1797.0,135.8" fill="none" stroke="#ff4040" stroke-width="3.2" stroke-opacity="0.1" stroke-linejoin="round"/>
<polyline points="1296.4,393.3 1391.5,368.4 1479.6,336.8 1537.6,310.8 1574.7,296.3 1606.8,283.9 1632.7,276.7 1652.5,262.2 1671.6,254.2 1686.8,243.3 1701.9,241.5 1715.5,230.4 1726.7,221.4 1738.1,217.7 1747.7,210.6 1757.5,206.2 1766.8,202.2 1774.6,192.8 1782.7,190.6 1789.7,188.0 1797.0,181.1" fill="none" stroke="#ff4040" stroke-width="3.2" stroke-opacity="0.1" stroke-linejoin="round"/>
<polyline points="1296.4,423.0 1391.5,410.8 1479.6,395.0 1537.6,393.2 1574.7,385.7 1606.8,377.3 1632.7,376.6 1652.5,367.0 1671.6,359.0 1686.8,361.5 1701.9,351.5 1715.5,350.9 1726.7,346.8 1738.1,339.8 1747.7,339.0 1757.5,337.3 1766.8,334.0 1774.6,328.1 1782.7,327.1 1789.7,324.3 1797.0,322.8" fill="none" stroke="#5050ff" stroke-width="3.2" stroke-opacity="0.14" stroke-linejoin="round"/>
<polyline points="1296.4,426.0 1391.5,414.1 1479.6,399.8 1537.6,399.3 1574.7,393.4 1606.8,384.1 1632.7,383.3 1652.5,374.3 1671.6,368.2 1686.8,368.3 1701.9,360.8 1715.5,360.3 1726.7,355.4 1738.1,349.0 1747.7,350.0 1757.5,343.9 1766.8,343.3 1774.6,338.7 1782.7,335.4 1789.7,334.4 1797.0,332.3" fill="none" stroke="#5050ff" stroke-width="3.2" stroke-opacity="0.14" stroke-linejoin="round"/>
<polyline points="1296.4,432.0 1391.5,423.6 1479.6,410.6 1537.6,406.2 1574.7,401.8 1606.8,396.9 1632.7,391.7 1652.5,387.1 1671.6,383.4 1686.8,380.1 1701.9,377.0 1715.5,374.7 1726.7,370.9 1738.1,367.9 1747.7,365.3 1757.5,363.2 1766.8,361.5 1774.6,360.5 1782.7,357.0 1789.7,355.9 1797.0,353.8" fill="none" stroke="#5050ff" stroke-width="3.2" stroke-opacity="0.14" stroke-linejoin="round"/>
<polyline points="1296.4,444.5 1391.5,439.2 1479.6,430.8 1537.6,427.3 1574.7,425.2 1606.8,420.4 1632.7,417.9 1652.5,415.2 1671.6,412.8 1686.8,410.1 1701.9,408.5 1715.5,406.5 1726.7,405.3 1738.1,402.4 1747.7,401.1 1757.5,399.1 1766.8,397.1 1774.6,399.4 1782.7,395.5 1789.7,393.0 1797.0,394.3" fill="none" stroke="#5050ff" stroke-width="3.2" stroke-opacity="0.14" stroke-linejoin="round"/>
<polyline points="1296.4,366.7 1304.7,364.8 1313.1,362.9 1321.4,360.9 1329.8,358.9 1338.1,356.8 1346.4,354.7 1354.8,352.5 1363.1,350.3 1371.5,348.1 1379.8,345.8 1388.2,343.4 1396.5,341.1 1404.8,338.6 1413.2,336.1 1421.5,333.6 1429.9,331.0 1438.2,328.3 1446.6,325.6 1454.9,322.8 1463.3,320.0 1471.6,317.1 1479.9,314.2 1488.3,311.2 1496.6,308.1 1505.0,305.0 1513.3,301.8 1521.7,298.5 1530.0,295.2 1538.4,291.8 1546.7,288.3 1555.0,284.8 1563.4,281.2 1571.7,277.5 1580.1,273.7 1588.4,269.9 1596.8,265.9 1605.1,261.9 1613.5,257.8 1621.8,253.6 1630.1,249.4 1638.5,245.0 1646.8,240.6 1655.2,236.0 1663.5,231.4 1671.9,226.7 1680.2,221.8 1688.5,216.9 1696.9,211.9 1705.2,206.7 1713.6,201.5 1721.9,196.1 1730.3,190.6 1738.6,185.0 1747.0,179.3 1755.3,173.5 1763.6,167.6 1772.0,161.5 1780.3,155.3 1788.7,149.0 1797.0,142.6" fill="none" stroke="#c41e3a" stroke-width="3.6" stroke-opacity="1" stroke-linejoin="round" stroke-dasharray="20 11"/>
<polyline points="1296.4,423.4 1304.7,422.5 1313.1,421.5 1321.4,420.6 1329.8,419.6 1338.1,418.6 1346.4,417.5 1354.8,416.5 1363.1,415.4 1371.5,414.2 1379.8,413.1 1388.2,411.9 1396.5,410.7 1404.8,409.4 1413.2,408.1 1421.5,406.8 1429.9,405.4 1438.2,404.0 1446.6,402.6 1454.9,401.1 1463.3,399.6 1471.6,398.1 1479.9,396.5 1488.3,394.9 1496.6,393.2 1505.0,391.5 1513.3,389.7 1521.7,387.9 1530.0,386.1 1538.4,384.2 1546.7,382.2 1555.0,380.2 1563.4,378.1 1571.7,376.0 1580.1,373.8 1588.4,371.6 1596.8,369.3 1605.1,367.0 1613.5,364.6 1621.8,362.1 1630.1,359.6 1638.5,356.9 1646.8,354.3 1655.2,351.5 1663.5,348.7 1671.9,345.8 1680.2,342.8 1688.5,339.8 1696.9,336.7 1705.2,333.4 1713.6,330.1 1721.9,326.8 1730.3,323.3 1738.6,319.7 1747.0,316.0 1755.3,312.3 1763.6,308.4 1772.0,304.5 1780.3,300.4 1788.7,296.2 1797.0,291.9" fill="none" stroke="#9a22ea" stroke-width="3.6" stroke-opacity="1" stroke-linejoin="round" stroke-dasharray="20 11"/>
<polyline points="1296.4,430.8 1304.7,430.2 1313.1,429.5 1321.4,428.9 1329.8,428.2 1338.1,427.5 1346.4,426.8 1354.8,426.0 1363.1,425.3 1371.5,424.5 1379.8,423.7 1388.2,422.9 1396.5,422.1 1404.8,421.3 1413.2,420.4 1421.5,419.5 1429.9,418.6 1438.2,417.7 1446.6,416.8 1454.9,415.8 1463.3,414.8 1471.6,413.8 1479.9,412.8 1488.3,411.7 1496.6,410.7 1505.0,409.5 1513.3,408.4 1521.7,407.3 1530.0,406.1 1538.4,404.9 1546.7,403.6 1555.0,402.3 1563.4,401.0 1571.7,399.7 1580.1,398.4 1588.4,397.0 1596.8,395.5 1605.1,394.1 1613.5,392.6 1621.8,391.0 1630.1,389.5 1638.5,387.9 1646.8,386.2 1655.2,384.6 1663.5,382.8 1671.9,381.1 1680.2,379.3 1688.5,377.5 1696.9,375.6 1705.2,373.6 1713.6,371.7 1721.9,369.7 1730.3,367.6 1738.6,365.5 1747.0,363.3 1755.3,361.1 1763.6,358.8 1772.0,356.5 1780.3,354.1 1788.7,351.7 1797.0,349.2" fill="none" stroke="#0b2545" stroke-width="3.6" stroke-opacity="1" stroke-linejoin="round" stroke-dasharray="20 11"/>
<polyline points="1296.4,385.6 1391.5,358.2 1479.6,321.0 1537.6,290.8 1574.7,275.5 1606.8,259.2 1632.7,248.8 1652.5,236.2 1671.6,224.0 1686.8,213.0 1701.9,207.8 1715.5,197.0 1726.7,186.2 1738.1,182.0 1747.7,174.5 1757.5,172.5 1766.8,162.5 1774.6,157.0 1782.7,151.2 1789.7,147.5 1797.0,142.5" fill="none" stroke="#c41e3a" stroke-width="3.3" stroke-opacity="1" stroke-linejoin="round"/>
<g fill="#c41e3a"><circle cx="1296.4" cy="385.6" r="3.9"/><circle cx="1391.5" cy="358.2" r="3.9"/><circle cx="1479.6" cy="321.0" r="3.9"/><circle cx="1537.6" cy="290.8" r="3.9"/><circle cx="1574.7" cy="275.5" r="3.9"/><circle cx="1606.8" cy="259.2" r="3.9"/><circle cx="1632.7" cy="248.8" r="3.9"/><circle cx="1652.5" cy="236.2" r="3.9"/><circle cx="1671.6" cy="224.0" r="3.9"/><circle cx="1686.8" cy="213.0" r="3.9"/><circle cx="1701.9" cy="207.8" r="3.9"/><circle cx="1715.5" cy="197.0" r="3.9"/><circle cx="1726.7" cy="186.2" r="3.9"/><circle cx="1738.1" cy="182.0" r="3.9"/><circle cx="1747.7" cy="174.5" r="3.9"/><circle cx="1757.5" cy="172.5" r="3.9"/><circle cx="1766.8" cy="162.5" r="3.9"/><circle cx="1774.6" cy="157.0" r="3.9"/><circle cx="1782.7" cy="151.2" r="3.9"/><circle cx="1789.7" cy="147.5" r="3.9"/><circle cx="1797.0" cy="142.5" r="3.9"/></g>
<polyline points="1296.4,422.0 1391.5,405.8 1479.6,386.2 1537.6,384.6 1574.7,376.6 1606.8,364.5 1632.7,363.2 1652.5,350.9 1671.6,341.2 1686.8,343.0 1701.9,331.2 1715.5,330.0 1726.7,323.8 1738.1,316.8 1747.7,315.0 1757.5,309.5 1766.8,307.0 1774.6,302.5 1782.7,299.5 1789.7,295.0 1797.0,292.0" fill="none" stroke="#9a22ea" stroke-width="3.3" stroke-opacity="1" stroke-linejoin="round"/>
<g fill="#9a22ea"><circle cx="1296.4" cy="422.0" r="3.9"/><circle cx="1391.5" cy="405.8" r="3.9"/><circle cx="1479.6" cy="386.2" r="3.9"/><circle cx="1537.6" cy="384.6" r="3.9"/><circle cx="1574.7" cy="376.6" r="3.9"/><circle cx="1606.8" cy="364.5" r="3.9"/><circle cx="1632.7" cy="363.2" r="3.9"/><circle cx="1652.5" cy="350.9" r="3.9"/><circle cx="1671.6" cy="341.2" r="3.9"/><circle cx="1686.8" cy="343.0" r="3.9"/><circle cx="1701.9" cy="331.2" r="3.9"/><circle cx="1715.5" cy="330.0" r="3.9"/><circle cx="1726.7" cy="323.8" r="3.9"/><circle cx="1738.1" cy="316.8" r="3.9"/><circle cx="1747.7" cy="315.0" r="3.9"/><circle cx="1757.5" cy="309.5" r="3.9"/><circle cx="1766.8" cy="307.0" r="3.9"/><circle cx="1774.6" cy="302.5" r="3.9"/><circle cx="1782.7" cy="299.5" r="3.9"/><circle cx="1789.7" cy="295.0" r="3.9"/><circle cx="1797.0" cy="292.0" r="3.9"/></g>
<polyline points="1296.4,430.5 1391.5,421.8 1479.6,408.5 1537.6,404.0 1574.7,399.2 1606.8,393.5 1632.7,388.5 1652.5,384.2 1671.6,380.0 1686.8,377.0 1701.9,373.8 1715.5,370.8 1726.7,367.5 1738.1,365.0 1747.7,362.0 1757.5,359.2 1766.8,357.5 1774.6,355.8 1782.7,353.2 1789.7,351.2 1797.0,349.2" fill="none" stroke="#0b2545" stroke-width="4.0" stroke-opacity="1" stroke-linejoin="round"/>
<g fill="#0b2545"><circle cx="1296.4" cy="430.5" r="4.0"/><circle cx="1391.5" cy="421.8" r="4.0"/><circle cx="1479.6" cy="408.5" r="4.0"/><circle cx="1537.6" cy="404.0" r="4.0"/><circle cx="1574.7" cy="399.2" r="4.0"/><circle cx="1606.8" cy="393.5" r="4.0"/><circle cx="1632.7" cy="388.5" r="4.0"/><circle cx="1652.5" cy="384.2" r="4.0"/><circle cx="1671.6" cy="380.0" r="4.0"/><circle cx="1686.8" cy="377.0" r="4.0"/><circle cx="1701.9" cy="373.8" r="4.0"/><circle cx="1715.5" cy="370.8" r="4.0"/><circle cx="1726.7" cy="367.5" r="4.0"/><circle cx="1738.1" cy="365.0" r="4.0"/><circle cx="1747.7" cy="362.0" r="4.0"/><circle cx="1757.5" cy="359.2" r="4.0"/><circle cx="1766.8" cy="357.5" r="4.0"/><circle cx="1774.6" cy="355.8" r="4.0"/><circle cx="1782.7" cy="353.2" r="4.0"/><circle cx="1789.7" cy="351.2" r="4.0"/><circle cx="1797.0" cy="349.2" r="4.0"/></g>
<rect x="1272.6" y="103.3" width="549.0" height="357.09999999999997" fill="none" stroke="#111" stroke-width="1.3"/>
<g stroke="#111" stroke-width="1.3">
<line x1="1263.1" y1="458.0" x2="1272.6" y2="458.0"/>
<line x1="1263.1" y1="361.6" x2="1272.6" y2="361.6"/>
<line x1="1263.1" y1="265.2" x2="1272.6" y2="265.2"/>
<line x1="1263.1" y1="168.8" x2="1272.6" y2="168.8"/>
<line x1="1391.5" y1="460.4" x2="1391.5" y2="468.2"/>
<line x1="1707.5" y1="460.4" x2="1707.5" y2="468.2"/>
<line x1="1296.4" y1="460.4" x2="1296.4" y2="465.2"/>
<line x1="1321.4" y1="460.4" x2="1321.4" y2="465.2"/>
<line x1="1342.6" y1="460.4" x2="1342.6" y2="465.2"/>
<line x1="1360.9" y1="460.4" x2="1360.9" y2="465.2"/>
<line x1="1377.0" y1="460.4" x2="1377.0" y2="465.2"/>
<line x1="1486.6" y1="460.4" x2="1486.6" y2="465.2"/>
<line x1="1542.3" y1="460.4" x2="1542.3" y2="465.2"/>
<line x1="1581.8" y1="460.4" x2="1581.8" y2="465.2"/>
<line x1="1612.4" y1="460.4" x2="1612.4" y2="465.2"/>
<line x1="1637.4" y1="460.4" x2="1637.4" y2="465.2"/>
<line x1="1658.6" y1="460.4" x2="1658.6" y2="465.2"/>
<line x1="1676.9" y1="460.4" x2="1676.9" y2="465.2"/>
<line x1="1693.0" y1="460.4" x2="1693.0" y2="465.2"/>
<line x1="1802.6" y1="460.4" x2="1802.6" y2="465.2"/>
</g>
<text x="1251" y="464.4" font-size="18" text-anchor="end" color="#1a1a1a" textLength="10.6" lengthAdjust="spacingAndGlyphs">0</text>
<text x="1251" y="368.0" font-size="18" text-anchor="end" color="#1a1a1a" textLength="37.1" lengthAdjust="spacingAndGlyphs">0.50</text>
<text x="1251" y="271.6" font-size="18" text-anchor="end" color="#1a1a1a" textLength="37.1" lengthAdjust="spacingAndGlyphs">1.00</text>
<text x="1251" y="175.2" font-size="18" text-anchor="end" color="#1a1a1a" textLength="37.1" lengthAdjust="spacingAndGlyphs">1.50</text>
<text x="1391.3" y="493.5" font-size="18" text-anchor="middle" color="#1a1a1a" textLength="20.0" lengthAdjust="spacingAndGlyphs">10</text>
<text x="1707.3" y="493.5" font-size="18" text-anchor="middle" color="#1a1a1a" textLength="32.0" lengthAdjust="spacingAndGlyphs">100</text>
<text x="1547" y="531" font-size="22.5" text-anchor="middle" color="#1a1a1a" textLength="214" lengthAdjust="spacingAndGlyphs">Number of channels</text>
<text transform="translate(1190.8,281.5) rotate(-90)" font-size="22.5" text-anchor="middle" color="#1a1a1a" textLength="163" lengthAdjust="spacingAndGlyphs">Directional SNR</text>
<line x1="1292" y1="125.0" x2="1315" y2="125.0" stroke="#c41e3a" stroke-width="3.6"/>
<circle cx="1303.5" cy="125.0" r="3.9" fill="#c41e3a"/>
<text x="1326.8" y="130.1" font-size="18" color="#1a1a1a" textLength="109" lengthAdjust="spacingAndGlyphs">2DOF, 2Fing</text>
<line x1="1292" y1="149.1" x2="1315" y2="149.1" stroke="#0b2545" stroke-width="3.6"/>
<circle cx="1303.5" cy="149.1" r="3.9" fill="#0b2545"/>
<text x="1327.5" y="154.2" font-size="18" color="#1a1a1a" textLength="109.5" lengthAdjust="spacingAndGlyphs">4DOF, 2Fing</text>
<line x1="1292" y1="173.2" x2="1315" y2="173.2" stroke="#9a22ea" stroke-width="3.6"/>
<circle cx="1303.5" cy="173.2" r="3.9" fill="#9a22ea"/>
<text x="1327.5" y="178.3" font-size="18" color="#1a1a1a" textLength="106" lengthAdjust="spacingAndGlyphs">4DOF, 1Fing</text>
<text transform="translate(1573.3,125) rotate(0)" font-size="18" color="#c8304e" textLength="171.7" lengthAdjust="spacingAndGlyphs">Exp = 0.34 , <tspan font-style="italic">R</tspan><tspan font-size="11.5" dy="-7.5">2</tspan><tspan dy="7.5"> </tspan>= 1.0</text>
<text transform="translate(1592.5,444.3) rotate(0)" font-size="18" color="#1d3557" textLength="172" lengthAdjust="spacingAndGlyphs">Exp = 0.38 , <tspan font-style="italic">R</tspan><tspan font-size="11.5" dy="-7.5">2</tspan><tspan dy="7.5"> </tspan>= 1.0</text>
<text transform="translate(1593,342.3) rotate(-21.5)" font-size="18" color="#9a22ea" textLength="189" lengthAdjust="spacingAndGlyphs">Exp = 0.43 , <tspan font-style="italic">R</tspan><tspan font-size="11.5" dy="-7.5">2</tspan><tspan dy="7.5"> </tspan>= 0.99</text>
</g>
</svg>
</body></html>
